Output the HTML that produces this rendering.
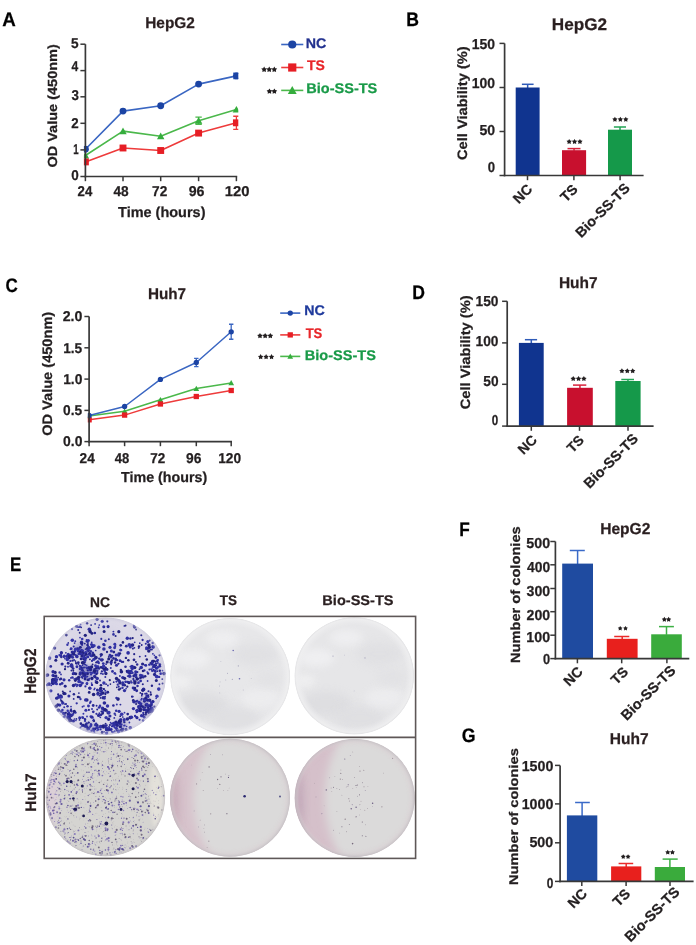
<!DOCTYPE html>
<html><head><meta charset="utf-8"><title>Figure</title>
<style>
html,body{margin:0;padding:0;background:#fff;}
svg{display:block;filter:blur(0.3px);}
text{font-family:"Liberation Sans", sans-serif;font-weight:bold;text-rendering:geometricPrecision;}
</style></head>
<body>
<svg width="696" height="945" viewBox="0 0 696 945">
<rect width="696" height="945" fill="#fff"/>
<clipPath id="ca"><rect x="83.9" y="0" width="154.4" height="945"/></clipPath>
<g clip-path="url(#ca)">
<polyline points="85.40,155.50 123.00,131.10 160.70,136.20 198.60,120.70 236.40,109.50" fill="none" stroke="#4bb84b" stroke-width="1.6" stroke-linejoin="round"/>
<line x1="198.60" y1="117.10" x2="198.60" y2="124.30" stroke="#4bb84b" stroke-width="1.3" />
<line x1="195.40" y1="117.10" x2="201.80" y2="117.10" stroke="#4bb84b" stroke-width="1.4" />
<line x1="195.40" y1="124.30" x2="201.80" y2="124.30" stroke="#4bb84b" stroke-width="1.4" />
<polygon points="85.40,151.88 89.13,158.60 81.67,158.60" fill="#35ad3d"/>
<polygon points="123.00,127.48 126.73,134.20 119.27,134.20" fill="#35ad3d"/>
<polygon points="160.70,132.58 164.43,139.30 156.97,139.30" fill="#35ad3d"/>
<polygon points="198.60,117.08 202.33,123.81 194.87,123.81" fill="#35ad3d"/>
<polygon points="236.40,105.88 240.13,112.61 232.67,112.61" fill="#35ad3d"/>
<polyline points="85.40,161.90 123.00,148.00 160.70,150.50 198.60,133.10 236.40,122.80" fill="none" stroke="#ee3b3b" stroke-width="1.6" stroke-linejoin="round"/>
<line x1="236.40" y1="116.20" x2="236.40" y2="129.40" stroke="#ee3b3b" stroke-width="1.3" />
<line x1="233.20" y1="116.20" x2="239.60" y2="116.20" stroke="#ee3b3b" stroke-width="1.4" />
<line x1="233.20" y1="129.40" x2="239.60" y2="129.40" stroke="#ee3b3b" stroke-width="1.4" />
<rect x="81.95" y="158.45" width="6.90" height="6.90" fill="#e61e25" />
<rect x="119.55" y="144.55" width="6.90" height="6.90" fill="#e61e25" />
<rect x="157.25" y="147.05" width="6.90" height="6.90" fill="#e61e25" />
<rect x="195.15" y="129.65" width="6.90" height="6.90" fill="#e61e25" />
<rect x="232.95" y="119.35" width="6.90" height="6.90" fill="#e61e25" />
<polyline points="85.40,149.30 123.00,111.10 160.70,105.70 198.60,84.10 236.40,75.90" fill="none" stroke="#3a66c2" stroke-width="1.6" stroke-linejoin="round"/>
<line x1="236.40" y1="73.30" x2="236.40" y2="78.50" stroke="#3a66c2" stroke-width="1.3" />
<line x1="233.20" y1="73.30" x2="239.60" y2="73.30" stroke="#3a66c2" stroke-width="1.4" />
<line x1="233.20" y1="78.50" x2="239.60" y2="78.50" stroke="#3a66c2" stroke-width="1.4" />
<circle cx="85.40" cy="149.30" r="3.45" fill="#1c44a4"/>
<circle cx="123.00" cy="111.10" r="3.45" fill="#1c44a4"/>
<circle cx="160.70" cy="105.70" r="3.45" fill="#1c44a4"/>
<circle cx="198.60" cy="84.10" r="3.45" fill="#1c44a4"/>
<circle cx="236.40" cy="75.90" r="3.45" fill="#1c44a4"/>
</g>
<line x1="85.40" y1="44.20" x2="85.40" y2="177.30" stroke="#383838" stroke-width="1.7" />
<line x1="84.55" y1="176.50" x2="237.20" y2="176.50" stroke="#383838" stroke-width="1.7" />
<line x1="80.40" y1="176.50" x2="85.40" y2="176.50" stroke="#383838" stroke-width="1.5" />
<line x1="80.40" y1="149.90" x2="85.40" y2="149.90" stroke="#383838" stroke-width="1.5" />
<line x1="80.40" y1="123.30" x2="85.40" y2="123.30" stroke="#383838" stroke-width="1.5" />
<line x1="80.40" y1="96.80" x2="85.40" y2="96.80" stroke="#383838" stroke-width="1.5" />
<line x1="80.40" y1="70.60" x2="85.40" y2="70.60" stroke="#383838" stroke-width="1.5" />
<line x1="80.40" y1="44.20" x2="85.40" y2="44.20" stroke="#383838" stroke-width="1.5" />
<line x1="85.40" y1="176.50" x2="85.40" y2="181.20" stroke="#383838" stroke-width="1.5" />
<line x1="123.00" y1="176.50" x2="123.00" y2="181.20" stroke="#383838" stroke-width="1.5" />
<line x1="160.70" y1="176.50" x2="160.70" y2="181.20" stroke="#383838" stroke-width="1.5" />
<line x1="198.60" y1="176.50" x2="198.60" y2="181.20" stroke="#383838" stroke-width="1.5" />
<line x1="236.40" y1="176.50" x2="236.40" y2="181.20" stroke="#383838" stroke-width="1.5" />
<clipPath id="cc"><rect x="87.8" y="0" width="152.2" height="945"/></clipPath>
<g clip-path="url(#cc)">
<polyline points="89.10,416.00 124.60,411.20 160.40,399.70 196.30,388.50 231.20,382.90" fill="none" stroke="#4bb84b" stroke-width="1.5" stroke-linejoin="round"/>
<polygon points="89.10,413.22 91.96,418.38 86.24,418.38" fill="#35ad3d"/>
<polygon points="124.60,408.42 127.46,413.58 121.74,413.58" fill="#35ad3d"/>
<polygon points="160.40,396.92 163.26,402.08 157.54,402.08" fill="#35ad3d"/>
<polygon points="196.30,385.72 199.16,390.88 193.44,390.88" fill="#35ad3d"/>
<polygon points="231.20,380.12 234.06,385.28 228.34,385.28" fill="#35ad3d"/>
<polyline points="89.10,419.80 124.60,415.10 160.40,404.00 196.30,396.50 231.20,390.50" fill="none" stroke="#ee3b3b" stroke-width="1.5" stroke-linejoin="round"/>
<line x1="231.20" y1="388.90" x2="231.20" y2="392.10" stroke="#ee3b3b" stroke-width="1.3" />
<line x1="229.00" y1="388.90" x2="233.40" y2="388.90" stroke="#ee3b3b" stroke-width="1.4" />
<line x1="229.00" y1="392.10" x2="233.40" y2="392.10" stroke="#ee3b3b" stroke-width="1.4" />
<rect x="86.45" y="417.15" width="5.30" height="5.30" fill="#e61e25" />
<rect x="121.95" y="412.45" width="5.30" height="5.30" fill="#e61e25" />
<rect x="157.75" y="401.35" width="5.30" height="5.30" fill="#e61e25" />
<rect x="193.65" y="393.85" width="5.30" height="5.30" fill="#e61e25" />
<rect x="228.55" y="387.85" width="5.30" height="5.30" fill="#e61e25" />
<polyline points="89.10,415.50 124.60,406.50 160.40,379.40 196.30,362.50 231.20,331.80" fill="none" stroke="#3a66c2" stroke-width="1.5" stroke-linejoin="round"/>
<line x1="196.30" y1="358.40" x2="196.30" y2="366.60" stroke="#3a66c2" stroke-width="1.3" />
<line x1="194.10" y1="358.40" x2="198.50" y2="358.40" stroke="#3a66c2" stroke-width="1.4" />
<line x1="194.10" y1="366.60" x2="198.50" y2="366.60" stroke="#3a66c2" stroke-width="1.4" />
<line x1="231.20" y1="324.30" x2="231.20" y2="339.30" stroke="#3a66c2" stroke-width="1.3" />
<line x1="229.00" y1="324.30" x2="233.40" y2="324.30" stroke="#3a66c2" stroke-width="1.4" />
<line x1="229.00" y1="339.30" x2="233.40" y2="339.30" stroke="#3a66c2" stroke-width="1.4" />
<circle cx="89.10" cy="415.50" r="2.65" fill="#1c44a4"/>
<circle cx="124.60" cy="406.50" r="2.65" fill="#1c44a4"/>
<circle cx="160.40" cy="379.40" r="2.65" fill="#1c44a4"/>
<circle cx="196.30" cy="362.50" r="2.65" fill="#1c44a4"/>
<circle cx="231.20" cy="331.80" r="2.65" fill="#1c44a4"/>
</g>
<line x1="89.10" y1="316.50" x2="89.10" y2="442.40" stroke="#383838" stroke-width="1.7" />
<line x1="88.25" y1="441.60" x2="232.00" y2="441.60" stroke="#383838" stroke-width="1.7" />
<line x1="84.40" y1="441.60" x2="89.10" y2="441.60" stroke="#383838" stroke-width="1.5" />
<line x1="84.40" y1="410.40" x2="89.10" y2="410.40" stroke="#383838" stroke-width="1.5" />
<line x1="84.40" y1="379.10" x2="89.10" y2="379.10" stroke="#383838" stroke-width="1.5" />
<line x1="84.40" y1="347.80" x2="89.10" y2="347.80" stroke="#383838" stroke-width="1.5" />
<line x1="84.40" y1="316.50" x2="89.10" y2="316.50" stroke="#383838" stroke-width="1.5" />
<line x1="89.10" y1="441.60" x2="89.10" y2="446.20" stroke="#383838" stroke-width="1.5" />
<line x1="124.60" y1="441.60" x2="124.60" y2="446.20" stroke="#383838" stroke-width="1.5" />
<line x1="160.40" y1="441.60" x2="160.40" y2="446.20" stroke="#383838" stroke-width="1.5" />
<line x1="196.30" y1="441.60" x2="196.30" y2="446.20" stroke="#383838" stroke-width="1.5" />
<line x1="231.20" y1="441.60" x2="231.20" y2="446.20" stroke="#383838" stroke-width="1.5" />
<line x1="281.20" y1="44.50" x2="303.30" y2="44.50" stroke="#3a66c2" stroke-width="1.6" />
<circle cx="292.25" cy="44.50" r="4.10" fill="#1c44a4"/>
<line x1="281.20" y1="67.50" x2="303.30" y2="67.50" stroke="#ee3b3b" stroke-width="1.6" />
<rect x="288.15" y="63.40" width="8.20" height="8.20" fill="#e61e25" />
<line x1="281.20" y1="90.40" x2="303.30" y2="90.40" stroke="#4bb84b" stroke-width="1.6" />
<polygon points="292.25,86.09 296.68,94.09 287.82,94.09" fill="#35ad3d"/>
<line x1="280.20" y1="313.10" x2="300.30" y2="313.10" stroke="#3a66c2" stroke-width="1.6" />
<circle cx="290.25" cy="313.10" r="2.65" fill="#1c44a4"/>
<line x1="280.20" y1="334.90" x2="300.30" y2="334.90" stroke="#ee3b3b" stroke-width="1.6" />
<rect x="287.60" y="332.25" width="5.30" height="5.30" fill="#e61e25" />
<line x1="280.20" y1="356.40" x2="300.30" y2="356.40" stroke="#4bb84b" stroke-width="1.6" />
<polygon points="290.25,353.62 293.11,358.78 287.39,358.78" fill="#35ad3d"/>
<polygon points="264.15,66.50 265.13,68.19 267.04,68.60 265.74,70.06 265.94,72.01 264.15,71.22 262.36,72.01 262.55,70.06 261.25,68.60 263.16,68.19" fill="#231f20"/>
<polygon points="269.23,66.50 270.21,68.19 272.12,68.60 270.82,70.06 271.01,72.01 269.23,71.22 267.44,72.01 267.63,70.06 266.33,68.60 268.24,68.19" fill="#231f20"/>
<polygon points="274.30,66.50 275.29,68.19 277.20,68.60 275.90,70.06 276.09,72.01 274.30,71.22 272.51,72.01 272.71,70.06 271.41,68.60 273.32,68.19" fill="#231f20"/>
<polygon points="269.44,88.40 270.40,90.06 272.28,90.46 271.00,91.89 271.19,93.80 269.44,93.03 267.68,93.80 267.88,91.89 266.60,90.46 268.47,90.06" fill="#231f20"/>
<polygon points="274.36,88.40 275.33,90.06 277.20,90.46 275.92,91.89 276.12,93.80 274.36,93.03 272.61,93.80 272.80,91.89 271.52,90.46 273.40,90.06" fill="#231f20"/>
<polygon points="259.98,333.00 260.93,334.62 262.76,335.02 261.51,336.42 261.70,338.29 259.98,337.53 258.26,338.29 258.45,336.42 257.20,335.02 259.04,334.62" fill="#231f20"/>
<polygon points="265.15,333.00 266.10,334.62 267.93,335.02 266.68,336.42 266.87,338.29 265.15,337.53 263.43,338.29 263.62,336.42 262.37,335.02 264.20,334.62" fill="#231f20"/>
<polygon points="270.32,333.00 271.26,334.62 273.10,335.02 271.85,336.42 272.04,338.29 270.32,337.53 268.60,338.29 268.79,336.42 267.54,335.02 269.37,334.62" fill="#231f20"/>
<polygon points="260.67,354.10 261.58,355.66 263.34,356.04 262.14,357.38 262.32,359.18 260.67,358.45 259.02,359.18 259.20,357.38 258.00,356.04 259.76,355.66" fill="#231f20"/>
<polygon points="266.10,354.10 267.01,355.66 268.77,356.04 267.57,357.38 267.75,359.18 266.10,358.45 264.45,359.18 264.63,357.38 263.43,356.04 265.19,355.66" fill="#231f20"/>
<polygon points="271.53,354.10 272.44,355.66 274.20,356.04 273.00,357.38 273.18,359.18 271.53,358.45 269.88,359.18 270.06,357.38 268.86,356.04 270.62,355.66" fill="#231f20"/>
<line x1="527.65" y1="84.30" x2="527.65" y2="88.00" stroke="#2f5bb8" stroke-width="1.5" />
<line x1="521.90" y1="84.30" x2="533.60" y2="84.30" stroke="#2f5bb8" stroke-width="1.5" />
<rect x="515.70" y="87.50" width="23.90" height="88.00" fill="#10348f" />
<line x1="574.05" y1="148.60" x2="574.05" y2="150.70" stroke="#d8203a" stroke-width="1.5" />
<line x1="567.50" y1="148.60" x2="580.50" y2="148.60" stroke="#d8203a" stroke-width="1.5" />
<rect x="562.00" y="150.20" width="24.10" height="25.30" fill="#c8102e" />
<line x1="620.00" y1="127.00" x2="620.00" y2="130.20" stroke="#22a555" stroke-width="1.5" />
<line x1="613.90" y1="127.00" x2="626.00" y2="127.00" stroke="#22a555" stroke-width="1.5" />
<rect x="608.00" y="129.70" width="24.00" height="45.80" fill="#15994a" />
<line x1="504.60" y1="43.40" x2="504.60" y2="176.30" stroke="#383838" stroke-width="1.7" />
<line x1="503.75" y1="175.50" x2="643.60" y2="175.50" stroke="#383838" stroke-width="1.7" />
<line x1="499.50" y1="175.50" x2="504.60" y2="175.50" stroke="#383838" stroke-width="1.5" />
<line x1="499.50" y1="131.50" x2="504.60" y2="131.50" stroke="#383838" stroke-width="1.5" />
<line x1="499.50" y1="87.50" x2="504.60" y2="87.50" stroke="#383838" stroke-width="1.5" />
<line x1="499.50" y1="43.40" x2="504.60" y2="43.40" stroke="#383838" stroke-width="1.5" />
<line x1="527.50" y1="175.50" x2="527.50" y2="180.20" stroke="#383838" stroke-width="1.5" />
<line x1="573.90" y1="175.50" x2="573.90" y2="180.20" stroke="#383838" stroke-width="1.5" />
<line x1="620.10" y1="175.50" x2="620.10" y2="180.20" stroke="#383838" stroke-width="1.5" />
<polygon points="569.17,138.90 570.08,140.46 571.84,140.84 570.64,142.18 570.82,143.98 569.17,143.25 567.52,143.98 567.70,142.18 566.50,140.84 568.26,140.46" fill="#231f20"/>
<polygon points="574.55,138.90 575.46,140.46 577.22,140.84 576.02,142.18 576.20,143.98 574.55,143.25 572.90,143.98 573.08,142.18 571.88,140.84 573.64,140.46" fill="#231f20"/>
<polygon points="579.93,138.90 580.84,140.46 582.60,140.84 581.40,142.18 581.58,143.98 579.93,143.25 578.28,143.98 578.46,142.18 577.26,140.84 579.02,140.46" fill="#231f20"/>
<polygon points="614.91,116.70 615.80,118.22 617.52,118.60 616.35,119.91 616.53,121.67 614.91,120.96 613.30,121.67 613.48,119.91 612.30,118.60 614.02,118.22" fill="#231f20"/>
<polygon points="620.35,116.70 621.24,118.22 622.96,118.60 621.79,119.91 621.96,121.67 620.35,120.96 618.74,121.67 618.91,119.91 617.74,118.60 619.46,118.22" fill="#231f20"/>
<polygon points="625.79,116.70 626.68,118.22 628.40,118.60 627.22,119.91 627.40,121.67 625.79,120.96 624.17,121.67 624.35,119.91 623.18,118.60 624.90,118.22" fill="#231f20"/>
<line x1="531.30" y1="339.70" x2="531.30" y2="343.40" stroke="#2f5bb8" stroke-width="1.5" />
<line x1="524.90" y1="339.70" x2="537.10" y2="339.70" stroke="#2f5bb8" stroke-width="1.5" />
<rect x="518.90" y="342.90" width="24.80" height="83.20" fill="#10348f" />
<line x1="579.95" y1="385.10" x2="579.95" y2="388.30" stroke="#d8203a" stroke-width="1.5" />
<line x1="573.00" y1="385.10" x2="586.30" y2="385.10" stroke="#d8203a" stroke-width="1.5" />
<rect x="567.10" y="387.80" width="25.70" height="38.30" fill="#c8102e" />
<line x1="627.95" y1="379.50" x2="627.95" y2="381.50" stroke="#22a555" stroke-width="1.5" />
<line x1="621.30" y1="379.50" x2="634.00" y2="379.50" stroke="#22a555" stroke-width="1.5" />
<rect x="615.30" y="381.00" width="25.30" height="45.10" fill="#15994a" />
<line x1="507.20" y1="301.30" x2="507.20" y2="426.90" stroke="#383838" stroke-width="1.7" />
<line x1="506.35" y1="426.10" x2="653.60" y2="426.10" stroke="#383838" stroke-width="1.7" />
<line x1="502.10" y1="426.10" x2="507.20" y2="426.10" stroke="#383838" stroke-width="1.5" />
<line x1="502.10" y1="384.30" x2="507.20" y2="384.30" stroke="#383838" stroke-width="1.5" />
<line x1="502.10" y1="342.90" x2="507.20" y2="342.90" stroke="#383838" stroke-width="1.5" />
<line x1="502.10" y1="301.30" x2="507.20" y2="301.30" stroke="#383838" stroke-width="1.5" />
<line x1="531.30" y1="426.10" x2="531.30" y2="430.80" stroke="#383838" stroke-width="1.5" />
<line x1="579.50" y1="426.10" x2="579.50" y2="430.80" stroke="#383838" stroke-width="1.5" />
<line x1="628.00" y1="426.10" x2="628.00" y2="430.80" stroke="#383838" stroke-width="1.5" />
<polygon points="573.23,375.90 574.15,377.49 575.95,377.88 574.72,379.25 574.91,381.08 573.23,380.34 571.54,381.08 571.73,379.25 570.50,377.88 572.30,377.49" fill="#231f20"/>
<polygon points="578.55,375.90 579.48,377.49 581.28,377.88 580.05,379.25 580.23,381.08 578.55,380.34 576.87,381.08 577.05,379.25 575.82,377.88 577.62,377.49" fill="#231f20"/>
<polygon points="583.87,375.90 584.80,377.49 586.60,377.88 585.37,379.25 585.56,381.08 583.87,380.34 582.19,381.08 582.38,379.25 581.15,377.88 582.95,377.49" fill="#231f20"/>
<polygon points="621.91,368.30 622.80,369.82 624.52,370.20 623.35,371.51 623.53,373.27 621.91,372.56 620.30,373.27 620.48,371.51 619.30,370.20 621.02,369.82" fill="#231f20"/>
<polygon points="627.30,368.30 628.19,369.82 629.91,370.20 628.74,371.51 628.91,373.27 627.30,372.56 625.69,373.27 625.86,371.51 624.69,370.20 626.41,369.82" fill="#231f20"/>
<polygon points="632.69,368.30 633.58,369.82 635.30,370.20 634.12,371.51 634.30,373.27 632.69,372.56 631.07,373.27 631.25,371.51 630.08,370.20 631.80,369.82" fill="#231f20"/>
<line x1="577.60" y1="550.50" x2="577.60" y2="564.10" stroke="#3a6ac8" stroke-width="1.5" />
<line x1="569.80" y1="550.50" x2="584.80" y2="550.50" stroke="#3a6ac8" stroke-width="1.5" />
<rect x="562.20" y="563.60" width="30.80" height="95.00" fill="#1f4ba0" />
<line x1="622.20" y1="636.50" x2="622.20" y2="639.30" stroke="#ea2b2b" stroke-width="1.5" />
<line x1="614.20" y1="636.50" x2="629.30" y2="636.50" stroke="#ea2b2b" stroke-width="1.5" />
<rect x="606.80" y="638.80" width="30.80" height="19.80" fill="#e8201d" />
<line x1="666.50" y1="626.60" x2="666.50" y2="634.80" stroke="#3db044" stroke-width="1.5" />
<line x1="659.00" y1="626.60" x2="673.90" y2="626.60" stroke="#3db044" stroke-width="1.5" />
<rect x="651.20" y="634.30" width="30.60" height="24.30" fill="#3aab3c" />
<line x1="555.40" y1="541.50" x2="555.40" y2="659.40" stroke="#383838" stroke-width="1.7" />
<line x1="554.55" y1="658.60" x2="689.30" y2="658.60" stroke="#383838" stroke-width="1.7" />
<line x1="550.30" y1="658.60" x2="555.40" y2="658.60" stroke="#383838" stroke-width="1.5" />
<line x1="550.30" y1="635.20" x2="555.40" y2="635.20" stroke="#383838" stroke-width="1.5" />
<line x1="550.30" y1="611.70" x2="555.40" y2="611.70" stroke="#383838" stroke-width="1.5" />
<line x1="550.30" y1="588.50" x2="555.40" y2="588.50" stroke="#383838" stroke-width="1.5" />
<line x1="550.30" y1="564.80" x2="555.40" y2="564.80" stroke="#383838" stroke-width="1.5" />
<line x1="550.30" y1="541.50" x2="555.40" y2="541.50" stroke="#383838" stroke-width="1.5" />
<line x1="577.40" y1="658.60" x2="577.40" y2="663.30" stroke="#383838" stroke-width="1.5" />
<line x1="621.70" y1="658.60" x2="621.70" y2="663.30" stroke="#383838" stroke-width="1.5" />
<line x1="666.90" y1="658.60" x2="666.90" y2="663.30" stroke="#383838" stroke-width="1.5" />
<polygon points="620.18,625.90 621.00,627.29 622.57,627.63 621.50,628.83 621.66,630.44 620.18,629.79 618.71,630.44 618.87,628.83 617.80,627.63 619.37,627.29" fill="#231f20"/>
<polygon points="625.52,625.90 626.33,627.29 627.90,627.63 626.83,628.83 626.99,630.44 625.52,629.79 624.04,630.44 624.20,628.83 623.13,627.63 624.70,627.29" fill="#231f20"/>
<polygon points="664.35,616.80 665.22,618.29 666.91,618.66 665.76,619.94 665.93,621.66 664.35,620.96 662.78,621.66 662.95,619.94 661.80,618.66 663.49,618.29" fill="#231f20"/>
<polygon points="668.65,616.80 669.51,618.29 671.20,618.66 670.05,619.94 670.22,621.66 668.65,620.96 667.07,621.66 667.24,619.94 666.09,618.66 667.78,618.29" fill="#231f20"/>
<line x1="582.10" y1="802.50" x2="582.10" y2="815.90" stroke="#3a6ac8" stroke-width="1.5" />
<line x1="575.10" y1="802.50" x2="589.80" y2="802.50" stroke="#3a6ac8" stroke-width="1.5" />
<rect x="566.90" y="815.40" width="30.40" height="66.00" fill="#1f4ba0" />
<line x1="626.20" y1="863.50" x2="626.20" y2="866.90" stroke="#ea2b2b" stroke-width="1.5" />
<line x1="618.60" y1="863.50" x2="633.20" y2="863.50" stroke="#ea2b2b" stroke-width="1.5" />
<rect x="611.10" y="866.40" width="30.20" height="15.00" fill="#e8201d" />
<line x1="669.90" y1="859.10" x2="669.90" y2="867.50" stroke="#3db044" stroke-width="1.5" />
<line x1="662.60" y1="859.10" x2="677.70" y2="859.10" stroke="#3db044" stroke-width="1.5" />
<rect x="654.80" y="867.00" width="30.20" height="14.40" fill="#3aab3c" />
<line x1="560.10" y1="765.40" x2="560.10" y2="882.20" stroke="#383838" stroke-width="1.7" />
<line x1="559.25" y1="881.40" x2="693.60" y2="881.40" stroke="#383838" stroke-width="1.7" />
<line x1="555.00" y1="881.40" x2="560.10" y2="881.40" stroke="#383838" stroke-width="1.5" />
<line x1="555.00" y1="842.80" x2="560.10" y2="842.80" stroke="#383838" stroke-width="1.5" />
<line x1="555.00" y1="803.90" x2="560.10" y2="803.90" stroke="#383838" stroke-width="1.5" />
<line x1="555.00" y1="765.40" x2="560.10" y2="765.40" stroke="#383838" stroke-width="1.5" />
<line x1="581.80" y1="881.40" x2="581.80" y2="886.10" stroke="#383838" stroke-width="1.5" />
<line x1="626.10" y1="881.40" x2="626.10" y2="886.10" stroke="#383838" stroke-width="1.5" />
<line x1="670.00" y1="881.40" x2="670.00" y2="886.10" stroke="#383838" stroke-width="1.5" />
<polygon points="623.24,854.20 624.07,855.62 625.68,855.97 624.58,857.20 624.75,858.84 623.24,858.18 621.73,858.84 621.90,857.20 620.80,855.97 622.41,855.62" fill="#231f20"/>
<polygon points="628.06,854.20 628.89,855.62 630.50,855.97 629.40,857.20 629.57,858.84 628.06,858.18 626.55,858.84 626.72,857.20 625.62,855.97 627.23,855.62" fill="#231f20"/>
<polygon points="667.75,849.70 668.62,851.19 670.31,851.56 669.16,852.84 669.33,854.56 667.75,853.86 666.18,854.56 666.35,852.84 665.20,851.56 666.89,851.19" fill="#231f20"/>
<polygon points="672.45,849.70 673.31,851.19 675.00,851.56 673.85,852.84 674.02,854.56 672.45,853.86 670.87,854.56 671.04,852.84 669.89,851.56 671.58,851.19" fill="#231f20"/>
<defs>
<filter id="blur2" x="-30%" y="-30%" width="160%" height="160%"><feGaussianBlur stdDeviation="2.2"/></filter>
<filter id="blur4" x="-40%" y="-40%" width="180%" height="180%"><feGaussianBlur stdDeviation="4"/></filter>
<filter id="blur7" x="-40%" y="-40%" width="180%" height="180%"><feGaussianBlur stdDeviation="7"/></filter>
<filter id="soft"><feGaussianBlur stdDeviation="0.35"/></filter>
<radialGradient id="rimA" cx="50%" cy="50%" r="50%"><stop offset="0.92" stop-color="#dcdae8" stop-opacity="0"/><stop offset="1" stop-color="#c4c2d6" stop-opacity="0.6"/></radialGradient>
<radialGradient id="rimL" cx="50%" cy="50%" r="50%"><stop offset="0.86" stop-color="#eeeef0" stop-opacity="0"/><stop offset="0.97" stop-color="#f0f0f1" stop-opacity="0.8"/><stop offset="1" stop-color="#e2e2e4" stop-opacity="0.7"/></radialGradient>
<radialGradient id="rimG" cx="50%" cy="50%" r="50%"><stop offset="0.93" stop-color="#d8d8d8" stop-opacity="0"/><stop offset="1" stop-color="#bdb8bd" stop-opacity="0.7"/></radialGradient>
<clipPath id="d1"><ellipse cx="105.5" cy="676.2" rx="60.4" ry="58.7"/></clipPath>
<clipPath id="d2"><ellipse cx="230.2" cy="676.6" rx="60.0" ry="58.6"/></clipPath>
<clipPath id="d3"><ellipse cx="354.3" cy="675.8" rx="59.8" ry="58.6"/></clipPath>
<clipPath id="d4"><ellipse cx="105.4" cy="797.6" rx="59.8" ry="58.8"/></clipPath>
<clipPath id="d5"><ellipse cx="230.0" cy="797.8" rx="60.0" ry="59.0"/></clipPath>
<clipPath id="d6"><ellipse cx="354.7" cy="797.9" rx="60.0" ry="59.0"/></clipPath>
</defs>
<g clip-path="url(#d1)">
<ellipse cx="105.5" cy="676.2" rx="60.4" ry="58.7" fill="#dcd9e7"/>
<ellipse cx="100" cy="645" rx="22" ry="14" fill="#cfcbe0" opacity="0.8" filter="url(#blur4)"/>
<circle cx="80.8" cy="649.3" r="7.0" fill="#4a47a0" opacity="0.28" filter="url(#blur2)"/>
<circle cx="86.1" cy="672.1" r="7.7" fill="#4a47a0" opacity="0.44" filter="url(#blur2)"/>
<circle cx="135.1" cy="677.3" r="5.6" fill="#4a47a0" opacity="0.18" filter="url(#blur2)"/>
<circle cx="156.2" cy="666.8" r="4.9" fill="#4a47a0" opacity="0.20" filter="url(#blur2)"/>
<circle cx="143.9" cy="703.6" r="6.3" fill="#4a47a0" opacity="0.32" filter="url(#blur2)"/>
<circle cx="149.2" cy="714.2" r="4.9" fill="#4a47a0" opacity="0.22" filter="url(#blur2)"/>
<circle cx="89.6" cy="728.2" r="6.3" fill="#4a47a0" opacity="0.30" filter="url(#blur2)"/>
<circle cx="121.1" cy="724.7" r="6.3" fill="#4a47a0" opacity="0.30" filter="url(#blur2)"/>
<circle cx="66.8" cy="714.2" r="4.9" fill="#4a47a0" opacity="0.18" filter="url(#blur2)"/>
<circle cx="72.2" cy="652.0" r="1.59" fill="#2a2a96"/>
<circle cx="87.8" cy="645.7" r="0.96" fill="#3030a0"/>
<circle cx="71.5" cy="648.8" r="1.18" fill="#3535a8"/>
<circle cx="84.2" cy="657.0" r="1.04" fill="#2a2a96"/>
<circle cx="72.3" cy="640.2" r="1.76" fill="#3535a8"/>
<circle cx="85.8" cy="652.6" r="1.63" fill="#2f2fa0"/>
<circle cx="91.6" cy="656.2" r="0.99" fill="#3030a0"/>
<circle cx="80.1" cy="647.4" r="1.18" fill="#25258a"/>
<circle cx="98.8" cy="647.3" r="1.73" fill="#3030a0"/>
<circle cx="75.3" cy="641.3" r="0.94" fill="#3535a8"/>
<circle cx="81.5" cy="650.3" r="1.55" fill="#3030a0"/>
<circle cx="78.4" cy="648.9" r="1.72" fill="#3030a0"/>
<circle cx="82.7" cy="654.2" r="0.96" fill="#3030a0"/>
<circle cx="88.5" cy="650.8" r="1.43" fill="#25258a"/>
<circle cx="68.3" cy="654.2" r="1.55" fill="#2f2fa0"/>
<circle cx="70.9" cy="648.1" r="0.88" fill="#3535a8"/>
<circle cx="70.5" cy="649.3" r="1.00" fill="#2f2fa0"/>
<circle cx="75.4" cy="650.8" r="0.86" fill="#2a2a96"/>
<circle cx="103.9" cy="649.0" r="1.78" fill="#3030a0"/>
<circle cx="86.7" cy="640.0" r="1.03" fill="#3030a0"/>
<circle cx="78.8" cy="653.9" r="1.30" fill="#3535a8"/>
<circle cx="80.2" cy="651.9" r="1.74" fill="#3030a0"/>
<circle cx="81.5" cy="642.2" r="1.64" fill="#3030a0"/>
<circle cx="84.8" cy="643.6" r="0.90" fill="#25258a"/>
<circle cx="93.9" cy="645.8" r="1.82" fill="#3535a8"/>
<circle cx="85.6" cy="649.3" r="1.00" fill="#2f2fa0"/>
<circle cx="87.5" cy="645.1" r="1.30" fill="#25258a"/>
<circle cx="87.8" cy="648.4" r="1.83" fill="#22227e"/>
<circle cx="89.7" cy="653.7" r="1.35" fill="#3030a0"/>
<circle cx="81.8" cy="643.8" r="1.45" fill="#2a2a96"/>
<circle cx="86.2" cy="652.6" r="1.12" fill="#3535a8"/>
<circle cx="92.3" cy="646.7" r="1.51" fill="#2a2a96"/>
<circle cx="84.7" cy="652.9" r="1.26" fill="#3535a8"/>
<circle cx="82.8" cy="650.8" r="1.34" fill="#3535a8"/>
<circle cx="82.1" cy="645.1" r="0.94" fill="#3030a0"/>
<circle cx="73.7" cy="646.5" r="1.04" fill="#2a2a96"/>
<circle cx="85.0" cy="659.9" r="1.67" fill="#3535a8"/>
<circle cx="87.7" cy="656.7" r="1.54" fill="#2f2fa0"/>
<circle cx="86.3" cy="654.2" r="0.95" fill="#22227e"/>
<circle cx="82.1" cy="654.7" r="1.52" fill="#3030a0"/>
<circle cx="93.2" cy="647.0" r="0.90" fill="#3535a8"/>
<circle cx="75.9" cy="663.0" r="1.01" fill="#25258a"/>
<circle cx="82.5" cy="656.1" r="1.40" fill="#2a2a96"/>
<circle cx="86.9" cy="641.3" r="1.35" fill="#3030a0"/>
<circle cx="97.9" cy="661.8" r="1.51" fill="#2a2a96"/>
<circle cx="82.1" cy="654.6" r="1.02" fill="#2a2a96"/>
<circle cx="81.7" cy="643.1" r="1.71" fill="#25258a"/>
<circle cx="80.0" cy="651.9" r="1.22" fill="#22227e"/>
<circle cx="88.6" cy="654.3" r="1.31" fill="#3535a8"/>
<circle cx="81.2" cy="658.8" r="1.51" fill="#25258a"/>
<circle cx="75.5" cy="654.9" r="0.88" fill="#2f2fa0"/>
<circle cx="88.6" cy="647.3" r="1.20" fill="#3535a8"/>
<circle cx="68.3" cy="642.9" r="0.86" fill="#2a2a96"/>
<circle cx="82.5" cy="653.0" r="1.64" fill="#22227e"/>
<circle cx="91.7" cy="642.3" r="0.86" fill="#3030a0"/>
<circle cx="80.8" cy="653.9" r="1.21" fill="#25258a"/>
<circle cx="79.7" cy="632.7" r="0.93" fill="#22227e"/>
<circle cx="86.5" cy="665.5" r="1.05" fill="#3535a8"/>
<circle cx="87.9" cy="642.9" r="1.02" fill="#2a2a96"/>
<circle cx="82.9" cy="673.8" r="1.03" fill="#25258a"/>
<circle cx="105.3" cy="676.9" r="0.99" fill="#3030a0"/>
<circle cx="86.9" cy="684.1" r="1.21" fill="#2f2fa0"/>
<circle cx="85.4" cy="686.4" r="1.09" fill="#2f2fa0"/>
<circle cx="80.8" cy="668.4" r="1.54" fill="#2a2a96"/>
<circle cx="91.6" cy="683.1" r="0.88" fill="#3535a8"/>
<circle cx="91.1" cy="674.4" r="1.15" fill="#3535a8"/>
<circle cx="72.0" cy="666.6" r="1.50" fill="#22227e"/>
<circle cx="81.4" cy="668.0" r="1.56" fill="#22227e"/>
<circle cx="90.6" cy="669.5" r="1.70" fill="#25258a"/>
<circle cx="92.1" cy="672.7" r="1.28" fill="#3535a8"/>
<circle cx="83.5" cy="673.0" r="1.85" fill="#22227e"/>
<circle cx="89.4" cy="678.7" r="0.87" fill="#2f2fa0"/>
<circle cx="82.4" cy="670.3" r="1.50" fill="#2a2a96"/>
<circle cx="75.6" cy="684.5" r="1.31" fill="#2f2fa0"/>
<circle cx="97.3" cy="670.7" r="1.24" fill="#25258a"/>
<circle cx="82.4" cy="662.6" r="1.53" fill="#22227e"/>
<circle cx="87.4" cy="673.7" r="1.45" fill="#25258a"/>
<circle cx="102.9" cy="674.0" r="0.97" fill="#3030a0"/>
<circle cx="80.1" cy="653.2" r="0.86" fill="#2a2a96"/>
<circle cx="96.9" cy="673.6" r="1.14" fill="#3535a8"/>
<circle cx="73.7" cy="673.5" r="1.81" fill="#3535a8"/>
<circle cx="73.7" cy="698.9" r="0.92" fill="#25258a"/>
<circle cx="94.7" cy="676.5" r="1.68" fill="#2a2a96"/>
<circle cx="84.7" cy="655.6" r="1.23" fill="#2a2a96"/>
<circle cx="85.1" cy="660.1" r="0.97" fill="#3030a0"/>
<circle cx="90.7" cy="655.6" r="1.31" fill="#2f2fa0"/>
<circle cx="79.1" cy="681.5" r="1.84" fill="#3535a8"/>
<circle cx="98.7" cy="663.0" r="1.26" fill="#3030a0"/>
<circle cx="74.2" cy="678.9" r="0.96" fill="#3030a0"/>
<circle cx="92.6" cy="664.5" r="0.95" fill="#22227e"/>
<circle cx="80.7" cy="666.7" r="1.09" fill="#2a2a96"/>
<circle cx="76.9" cy="666.8" r="1.43" fill="#2f2fa0"/>
<circle cx="95.7" cy="677.4" r="0.96" fill="#22227e"/>
<circle cx="101.9" cy="671.4" r="1.15" fill="#2a2a96"/>
<circle cx="85.0" cy="664.5" r="1.07" fill="#3030a0"/>
<circle cx="85.1" cy="662.0" r="1.07" fill="#3535a8"/>
<circle cx="72.4" cy="677.5" r="1.31" fill="#2f2fa0"/>
<circle cx="97.2" cy="678.5" r="1.78" fill="#3030a0"/>
<circle cx="96.3" cy="674.0" r="1.17" fill="#22227e"/>
<circle cx="80.5" cy="672.8" r="1.66" fill="#3030a0"/>
<circle cx="83.2" cy="663.5" r="0.88" fill="#25258a"/>
<circle cx="73.0" cy="660.7" r="0.85" fill="#3030a0"/>
<circle cx="86.0" cy="673.3" r="1.19" fill="#3535a8"/>
<circle cx="82.4" cy="683.1" r="1.47" fill="#2f2fa0"/>
<circle cx="87.4" cy="676.6" r="0.96" fill="#2a2a96"/>
<circle cx="95.5" cy="665.8" r="1.43" fill="#3535a8"/>
<circle cx="70.9" cy="677.9" r="0.93" fill="#3030a0"/>
<circle cx="80.8" cy="682.2" r="1.12" fill="#3535a8"/>
<circle cx="88.7" cy="679.9" r="1.11" fill="#2f2fa0"/>
<circle cx="92.0" cy="656.0" r="1.32" fill="#3535a8"/>
<circle cx="91.6" cy="666.9" r="1.65" fill="#22227e"/>
<circle cx="80.2" cy="668.7" r="1.51" fill="#3535a8"/>
<circle cx="92.0" cy="678.9" r="1.46" fill="#3030a0"/>
<circle cx="93.9" cy="659.3" r="1.66" fill="#3535a8"/>
<circle cx="81.5" cy="653.8" r="1.36" fill="#3030a0"/>
<circle cx="85.3" cy="676.7" r="1.69" fill="#3535a8"/>
<circle cx="80.2" cy="674.0" r="1.67" fill="#2a2a96"/>
<circle cx="87.9" cy="679.9" r="1.47" fill="#25258a"/>
<circle cx="79.7" cy="665.7" r="0.94" fill="#22227e"/>
<circle cx="80.2" cy="685.6" r="1.77" fill="#3030a0"/>
<circle cx="94.5" cy="671.1" r="1.84" fill="#3535a8"/>
<circle cx="87.8" cy="673.0" r="1.11" fill="#3030a0"/>
<circle cx="87.6" cy="670.5" r="0.99" fill="#22227e"/>
<circle cx="83.5" cy="662.4" r="1.51" fill="#22227e"/>
<circle cx="81.1" cy="684.8" r="1.28" fill="#3030a0"/>
<circle cx="90.2" cy="672.6" r="1.03" fill="#3030a0"/>
<circle cx="84.4" cy="672.6" r="1.07" fill="#3535a8"/>
<circle cx="88.8" cy="667.1" r="1.03" fill="#3535a8"/>
<circle cx="87.6" cy="673.9" r="0.97" fill="#22227e"/>
<circle cx="80.3" cy="666.0" r="1.06" fill="#3535a8"/>
<circle cx="78.4" cy="663.9" r="1.00" fill="#2f2fa0"/>
<circle cx="92.9" cy="653.9" r="1.48" fill="#3535a8"/>
<circle cx="84.0" cy="667.4" r="0.86" fill="#22227e"/>
<circle cx="81.3" cy="672.8" r="0.86" fill="#2f2fa0"/>
<circle cx="94.8" cy="672.7" r="1.60" fill="#3535a8"/>
<circle cx="85.0" cy="667.4" r="0.86" fill="#3030a0"/>
<circle cx="85.1" cy="679.1" r="1.43" fill="#25258a"/>
<circle cx="83.0" cy="663.2" r="1.48" fill="#22227e"/>
<circle cx="76.3" cy="663.6" r="1.16" fill="#25258a"/>
<circle cx="75.3" cy="680.6" r="1.42" fill="#22227e"/>
<circle cx="88.8" cy="670.3" r="1.09" fill="#2f2fa0"/>
<circle cx="97.3" cy="667.0" r="1.83" fill="#2f2fa0"/>
<circle cx="91.9" cy="678.3" r="1.48" fill="#22227e"/>
<circle cx="74.1" cy="660.1" r="1.02" fill="#3030a0"/>
<circle cx="78.9" cy="679.1" r="1.19" fill="#2a2a96"/>
<circle cx="96.1" cy="662.6" r="0.98" fill="#22227e"/>
<circle cx="94.2" cy="669.1" r="1.03" fill="#3535a8"/>
<circle cx="83.0" cy="667.8" r="1.02" fill="#3030a0"/>
<circle cx="83.6" cy="658.1" r="1.54" fill="#3535a8"/>
<circle cx="78.3" cy="662.6" r="1.37" fill="#25258a"/>
<circle cx="89.9" cy="688.2" r="1.70" fill="#3535a8"/>
<circle cx="107.1" cy="669.5" r="1.38" fill="#2a2a96"/>
<circle cx="60.6" cy="655.8" r="1.30" fill="#3535a8"/>
<circle cx="65.0" cy="669.2" r="1.14" fill="#22227e"/>
<circle cx="73.5" cy="654.0" r="1.84" fill="#22227e"/>
<circle cx="75.5" cy="661.1" r="0.85" fill="#25258a"/>
<circle cx="61.2" cy="655.1" r="1.04" fill="#2a2a96"/>
<circle cx="69.0" cy="658.2" r="0.87" fill="#25258a"/>
<circle cx="71.0" cy="656.2" r="1.23" fill="#2f2fa0"/>
<circle cx="71.4" cy="654.8" r="1.40" fill="#2f2fa0"/>
<circle cx="65.3" cy="666.6" r="1.06" fill="#25258a"/>
<circle cx="72.3" cy="660.5" r="0.90" fill="#22227e"/>
<circle cx="61.3" cy="657.1" r="1.22" fill="#2a2a96"/>
<circle cx="74.9" cy="650.8" r="1.22" fill="#3535a8"/>
<circle cx="76.5" cy="655.9" r="1.36" fill="#2f2fa0"/>
<circle cx="72.6" cy="657.3" r="1.53" fill="#3030a0"/>
<circle cx="71.5" cy="664.8" r="1.65" fill="#22227e"/>
<circle cx="68.0" cy="666.8" r="0.96" fill="#2f2fa0"/>
<circle cx="65.9" cy="652.8" r="0.85" fill="#2a2a96"/>
<circle cx="74.3" cy="652.1" r="1.34" fill="#2a2a96"/>
<circle cx="68.2" cy="663.2" r="1.47" fill="#25258a"/>
<circle cx="77.1" cy="648.1" r="0.85" fill="#2a2a96"/>
<circle cx="73.1" cy="668.6" r="1.41" fill="#2a2a96"/>
<circle cx="77.0" cy="656.7" r="1.37" fill="#25258a"/>
<circle cx="66.9" cy="656.4" r="1.63" fill="#2f2fa0"/>
<circle cx="63.8" cy="656.6" r="1.32" fill="#25258a"/>
<circle cx="69.2" cy="657.3" r="1.41" fill="#25258a"/>
<circle cx="76.9" cy="656.8" r="1.57" fill="#2f2fa0"/>
<circle cx="62.1" cy="664.0" r="1.61" fill="#3030a0"/>
<circle cx="64.3" cy="655.6" r="1.01" fill="#3535a8"/>
<circle cx="69.5" cy="656.1" r="1.72" fill="#22227e"/>
<circle cx="110.2" cy="654.9" r="0.98" fill="#22227e"/>
<circle cx="128.1" cy="652.9" r="1.83" fill="#2f2fa0"/>
<circle cx="115.1" cy="662.6" r="1.23" fill="#22227e"/>
<circle cx="120.0" cy="660.6" r="1.32" fill="#2f2fa0"/>
<circle cx="120.7" cy="645.3" r="1.35" fill="#25258a"/>
<circle cx="111.0" cy="657.0" r="1.53" fill="#3535a8"/>
<circle cx="118.7" cy="663.6" r="0.91" fill="#2f2fa0"/>
<circle cx="118.5" cy="655.0" r="1.72" fill="#3030a0"/>
<circle cx="116.1" cy="655.1" r="1.50" fill="#3535a8"/>
<circle cx="117.3" cy="660.1" r="1.04" fill="#3030a0"/>
<circle cx="114.0" cy="651.8" r="1.03" fill="#25258a"/>
<circle cx="111.1" cy="662.5" r="1.65" fill="#2f2fa0"/>
<circle cx="123.1" cy="661.9" r="1.16" fill="#2a2a96"/>
<circle cx="120.7" cy="661.0" r="0.94" fill="#3030a0"/>
<circle cx="115.9" cy="660.0" r="1.38" fill="#3030a0"/>
<circle cx="110.0" cy="655.2" r="1.48" fill="#3030a0"/>
<circle cx="111.8" cy="660.4" r="1.23" fill="#22227e"/>
<circle cx="112.6" cy="655.7" r="0.85" fill="#25258a"/>
<circle cx="118.1" cy="663.9" r="0.86" fill="#25258a"/>
<circle cx="111.4" cy="651.0" r="1.50" fill="#3535a8"/>
<circle cx="120.5" cy="650.1" r="1.29" fill="#3535a8"/>
<circle cx="118.4" cy="653.1" r="0.86" fill="#2a2a96"/>
<circle cx="115.3" cy="646.1" r="1.10" fill="#3030a0"/>
<circle cx="119.9" cy="653.5" r="1.31" fill="#22227e"/>
<circle cx="110.8" cy="668.0" r="0.98" fill="#3030a0"/>
<circle cx="119.9" cy="676.0" r="0.90" fill="#3030a0"/>
<circle cx="118.2" cy="654.4" r="1.01" fill="#3535a8"/>
<circle cx="116.5" cy="665.3" r="1.52" fill="#2f2fa0"/>
<circle cx="115.7" cy="658.8" r="1.25" fill="#25258a"/>
<circle cx="106.1" cy="664.1" r="0.96" fill="#2a2a96"/>
<circle cx="104.2" cy="666.1" r="0.96" fill="#25258a"/>
<circle cx="97.5" cy="672.9" r="1.00" fill="#2a2a96"/>
<circle cx="106.9" cy="669.0" r="0.85" fill="#25258a"/>
<circle cx="99.1" cy="658.7" r="1.10" fill="#2f2fa0"/>
<circle cx="106.0" cy="668.1" r="0.97" fill="#2a2a96"/>
<circle cx="95.3" cy="668.3" r="0.90" fill="#2a2a96"/>
<circle cx="96.1" cy="668.5" r="1.15" fill="#22227e"/>
<circle cx="104.3" cy="670.3" r="0.92" fill="#22227e"/>
<circle cx="104.7" cy="669.4" r="1.68" fill="#22227e"/>
<circle cx="98.0" cy="666.7" r="1.55" fill="#3535a8"/>
<circle cx="101.1" cy="667.4" r="1.41" fill="#22227e"/>
<circle cx="104.9" cy="671.6" r="0.95" fill="#3535a8"/>
<circle cx="111.6" cy="656.0" r="1.05" fill="#25258a"/>
<circle cx="105.6" cy="667.6" r="1.15" fill="#22227e"/>
<circle cx="114.8" cy="673.2" r="1.26" fill="#2f2fa0"/>
<circle cx="95.5" cy="670.6" r="0.98" fill="#25258a"/>
<circle cx="101.0" cy="673.5" r="1.00" fill="#2a2a96"/>
<circle cx="98.4" cy="668.1" r="1.35" fill="#2a2a96"/>
<circle cx="103.0" cy="668.1" r="1.32" fill="#25258a"/>
<circle cx="100.7" cy="659.6" r="1.20" fill="#25258a"/>
<circle cx="105.9" cy="673.5" r="1.65" fill="#22227e"/>
<circle cx="103.3" cy="663.6" r="1.39" fill="#3030a0"/>
<circle cx="104.6" cy="671.4" r="1.05" fill="#3535a8"/>
<circle cx="102.7" cy="668.5" r="0.87" fill="#22227e"/>
<circle cx="143.0" cy="671.1" r="1.24" fill="#22227e"/>
<circle cx="132.0" cy="666.7" r="1.84" fill="#2f2fa0"/>
<circle cx="131.2" cy="673.2" r="0.87" fill="#2f2fa0"/>
<circle cx="129.8" cy="673.5" r="1.22" fill="#25258a"/>
<circle cx="145.2" cy="676.2" r="1.23" fill="#22227e"/>
<circle cx="134.5" cy="689.7" r="1.24" fill="#2a2a96"/>
<circle cx="134.8" cy="667.6" r="1.64" fill="#22227e"/>
<circle cx="137.4" cy="672.1" r="1.04" fill="#2a2a96"/>
<circle cx="144.3" cy="670.4" r="1.21" fill="#2a2a96"/>
<circle cx="131.9" cy="668.3" r="0.85" fill="#2f2fa0"/>
<circle cx="135.7" cy="671.7" r="1.55" fill="#3030a0"/>
<circle cx="134.8" cy="675.2" r="1.34" fill="#2a2a96"/>
<circle cx="131.7" cy="682.6" r="1.13" fill="#3535a8"/>
<circle cx="140.4" cy="677.7" r="1.28" fill="#22227e"/>
<circle cx="130.1" cy="671.3" r="1.28" fill="#22227e"/>
<circle cx="136.7" cy="690.8" r="1.43" fill="#2a2a96"/>
<circle cx="132.6" cy="672.9" r="1.14" fill="#2f2fa0"/>
<circle cx="131.2" cy="671.2" r="1.38" fill="#2f2fa0"/>
<circle cx="129.7" cy="676.2" r="1.75" fill="#3030a0"/>
<circle cx="143.2" cy="677.3" r="1.23" fill="#25258a"/>
<circle cx="132.3" cy="668.3" r="1.83" fill="#3030a0"/>
<circle cx="136.3" cy="677.2" r="1.31" fill="#2a2a96"/>
<circle cx="128.3" cy="671.3" r="0.94" fill="#3030a0"/>
<circle cx="134.9" cy="683.0" r="1.73" fill="#22227e"/>
<circle cx="138.7" cy="678.5" r="0.87" fill="#25258a"/>
<circle cx="133.3" cy="679.1" r="1.02" fill="#22227e"/>
<circle cx="135.1" cy="689.5" r="1.20" fill="#3030a0"/>
<circle cx="128.8" cy="675.3" r="0.92" fill="#2f2fa0"/>
<circle cx="142.3" cy="675.9" r="1.57" fill="#3030a0"/>
<circle cx="143.1" cy="677.1" r="0.94" fill="#2f2fa0"/>
<circle cx="136.0" cy="675.3" r="0.86" fill="#2a2a96"/>
<circle cx="127.4" cy="671.9" r="1.45" fill="#3030a0"/>
<circle cx="147.6" cy="681.0" r="0.89" fill="#2f2fa0"/>
<circle cx="138.5" cy="682.7" r="1.33" fill="#3030a0"/>
<circle cx="138.3" cy="683.1" r="0.91" fill="#3535a8"/>
<circle cx="133.7" cy="676.1" r="1.35" fill="#25258a"/>
<circle cx="140.7" cy="675.4" r="1.56" fill="#3030a0"/>
<circle cx="127.7" cy="676.1" r="0.92" fill="#3030a0"/>
<circle cx="153.5" cy="669.8" r="0.88" fill="#2a2a96"/>
<circle cx="152.6" cy="661.6" r="1.75" fill="#2a2a96"/>
<circle cx="154.6" cy="674.5" r="1.64" fill="#25258a"/>
<circle cx="155.9" cy="667.6" r="1.07" fill="#3030a0"/>
<circle cx="156.2" cy="668.3" r="0.96" fill="#3030a0"/>
<circle cx="160.7" cy="673.7" r="1.35" fill="#3535a8"/>
<circle cx="148.1" cy="673.5" r="1.17" fill="#2a2a96"/>
<circle cx="156.2" cy="665.3" r="0.95" fill="#25258a"/>
<circle cx="151.1" cy="669.2" r="0.97" fill="#2f2fa0"/>
<circle cx="159.8" cy="666.2" r="1.38" fill="#2a2a96"/>
<circle cx="144.8" cy="665.1" r="0.96" fill="#3030a0"/>
<circle cx="155.2" cy="661.4" r="0.95" fill="#25258a"/>
<circle cx="154.3" cy="665.4" r="1.75" fill="#3030a0"/>
<circle cx="152.3" cy="663.0" r="1.42" fill="#3030a0"/>
<circle cx="156.6" cy="668.4" r="1.38" fill="#3030a0"/>
<circle cx="153.7" cy="666.4" r="1.40" fill="#3030a0"/>
<circle cx="149.4" cy="669.4" r="1.01" fill="#2a2a96"/>
<circle cx="152.5" cy="667.9" r="0.86" fill="#3535a8"/>
<circle cx="151.7" cy="664.3" r="1.28" fill="#2a2a96"/>
<circle cx="157.2" cy="660.9" r="1.21" fill="#2a2a96"/>
<circle cx="155.8" cy="663.2" r="0.88" fill="#25258a"/>
<circle cx="164.0" cy="673.6" r="1.82" fill="#25258a"/>
<circle cx="157.7" cy="660.1" r="1.24" fill="#3535a8"/>
<circle cx="153.7" cy="669.9" r="0.90" fill="#22227e"/>
<circle cx="153.7" cy="661.0" r="1.34" fill="#22227e"/>
<circle cx="150.4" cy="663.0" r="0.91" fill="#22227e"/>
<circle cx="156.2" cy="663.6" r="0.85" fill="#3030a0"/>
<circle cx="156.3" cy="680.5" r="1.50" fill="#22227e"/>
<circle cx="157.9" cy="667.3" r="1.32" fill="#3535a8"/>
<circle cx="155.5" cy="672.0" r="0.92" fill="#3030a0"/>
<circle cx="154.6" cy="665.2" r="0.86" fill="#22227e"/>
<circle cx="154.3" cy="666.3" r="1.64" fill="#2a2a96"/>
<circle cx="162.5" cy="670.6" r="0.89" fill="#3535a8"/>
<circle cx="149.6" cy="664.7" r="1.15" fill="#3535a8"/>
<circle cx="152.3" cy="670.8" r="1.31" fill="#3030a0"/>
<circle cx="157.3" cy="671.2" r="0.91" fill="#25258a"/>
<circle cx="155.9" cy="657.5" r="1.44" fill="#2a2a96"/>
<circle cx="146.8" cy="705.1" r="1.04" fill="#2a2a96"/>
<circle cx="147.1" cy="695.4" r="0.90" fill="#2f2fa0"/>
<circle cx="144.4" cy="699.3" r="1.31" fill="#2a2a96"/>
<circle cx="139.6" cy="705.9" r="0.95" fill="#3030a0"/>
<circle cx="146.1" cy="698.0" r="1.06" fill="#2a2a96"/>
<circle cx="133.1" cy="688.0" r="1.43" fill="#2f2fa0"/>
<circle cx="140.3" cy="710.7" r="1.62" fill="#22227e"/>
<circle cx="143.6" cy="689.4" r="1.83" fill="#2a2a96"/>
<circle cx="138.5" cy="706.3" r="1.28" fill="#2f2fa0"/>
<circle cx="146.2" cy="704.9" r="0.99" fill="#2f2fa0"/>
<circle cx="137.2" cy="700.8" r="1.13" fill="#3535a8"/>
<circle cx="141.8" cy="698.8" r="0.93" fill="#3030a0"/>
<circle cx="144.3" cy="701.2" r="1.20" fill="#2a2a96"/>
<circle cx="146.0" cy="712.7" r="0.91" fill="#22227e"/>
<circle cx="148.6" cy="706.3" r="1.54" fill="#3535a8"/>
<circle cx="142.4" cy="694.1" r="0.90" fill="#22227e"/>
<circle cx="143.2" cy="707.1" r="1.48" fill="#2a2a96"/>
<circle cx="137.5" cy="711.6" r="1.07" fill="#3535a8"/>
<circle cx="141.8" cy="706.0" r="1.00" fill="#22227e"/>
<circle cx="141.8" cy="695.7" r="0.85" fill="#25258a"/>
<circle cx="157.0" cy="696.3" r="1.75" fill="#3535a8"/>
<circle cx="149.7" cy="700.1" r="1.68" fill="#22227e"/>
<circle cx="145.7" cy="698.6" r="1.62" fill="#25258a"/>
<circle cx="141.3" cy="709.4" r="1.23" fill="#3030a0"/>
<circle cx="156.2" cy="698.3" r="0.89" fill="#3535a8"/>
<circle cx="144.0" cy="709.6" r="1.55" fill="#25258a"/>
<circle cx="139.9" cy="708.1" r="1.73" fill="#2a2a96"/>
<circle cx="139.0" cy="707.5" r="1.71" fill="#2a2a96"/>
<circle cx="146.7" cy="711.3" r="0.97" fill="#25258a"/>
<circle cx="146.2" cy="696.1" r="0.99" fill="#2a2a96"/>
<circle cx="148.1" cy="696.7" r="1.41" fill="#3030a0"/>
<circle cx="148.6" cy="713.2" r="0.92" fill="#3535a8"/>
<circle cx="147.7" cy="700.2" r="1.64" fill="#25258a"/>
<circle cx="151.4" cy="704.7" r="1.50" fill="#2a2a96"/>
<circle cx="136.1" cy="701.4" r="1.24" fill="#2a2a96"/>
<circle cx="152.9" cy="701.7" r="1.47" fill="#3030a0"/>
<circle cx="144.7" cy="701.5" r="1.05" fill="#22227e"/>
<circle cx="133.3" cy="700.4" r="1.39" fill="#22227e"/>
<circle cx="146.2" cy="705.0" r="1.69" fill="#22227e"/>
<circle cx="142.8" cy="690.2" r="1.68" fill="#25258a"/>
<circle cx="151.6" cy="708.2" r="1.85" fill="#3535a8"/>
<circle cx="150.4" cy="711.8" r="1.36" fill="#22227e"/>
<circle cx="141.1" cy="699.8" r="0.89" fill="#3535a8"/>
<circle cx="145.9" cy="714.2" r="1.18" fill="#2a2a96"/>
<circle cx="133.3" cy="702.2" r="0.89" fill="#3030a0"/>
<circle cx="139.4" cy="707.2" r="0.86" fill="#3030a0"/>
<circle cx="153.2" cy="701.8" r="1.27" fill="#2f2fa0"/>
<circle cx="136.1" cy="704.0" r="1.01" fill="#22227e"/>
<circle cx="142.1" cy="693.9" r="1.07" fill="#25258a"/>
<circle cx="149.5" cy="700.3" r="1.13" fill="#2a2a96"/>
<circle cx="148.2" cy="695.3" r="0.97" fill="#25258a"/>
<circle cx="150.8" cy="694.5" r="1.19" fill="#22227e"/>
<circle cx="150.6" cy="692.2" r="0.92" fill="#25258a"/>
<circle cx="152.6" cy="701.3" r="0.93" fill="#22227e"/>
<circle cx="134.1" cy="702.2" r="1.30" fill="#3030a0"/>
<circle cx="146.0" cy="697.4" r="0.85" fill="#2a2a96"/>
<circle cx="140.8" cy="705.3" r="1.40" fill="#3030a0"/>
<circle cx="142.8" cy="684.3" r="1.02" fill="#25258a"/>
<circle cx="141.2" cy="706.3" r="1.15" fill="#22227e"/>
<circle cx="145.8" cy="710.0" r="1.34" fill="#2a2a96"/>
<circle cx="139.6" cy="719.8" r="1.11" fill="#2f2fa0"/>
<circle cx="149.0" cy="705.6" r="1.55" fill="#2f2fa0"/>
<circle cx="150.8" cy="709.7" r="1.44" fill="#3535a8"/>
<circle cx="144.6" cy="699.7" r="1.75" fill="#3535a8"/>
<circle cx="150.4" cy="706.3" r="0.97" fill="#22227e"/>
<circle cx="132.0" cy="696.7" r="1.08" fill="#25258a"/>
<circle cx="146.9" cy="704.3" r="1.45" fill="#3535a8"/>
<circle cx="146.3" cy="712.2" r="1.22" fill="#22227e"/>
<circle cx="151.5" cy="709.0" r="0.90" fill="#3030a0"/>
<circle cx="137.4" cy="710.6" r="1.80" fill="#2f2fa0"/>
<circle cx="145.7" cy="714.5" r="0.89" fill="#22227e"/>
<circle cx="150.7" cy="709.6" r="0.90" fill="#2a2a96"/>
<circle cx="143.3" cy="713.1" r="1.10" fill="#2f2fa0"/>
<circle cx="147.2" cy="711.1" r="1.23" fill="#2f2fa0"/>
<circle cx="143.1" cy="720.5" r="1.26" fill="#3030a0"/>
<circle cx="147.6" cy="707.6" r="1.04" fill="#3030a0"/>
<circle cx="153.2" cy="709.8" r="0.86" fill="#2a2a96"/>
<circle cx="139.1" cy="702.4" r="1.75" fill="#2f2fa0"/>
<circle cx="154.4" cy="706.7" r="1.14" fill="#25258a"/>
<circle cx="148.7" cy="712.0" r="1.39" fill="#22227e"/>
<circle cx="143.7" cy="714.8" r="1.13" fill="#25258a"/>
<circle cx="151.8" cy="710.9" r="1.76" fill="#2a2a96"/>
<circle cx="150.4" cy="709.2" r="1.34" fill="#2a2a96"/>
<circle cx="150.7" cy="711.2" r="1.15" fill="#2a2a96"/>
<circle cx="143.4" cy="712.5" r="0.85" fill="#2f2fa0"/>
<circle cx="141.6" cy="715.7" r="1.63" fill="#2f2fa0"/>
<circle cx="136.7" cy="717.2" r="1.21" fill="#2f2fa0"/>
<circle cx="152.6" cy="707.9" r="0.87" fill="#3030a0"/>
<circle cx="148.3" cy="710.7" r="1.58" fill="#25258a"/>
<circle cx="83.1" cy="725.4" r="1.72" fill="#25258a"/>
<circle cx="109.0" cy="729.5" r="1.38" fill="#3030a0"/>
<circle cx="90.9" cy="724.1" r="1.05" fill="#3535a8"/>
<circle cx="85.7" cy="724.7" r="1.24" fill="#22227e"/>
<circle cx="88.9" cy="722.6" r="0.95" fill="#2a2a96"/>
<circle cx="97.2" cy="725.4" r="1.39" fill="#25258a"/>
<circle cx="88.6" cy="722.6" r="0.99" fill="#25258a"/>
<circle cx="90.9" cy="725.7" r="1.33" fill="#3535a8"/>
<circle cx="91.4" cy="730.4" r="0.93" fill="#3535a8"/>
<circle cx="85.2" cy="719.3" r="1.16" fill="#25258a"/>
<circle cx="94.0" cy="721.0" r="1.16" fill="#22227e"/>
<circle cx="93.4" cy="730.6" r="0.90" fill="#25258a"/>
<circle cx="91.4" cy="730.9" r="0.86" fill="#2f2fa0"/>
<circle cx="87.5" cy="729.5" r="1.04" fill="#25258a"/>
<circle cx="95.4" cy="725.0" r="1.39" fill="#3030a0"/>
<circle cx="80.5" cy="727.5" r="0.99" fill="#3535a8"/>
<circle cx="90.8" cy="716.5" r="1.30" fill="#3535a8"/>
<circle cx="88.6" cy="728.8" r="1.56" fill="#3535a8"/>
<circle cx="100.6" cy="726.9" r="1.79" fill="#3030a0"/>
<circle cx="85.0" cy="720.9" r="1.16" fill="#3535a8"/>
<circle cx="95.2" cy="728.8" r="1.39" fill="#25258a"/>
<circle cx="94.4" cy="732.0" r="0.87" fill="#2a2a96"/>
<circle cx="93.5" cy="720.5" r="0.86" fill="#3535a8"/>
<circle cx="96.1" cy="723.6" r="1.22" fill="#3030a0"/>
<circle cx="97.2" cy="727.6" r="1.78" fill="#3535a8"/>
<circle cx="87.0" cy="716.5" r="0.90" fill="#3535a8"/>
<circle cx="86.7" cy="725.2" r="0.87" fill="#2f2fa0"/>
<circle cx="93.7" cy="730.5" r="1.50" fill="#3535a8"/>
<circle cx="80.9" cy="723.7" r="1.35" fill="#25258a"/>
<circle cx="81.8" cy="726.0" r="1.05" fill="#2f2fa0"/>
<circle cx="85.0" cy="726.4" r="1.45" fill="#2a2a96"/>
<circle cx="106.1" cy="717.6" r="1.67" fill="#3535a8"/>
<circle cx="93.1" cy="720.4" r="0.89" fill="#2f2fa0"/>
<circle cx="91.5" cy="724.6" r="0.89" fill="#3030a0"/>
<circle cx="87.2" cy="727.4" r="1.46" fill="#22227e"/>
<circle cx="93.5" cy="729.0" r="1.38" fill="#2f2fa0"/>
<circle cx="104.5" cy="727.0" r="1.02" fill="#2f2fa0"/>
<circle cx="86.6" cy="723.6" r="1.30" fill="#2a2a96"/>
<circle cx="84.7" cy="719.1" r="0.98" fill="#2a2a96"/>
<circle cx="90.0" cy="727.1" r="1.02" fill="#2f2fa0"/>
<circle cx="117.6" cy="723.0" r="1.10" fill="#2a2a96"/>
<circle cx="116.2" cy="724.1" r="0.88" fill="#2a2a96"/>
<circle cx="116.0" cy="722.3" r="1.81" fill="#25258a"/>
<circle cx="120.0" cy="723.3" r="1.15" fill="#2f2fa0"/>
<circle cx="119.4" cy="721.6" r="1.59" fill="#22227e"/>
<circle cx="129.4" cy="722.5" r="0.91" fill="#3535a8"/>
<circle cx="114.7" cy="725.9" r="1.00" fill="#3535a8"/>
<circle cx="114.3" cy="717.9" r="0.93" fill="#3030a0"/>
<circle cx="121.7" cy="714.2" r="1.78" fill="#3535a8"/>
<circle cx="100.8" cy="726.5" r="1.73" fill="#3535a8"/>
<circle cx="127.7" cy="714.1" r="1.31" fill="#25258a"/>
<circle cx="115.5" cy="728.3" r="0.86" fill="#3535a8"/>
<circle cx="108.6" cy="719.2" r="1.70" fill="#2a2a96"/>
<circle cx="113.5" cy="723.4" r="1.57" fill="#2f2fa0"/>
<circle cx="108.7" cy="730.3" r="0.89" fill="#22227e"/>
<circle cx="120.2" cy="726.6" r="1.20" fill="#22227e"/>
<circle cx="119.1" cy="711.3" r="1.64" fill="#2f2fa0"/>
<circle cx="120.2" cy="716.2" r="0.91" fill="#22227e"/>
<circle cx="121.2" cy="719.3" r="1.01" fill="#2f2fa0"/>
<circle cx="119.1" cy="723.3" r="1.29" fill="#25258a"/>
<circle cx="126.0" cy="729.5" r="1.49" fill="#25258a"/>
<circle cx="114.8" cy="724.6" r="1.38" fill="#3030a0"/>
<circle cx="130.3" cy="727.8" r="1.75" fill="#2f2fa0"/>
<circle cx="116.5" cy="723.9" r="1.14" fill="#2a2a96"/>
<circle cx="118.9" cy="730.6" r="1.19" fill="#2f2fa0"/>
<circle cx="121.3" cy="727.0" r="0.91" fill="#3535a8"/>
<circle cx="135.1" cy="716.0" r="1.18" fill="#3030a0"/>
<circle cx="114.7" cy="713.7" r="1.17" fill="#2f2fa0"/>
<circle cx="111.1" cy="730.1" r="1.05" fill="#2f2fa0"/>
<circle cx="108.7" cy="719.1" r="0.94" fill="#22227e"/>
<circle cx="121.3" cy="724.6" r="1.30" fill="#2f2fa0"/>
<circle cx="121.3" cy="730.0" r="0.87" fill="#22227e"/>
<circle cx="120.1" cy="726.7" r="1.29" fill="#22227e"/>
<circle cx="130.3" cy="717.6" r="1.82" fill="#22227e"/>
<circle cx="116.4" cy="728.2" r="1.54" fill="#3535a8"/>
<circle cx="119.5" cy="723.7" r="1.09" fill="#3030a0"/>
<circle cx="118.5" cy="731.6" r="1.82" fill="#3535a8"/>
<circle cx="137.0" cy="717.7" r="1.52" fill="#2a2a96"/>
<circle cx="116.9" cy="725.4" r="1.35" fill="#25258a"/>
<circle cx="124.4" cy="722.2" r="1.14" fill="#22227e"/>
<circle cx="124.2" cy="719.7" r="1.62" fill="#3030a0"/>
<circle cx="117.3" cy="725.3" r="1.38" fill="#25258a"/>
<circle cx="136.2" cy="710.5" r="1.07" fill="#3030a0"/>
<circle cx="124.0" cy="725.6" r="0.86" fill="#3535a8"/>
<circle cx="120.3" cy="719.3" r="1.01" fill="#2a2a96"/>
<circle cx="131.4" cy="717.2" r="1.80" fill="#2f2fa0"/>
<circle cx="120.3" cy="721.4" r="1.73" fill="#25258a"/>
<circle cx="116.2" cy="710.7" r="1.28" fill="#3030a0"/>
<circle cx="118.7" cy="725.5" r="0.88" fill="#2f2fa0"/>
<circle cx="122.0" cy="730.0" r="1.82" fill="#22227e"/>
<circle cx="120.1" cy="720.6" r="1.68" fill="#2a2a96"/>
<circle cx="123.1" cy="728.9" r="1.22" fill="#3535a8"/>
<circle cx="115.4" cy="715.1" r="0.94" fill="#2a2a96"/>
<circle cx="114.7" cy="731.4" r="1.04" fill="#3535a8"/>
<circle cx="127.4" cy="719.1" r="1.76" fill="#25258a"/>
<circle cx="121.8" cy="730.0" r="1.74" fill="#25258a"/>
<circle cx="114.4" cy="727.2" r="1.00" fill="#3535a8"/>
<circle cx="104.1" cy="731.8" r="0.85" fill="#3030a0"/>
<circle cx="107.6" cy="729.7" r="1.26" fill="#25258a"/>
<circle cx="106.1" cy="727.9" r="1.18" fill="#2a2a96"/>
<circle cx="111.8" cy="731.7" r="0.88" fill="#2a2a96"/>
<circle cx="109.0" cy="726.8" r="0.87" fill="#3030a0"/>
<circle cx="110.0" cy="729.9" r="1.30" fill="#2a2a96"/>
<circle cx="102.0" cy="731.6" r="0.95" fill="#3535a8"/>
<circle cx="106.2" cy="729.9" r="1.29" fill="#25258a"/>
<circle cx="103.2" cy="727.8" r="1.01" fill="#22227e"/>
<circle cx="109.9" cy="725.0" r="1.10" fill="#25258a"/>
<circle cx="100.7" cy="729.6" r="0.96" fill="#2f2fa0"/>
<circle cx="106.8" cy="725.3" r="1.04" fill="#3030a0"/>
<circle cx="111.3" cy="729.2" r="1.26" fill="#2f2fa0"/>
<circle cx="109.3" cy="727.5" r="1.03" fill="#3030a0"/>
<circle cx="106.5" cy="728.0" r="0.87" fill="#22227e"/>
<circle cx="102.1" cy="732.6" r="1.36" fill="#22227e"/>
<circle cx="110.6" cy="722.7" r="0.87" fill="#3535a8"/>
<circle cx="107.7" cy="729.9" r="1.31" fill="#25258a"/>
<circle cx="103.4" cy="726.1" r="1.84" fill="#22227e"/>
<circle cx="57.8" cy="709.8" r="0.99" fill="#25258a"/>
<circle cx="68.0" cy="716.7" r="1.78" fill="#3535a8"/>
<circle cx="72.5" cy="714.8" r="1.35" fill="#3535a8"/>
<circle cx="76.4" cy="718.9" r="0.89" fill="#25258a"/>
<circle cx="61.2" cy="711.6" r="1.38" fill="#2f2fa0"/>
<circle cx="67.7" cy="710.7" r="1.20" fill="#3535a8"/>
<circle cx="69.4" cy="717.5" r="1.56" fill="#3030a0"/>
<circle cx="70.9" cy="715.3" r="1.43" fill="#3030a0"/>
<circle cx="62.4" cy="710.0" r="1.30" fill="#3535a8"/>
<circle cx="74.5" cy="719.0" r="0.87" fill="#2f2fa0"/>
<circle cx="68.6" cy="717.5" r="1.48" fill="#2f2fa0"/>
<circle cx="70.8" cy="720.5" r="1.79" fill="#25258a"/>
<circle cx="71.0" cy="706.6" r="0.88" fill="#2f2fa0"/>
<circle cx="71.5" cy="716.1" r="1.14" fill="#22227e"/>
<circle cx="64.5" cy="716.7" r="1.26" fill="#3030a0"/>
<circle cx="68.2" cy="713.9" r="1.52" fill="#25258a"/>
<circle cx="69.5" cy="713.9" r="0.88" fill="#25258a"/>
<circle cx="70.3" cy="715.0" r="1.55" fill="#2a2a96"/>
<circle cx="68.9" cy="712.4" r="1.17" fill="#3535a8"/>
<circle cx="63.6" cy="716.7" r="0.87" fill="#2f2fa0"/>
<circle cx="65.0" cy="715.1" r="0.86" fill="#25258a"/>
<circle cx="82.8" cy="717.7" r="1.35" fill="#3030a0"/>
<circle cx="67.5" cy="706.2" r="1.28" fill="#3030a0"/>
<circle cx="67.3" cy="717.9" r="0.92" fill="#25258a"/>
<circle cx="63.3" cy="713.0" r="1.20" fill="#2f2fa0"/>
<circle cx="73.5" cy="713.4" r="1.11" fill="#2a2a96"/>
<circle cx="71.6" cy="715.4" r="0.96" fill="#3030a0"/>
<circle cx="65.8" cy="712.8" r="1.14" fill="#22227e"/>
<circle cx="71.1" cy="709.2" r="0.89" fill="#2f2fa0"/>
<circle cx="70.9" cy="710.6" r="1.25" fill="#22227e"/>
<circle cx="48.2" cy="684.1" r="1.27" fill="#2a2a96"/>
<circle cx="49.1" cy="684.1" r="1.79" fill="#2f2fa0"/>
<circle cx="55.4" cy="682.9" r="1.60" fill="#3535a8"/>
<circle cx="56.7" cy="684.0" r="1.32" fill="#3535a8"/>
<circle cx="56.0" cy="681.5" r="1.59" fill="#3535a8"/>
<circle cx="55.6" cy="683.7" r="0.91" fill="#3535a8"/>
<circle cx="52.9" cy="683.4" r="1.75" fill="#2f2fa0"/>
<circle cx="60.9" cy="678.8" r="1.35" fill="#25258a"/>
<circle cx="56.4" cy="676.9" r="0.91" fill="#2f2fa0"/>
<circle cx="53.3" cy="680.2" r="1.71" fill="#2a2a96"/>
<circle cx="53.1" cy="675.4" r="1.71" fill="#3535a8"/>
<circle cx="54.4" cy="679.9" r="1.61" fill="#25258a"/>
<circle cx="55.9" cy="682.1" r="0.87" fill="#25258a"/>
<circle cx="47.1" cy="685.0" r="1.35" fill="#3030a0"/>
<circle cx="53.8" cy="675.9" r="1.22" fill="#25258a"/>
<circle cx="53.0" cy="681.0" r="1.12" fill="#3535a8"/>
<circle cx="58.2" cy="677.6" r="0.85" fill="#25258a"/>
<circle cx="55.2" cy="672.4" r="1.54" fill="#22227e"/>
<circle cx="55.2" cy="678.6" r="1.40" fill="#3030a0"/>
<circle cx="52.7" cy="682.8" r="1.66" fill="#22227e"/>
<circle cx="62.1" cy="683.4" r="1.41" fill="#2f2fa0"/>
<circle cx="51.2" cy="685.5" r="0.86" fill="#3535a8"/>
<circle cx="53.1" cy="678.9" r="1.25" fill="#2a2a96"/>
<circle cx="52.1" cy="681.0" r="1.23" fill="#3535a8"/>
<circle cx="56.8" cy="679.7" r="1.38" fill="#2f2fa0"/>
<circle cx="101.0" cy="690.8" r="1.60" fill="#2a2a96"/>
<circle cx="100.2" cy="695.5" r="0.87" fill="#2f2fa0"/>
<circle cx="99.7" cy="690.8" r="1.05" fill="#25258a"/>
<circle cx="101.0" cy="688.2" r="1.53" fill="#2a2a96"/>
<circle cx="100.9" cy="685.2" r="1.28" fill="#22227e"/>
<circle cx="103.6" cy="693.6" r="1.06" fill="#2f2fa0"/>
<circle cx="100.6" cy="697.9" r="0.92" fill="#25258a"/>
<circle cx="98.4" cy="693.7" r="0.85" fill="#2f2fa0"/>
<circle cx="103.8" cy="689.1" r="0.92" fill="#2a2a96"/>
<circle cx="100.8" cy="695.1" r="0.93" fill="#3535a8"/>
<circle cx="102.1" cy="692.6" r="1.01" fill="#2a2a96"/>
<circle cx="107.7" cy="692.3" r="1.46" fill="#25258a"/>
<circle cx="94.8" cy="688.3" r="0.86" fill="#3535a8"/>
<circle cx="105.3" cy="690.8" r="1.04" fill="#3535a8"/>
<circle cx="97.3" cy="683.1" r="0.88" fill="#25258a"/>
<circle cx="103.2" cy="697.7" r="1.75" fill="#2a2a96"/>
<circle cx="96.6" cy="682.3" r="1.73" fill="#22227e"/>
<circle cx="103.9" cy="689.1" r="1.03" fill="#22227e"/>
<circle cx="100.6" cy="690.0" r="1.75" fill="#2f2fa0"/>
<circle cx="98.1" cy="693.2" r="1.62" fill="#25258a"/>
<circle cx="105.7" cy="692.9" r="0.93" fill="#2f2fa0"/>
<circle cx="99.5" cy="695.7" r="0.88" fill="#25258a"/>
<circle cx="101.4" cy="693.8" r="1.70" fill="#2a2a96"/>
<circle cx="97.9" cy="694.1" r="1.61" fill="#3030a0"/>
<circle cx="105.0" cy="696.8" r="1.01" fill="#2a2a96"/>
<circle cx="149.3" cy="647.3" r="1.69" fill="#22227e"/>
<circle cx="147.2" cy="648.9" r="0.85" fill="#25258a"/>
<circle cx="151.9" cy="649.6" r="0.98" fill="#25258a"/>
<circle cx="147.8" cy="641.6" r="1.56" fill="#3535a8"/>
<circle cx="148.9" cy="645.1" r="1.76" fill="#22227e"/>
<circle cx="146.6" cy="647.9" r="1.63" fill="#3535a8"/>
<circle cx="152.5" cy="647.2" r="0.86" fill="#2f2fa0"/>
<circle cx="153.0" cy="647.2" r="1.08" fill="#22227e"/>
<circle cx="145.8" cy="643.8" r="1.03" fill="#2f2fa0"/>
<circle cx="147.9" cy="648.2" r="1.18" fill="#2a2a96"/>
<circle cx="152.4" cy="646.3" r="1.00" fill="#25258a"/>
<circle cx="152.7" cy="643.0" r="1.23" fill="#3535a8"/>
<circle cx="148.8" cy="651.0" r="1.73" fill="#22227e"/>
<circle cx="150.7" cy="649.4" r="0.99" fill="#2a2a96"/>
<circle cx="142.6" cy="640.0" r="1.13" fill="#2a2a96"/>
<circle cx="146.2" cy="649.3" r="1.02" fill="#3535a8"/>
<circle cx="76.6" cy="626.3" r="1.54" fill="#2a2a96"/>
<circle cx="78.2" cy="630.0" r="0.97" fill="#2a2a96"/>
<circle cx="81.2" cy="627.3" r="0.85" fill="#25258a"/>
<circle cx="78.1" cy="627.2" r="0.90" fill="#2f2fa0"/>
<circle cx="80.6" cy="624.5" r="0.85" fill="#3535a8"/>
<circle cx="79.8" cy="626.7" r="1.29" fill="#3030a0"/>
<circle cx="129.0" cy="682.6" r="1.66" fill="#25258a"/>
<circle cx="122.6" cy="684.2" r="0.85" fill="#22227e"/>
<circle cx="119.6" cy="682.8" r="1.21" fill="#2a2a96"/>
<circle cx="119.9" cy="681.1" r="1.10" fill="#3535a8"/>
<circle cx="118.5" cy="680.1" r="1.53" fill="#22227e"/>
<circle cx="127.7" cy="682.0" r="1.36" fill="#2a2a96"/>
<circle cx="120.5" cy="688.6" r="1.03" fill="#25258a"/>
<circle cx="122.5" cy="687.7" r="1.18" fill="#3030a0"/>
<circle cx="122.8" cy="677.6" r="1.69" fill="#3030a0"/>
<circle cx="131.0" cy="681.1" r="0.89" fill="#25258a"/>
<circle cx="127.3" cy="686.7" r="1.14" fill="#22227e"/>
<circle cx="120.1" cy="682.9" r="1.69" fill="#22227e"/>
<circle cx="122.7" cy="684.7" r="1.20" fill="#2a2a96"/>
<circle cx="124.6" cy="678.3" r="1.60" fill="#22227e"/>
<circle cx="124.8" cy="685.3" r="1.22" fill="#22227e"/>
<circle cx="123.6" cy="684.6" r="1.71" fill="#2a2a96"/>
<circle cx="122.8" cy="682.5" r="1.29" fill="#2f2fa0"/>
<circle cx="61.2" cy="700.8" r="1.06" fill="#22227e"/>
<circle cx="65.0" cy="704.1" r="0.91" fill="#22227e"/>
<circle cx="63.3" cy="703.1" r="0.97" fill="#3535a8"/>
<circle cx="60.4" cy="695.4" r="0.88" fill="#3030a0"/>
<circle cx="64.2" cy="707.3" r="1.00" fill="#3535a8"/>
<circle cx="60.7" cy="699.1" r="0.85" fill="#2f2fa0"/>
<circle cx="59.7" cy="705.1" r="1.69" fill="#3535a8"/>
<circle cx="61.0" cy="696.1" r="1.66" fill="#25258a"/>
<circle cx="59.1" cy="697.0" r="1.79" fill="#3535a8"/>
<circle cx="59.0" cy="696.5" r="1.43" fill="#3030a0"/>
<circle cx="56.2" cy="706.3" r="1.74" fill="#22227e"/>
<circle cx="64.1" cy="693.5" r="1.75" fill="#22227e"/>
<circle cx="55.8" cy="698.3" r="0.87" fill="#3535a8"/>
<circle cx="58.2" cy="694.5" r="1.16" fill="#25258a"/>
<circle cx="63.5" cy="693.5" r="0.91" fill="#22227e"/>
<circle cx="62.7" cy="703.0" r="1.67" fill="#3535a8"/>
<circle cx="58.3" cy="697.5" r="0.89" fill="#3535a8"/>
<circle cx="102.1" cy="711.3" r="0.89" fill="#22227e"/>
<circle cx="93.2" cy="705.5" r="1.38" fill="#2a2a96"/>
<circle cx="104.1" cy="710.2" r="0.92" fill="#3535a8"/>
<circle cx="100.2" cy="706.6" r="1.09" fill="#3535a8"/>
<circle cx="99.0" cy="707.5" r="1.21" fill="#2f2fa0"/>
<circle cx="113.4" cy="705.5" r="1.29" fill="#2a2a96"/>
<circle cx="108.2" cy="712.7" r="1.74" fill="#22227e"/>
<circle cx="102.8" cy="711.5" r="0.94" fill="#2f2fa0"/>
<circle cx="100.3" cy="717.3" r="0.92" fill="#3030a0"/>
<circle cx="104.0" cy="710.6" r="1.16" fill="#3030a0"/>
<circle cx="101.4" cy="711.5" r="1.04" fill="#25258a"/>
<circle cx="97.2" cy="709.4" r="1.01" fill="#2a2a96"/>
<circle cx="99.3" cy="713.2" r="0.89" fill="#2f2fa0"/>
<circle cx="104.4" cy="703.0" r="1.83" fill="#2a2a96"/>
<circle cx="101.0" cy="714.8" r="1.36" fill="#2a2a96"/>
<circle cx="96.6" cy="705.8" r="0.95" fill="#2a2a96"/>
<circle cx="106.0" cy="710.2" r="1.69" fill="#25258a"/>
<circle cx="100.0" cy="705.7" r="1.23" fill="#3535a8"/>
<circle cx="102.6" cy="708.4" r="1.80" fill="#3030a0"/>
<circle cx="102.8" cy="712.4" r="1.27" fill="#2f2fa0"/>
<circle cx="104.8" cy="709.4" r="1.48" fill="#22227e"/>
<circle cx="104.1" cy="631.6" r="1.50" fill="#22227e"/>
<circle cx="113.5" cy="634.4" r="1.29" fill="#3030a0"/>
<circle cx="120.6" cy="649.7" r="1.02" fill="#3030a0"/>
<circle cx="72.6" cy="674.1" r="0.89" fill="#25258a"/>
<circle cx="89.3" cy="648.0" r="1.80" fill="#2f2fa0"/>
<circle cx="152.9" cy="653.8" r="0.91" fill="#3030a0"/>
<circle cx="69.5" cy="719.3" r="1.79" fill="#2a2a96"/>
<circle cx="103.6" cy="666.2" r="1.73" fill="#3535a8"/>
<circle cx="142.6" cy="664.0" r="1.62" fill="#25258a"/>
<circle cx="52.1" cy="682.1" r="1.25" fill="#2a2a96"/>
<circle cx="124.5" cy="690.6" r="1.67" fill="#3030a0"/>
<circle cx="98.6" cy="715.4" r="1.60" fill="#2a2a96"/>
<circle cx="132.7" cy="638.1" r="1.07" fill="#22227e"/>
<circle cx="88.5" cy="706.0" r="1.46" fill="#3535a8"/>
<circle cx="82.5" cy="677.9" r="0.86" fill="#22227e"/>
<circle cx="108.8" cy="712.6" r="1.84" fill="#3535a8"/>
<circle cx="140.8" cy="703.8" r="1.63" fill="#2f2fa0"/>
<circle cx="93.3" cy="711.8" r="1.37" fill="#3030a0"/>
<circle cx="145.1" cy="707.6" r="1.11" fill="#2a2a96"/>
<circle cx="159.9" cy="664.7" r="1.34" fill="#2a2a96"/>
<circle cx="130.3" cy="646.9" r="1.50" fill="#3535a8"/>
<circle cx="114.8" cy="644.2" r="1.45" fill="#3535a8"/>
<circle cx="92.0" cy="660.9" r="1.14" fill="#2f2fa0"/>
<circle cx="124.5" cy="712.7" r="0.90" fill="#3535a8"/>
<circle cx="89.2" cy="692.4" r="1.39" fill="#22227e"/>
<circle cx="87.9" cy="650.3" r="1.44" fill="#2f2fa0"/>
<circle cx="154.4" cy="655.3" r="0.85" fill="#3535a8"/>
<circle cx="56.5" cy="656.8" r="1.72" fill="#2f2fa0"/>
<circle cx="134.7" cy="642.3" r="0.89" fill="#3535a8"/>
<circle cx="134.9" cy="681.6" r="1.58" fill="#22227e"/>
<circle cx="127.3" cy="638.3" r="1.71" fill="#3030a0"/>
<circle cx="87.4" cy="668.1" r="1.56" fill="#3030a0"/>
<circle cx="93.8" cy="655.2" r="1.65" fill="#22227e"/>
<circle cx="110.0" cy="729.3" r="0.91" fill="#25258a"/>
<circle cx="69.8" cy="720.9" r="1.31" fill="#25258a"/>
<circle cx="83.9" cy="706.0" r="0.87" fill="#3030a0"/>
<circle cx="97.1" cy="730.5" r="0.86" fill="#3030a0"/>
<circle cx="71.6" cy="665.4" r="1.83" fill="#3030a0"/>
<circle cx="130.4" cy="638.4" r="1.23" fill="#2a2a96"/>
<circle cx="78.1" cy="697.0" r="1.37" fill="#22227e"/>
<circle cx="159.6" cy="655.3" r="1.16" fill="#2a2a96"/>
<circle cx="67.3" cy="659.4" r="1.79" fill="#3535a8"/>
<circle cx="121.8" cy="661.9" r="1.14" fill="#2a2a96"/>
<circle cx="122.9" cy="642.4" r="1.29" fill="#22227e"/>
<circle cx="119.5" cy="721.7" r="1.34" fill="#22227e"/>
<circle cx="148.5" cy="691.3" r="1.05" fill="#2a2a96"/>
<circle cx="106.1" cy="684.2" r="0.85" fill="#25258a"/>
<circle cx="128.4" cy="670.7" r="1.32" fill="#3535a8"/>
<circle cx="125.5" cy="666.7" r="1.28" fill="#2a2a96"/>
<circle cx="91.6" cy="644.5" r="1.51" fill="#2f2fa0"/>
<circle cx="117.7" cy="684.7" r="1.14" fill="#3030a0"/>
<circle cx="107.3" cy="621.3" r="1.08" fill="#2a2a96"/>
<circle cx="120.9" cy="670.0" r="1.24" fill="#25258a"/>
<circle cx="116.8" cy="687.3" r="0.86" fill="#22227e"/>
<circle cx="134.2" cy="654.2" r="1.08" fill="#25258a"/>
<circle cx="93.7" cy="719.3" r="0.86" fill="#2a2a96"/>
<circle cx="104.4" cy="645.0" r="1.26" fill="#3030a0"/>
<circle cx="146.6" cy="693.7" r="1.08" fill="#2a2a96"/>
<circle cx="141.5" cy="677.6" r="0.87" fill="#22227e"/>
<circle cx="150.2" cy="701.0" r="1.10" fill="#2a2a96"/>
<circle cx="75.4" cy="712.3" r="1.03" fill="#3030a0"/>
<circle cx="100.0" cy="680.5" r="0.92" fill="#22227e"/>
<circle cx="149.7" cy="640.5" r="1.00" fill="#25258a"/>
<circle cx="78.9" cy="693.1" r="0.85" fill="#25258a"/>
<circle cx="54.0" cy="682.7" r="1.10" fill="#3030a0"/>
<circle cx="140.2" cy="675.1" r="0.99" fill="#3535a8"/>
<circle cx="74.3" cy="711.4" r="1.63" fill="#22227e"/>
<circle cx="148.4" cy="708.0" r="0.97" fill="#22227e"/>
<circle cx="111.5" cy="723.8" r="1.04" fill="#3535a8"/>
<circle cx="141.3" cy="635.3" r="1.04" fill="#25258a"/>
<circle cx="89.3" cy="629.3" r="1.77" fill="#3030a0"/>
<circle cx="49.5" cy="658.1" r="1.84" fill="#2f2fa0"/>
<circle cx="92.0" cy="717.2" r="1.65" fill="#3030a0"/>
<circle cx="119.6" cy="723.4" r="1.06" fill="#25258a"/>
<circle cx="70.1" cy="691.4" r="0.89" fill="#3030a0"/>
<circle cx="151.0" cy="702.9" r="0.87" fill="#22227e"/>
<circle cx="68.9" cy="696.0" r="1.52" fill="#2f2fa0"/>
<circle cx="97.1" cy="619.3" r="1.59" fill="#2a2a96"/>
<circle cx="86.1" cy="654.5" r="1.32" fill="#22227e"/>
<circle cx="121.2" cy="650.2" r="1.14" fill="#3535a8"/>
<circle cx="118.0" cy="699.1" r="1.80" fill="#22227e"/>
<circle cx="128.9" cy="672.3" r="1.79" fill="#2a2a96"/>
<circle cx="158.8" cy="689.1" r="1.82" fill="#3535a8"/>
<circle cx="88.3" cy="640.5" r="1.58" fill="#3030a0"/>
<circle cx="134.0" cy="659.8" r="1.38" fill="#25258a"/>
<circle cx="82.6" cy="665.4" r="0.87" fill="#2f2fa0"/>
<circle cx="62.8" cy="691.6" r="1.00" fill="#22227e"/>
<circle cx="96.4" cy="713.8" r="1.11" fill="#3030a0"/>
<circle cx="94.5" cy="671.1" r="1.81" fill="#22227e"/>
<circle cx="106.3" cy="728.1" r="1.84" fill="#3030a0"/>
<circle cx="86.9" cy="700.1" r="1.73" fill="#25258a"/>
<circle cx="73.5" cy="685.5" r="1.70" fill="#25258a"/>
<circle cx="79.5" cy="719.9" r="0.87" fill="#22227e"/>
<circle cx="79.7" cy="717.8" r="1.56" fill="#3535a8"/>
<circle cx="126.8" cy="670.9" r="0.87" fill="#3030a0"/>
<circle cx="157.9" cy="663.0" r="0.89" fill="#3030a0"/>
<circle cx="134.9" cy="688.1" r="1.44" fill="#22227e"/>
<circle cx="99.3" cy="625.0" r="0.85" fill="#2f2fa0"/>
<circle cx="95.7" cy="650.5" r="0.86" fill="#3030a0"/>
<circle cx="98.4" cy="729.6" r="1.18" fill="#3535a8"/>
<circle cx="80.5" cy="699.1" r="1.17" fill="#3535a8"/>
<circle cx="126.3" cy="646.2" r="1.42" fill="#2a2a96"/>
<circle cx="94.8" cy="633.0" r="1.35" fill="#2a2a96"/>
<circle cx="153.3" cy="647.0" r="1.73" fill="#3030a0"/>
<circle cx="95.9" cy="657.6" r="1.85" fill="#25258a"/>
<circle cx="144.2" cy="717.3" r="1.44" fill="#3030a0"/>
<circle cx="116.5" cy="681.6" r="1.09" fill="#3030a0"/>
<circle cx="55.8" cy="660.2" r="1.51" fill="#22227e"/>
<circle cx="90.3" cy="702.4" r="0.89" fill="#22227e"/>
<circle cx="125.9" cy="657.9" r="1.21" fill="#25258a"/>
<circle cx="101.8" cy="660.0" r="1.64" fill="#3030a0"/>
<circle cx="101.3" cy="654.6" r="1.68" fill="#25258a"/>
<circle cx="126.1" cy="688.6" r="0.87" fill="#3535a8"/>
<circle cx="145.2" cy="693.8" r="1.05" fill="#2f2fa0"/>
<circle cx="53.1" cy="671.8" r="1.72" fill="#2a2a96"/>
<circle cx="93.6" cy="694.5" r="1.79" fill="#22227e"/>
<circle cx="70.4" cy="660.9" r="1.17" fill="#3535a8"/>
<circle cx="62.4" cy="663.8" r="0.91" fill="#2a2a96"/>
<circle cx="134.7" cy="627.3" r="1.42" fill="#25258a"/>
<circle cx="65.3" cy="693.7" r="1.32" fill="#25258a"/>
<circle cx="120.4" cy="704.6" r="0.97" fill="#2a2a96"/>
<circle cx="75.7" cy="712.7" r="0.94" fill="#2f2fa0"/>
<circle cx="133.4" cy="708.6" r="1.62" fill="#2f2fa0"/>
<circle cx="59.6" cy="672.5" r="1.17" fill="#3535a8"/>
<circle cx="109.8" cy="680.2" r="1.09" fill="#22227e"/>
<circle cx="58.5" cy="710.2" r="1.77" fill="#25258a"/>
<circle cx="81.5" cy="677.1" r="1.00" fill="#2f2fa0"/>
<circle cx="60.2" cy="684.2" r="1.21" fill="#2a2a96"/>
<circle cx="107.0" cy="652.0" r="1.14" fill="#25258a"/>
<circle cx="139.0" cy="646.5" r="1.30" fill="#22227e"/>
<circle cx="95.1" cy="623.9" r="0.86" fill="#3030a0"/>
<circle cx="71.4" cy="670.5" r="0.89" fill="#25258a"/>
<circle cx="112.5" cy="671.4" r="1.40" fill="#3030a0"/>
<circle cx="162.3" cy="679.1" r="0.93" fill="#25258a"/>
<circle cx="94.2" cy="689.4" r="0.90" fill="#3535a8"/>
<circle cx="63.7" cy="713.6" r="1.72" fill="#2f2fa0"/>
<circle cx="133.8" cy="701.2" r="1.22" fill="#2a2a96"/>
<circle cx="64.0" cy="679.8" r="1.58" fill="#2f2fa0"/>
<circle cx="122.8" cy="717.0" r="0.86" fill="#25258a"/>
<circle cx="50.7" cy="666.4" r="1.39" fill="#2a2a96"/>
<circle cx="54.6" cy="648.1" r="1.67" fill="#25258a"/>
<circle cx="84.8" cy="674.9" r="1.65" fill="#25258a"/>
<circle cx="124.1" cy="721.6" r="0.86" fill="#3535a8"/>
<circle cx="159.4" cy="684.2" r="0.95" fill="#3030a0"/>
<circle cx="105.6" cy="723.6" r="0.94" fill="#25258a"/>
<circle cx="92.7" cy="652.6" r="1.22" fill="#2a2a96"/>
<circle cx="134.4" cy="647.8" r="0.89" fill="#2a2a96"/>
<circle cx="89.5" cy="667.9" r="1.56" fill="#25258a"/>
<circle cx="102.7" cy="659.6" r="1.12" fill="#2a2a96"/>
<circle cx="97.1" cy="670.4" r="0.95" fill="#3535a8"/>
<circle cx="52.6" cy="679.5" r="1.58" fill="#25258a"/>
<circle cx="111.2" cy="664.4" r="0.85" fill="#22227e"/>
<circle cx="72.0" cy="629.1" r="1.06" fill="#2f2fa0"/>
<circle cx="90.0" cy="654.4" r="1.43" fill="#2f2fa0"/>
<circle cx="103.6" cy="644.5" r="1.41" fill="#2f2fa0"/>
<circle cx="135.6" cy="674.7" r="1.82" fill="#2a2a96"/>
<circle cx="116.8" cy="730.3" r="1.16" fill="#25258a"/>
<circle cx="89.3" cy="687.7" r="0.94" fill="#2a2a96"/>
<circle cx="89.7" cy="652.9" r="1.19" fill="#25258a"/>
<circle cx="118.7" cy="686.7" r="1.10" fill="#2a2a96"/>
<circle cx="83.2" cy="675.9" r="1.21" fill="#2a2a96"/>
<circle cx="107.5" cy="706.0" r="1.75" fill="#3535a8"/>
<circle cx="75.5" cy="649.2" r="1.67" fill="#3535a8"/>
<circle cx="141.2" cy="667.5" r="1.82" fill="#2f2fa0"/>
<circle cx="149.0" cy="664.7" r="0.91" fill="#3030a0"/>
<circle cx="79.6" cy="697.3" r="1.13" fill="#22227e"/>
<circle cx="145.5" cy="656.0" r="0.93" fill="#2a2a96"/>
<circle cx="83.4" cy="713.7" r="0.95" fill="#3535a8"/>
<circle cx="140.3" cy="692.9" r="0.87" fill="#22227e"/>
<circle cx="50.9" cy="690.8" r="1.59" fill="#3535a8"/>
<circle cx="111.8" cy="726.4" r="0.88" fill="#3030a0"/>
<circle cx="134.1" cy="666.6" r="0.85" fill="#25258a"/>
<circle cx="139.5" cy="669.2" r="0.89" fill="#22227e"/>
<circle cx="135.9" cy="661.9" r="0.96" fill="#22227e"/>
<circle cx="99.2" cy="668.8" r="0.89" fill="#25258a"/>
<circle cx="59.4" cy="655.1" r="1.13" fill="#3535a8"/>
<circle cx="133.9" cy="625.9" r="1.17" fill="#2a2a96"/>
<circle cx="125.6" cy="681.8" r="1.33" fill="#2f2fa0"/>
<circle cx="112.8" cy="725.8" r="1.39" fill="#3030a0"/>
<circle cx="70.6" cy="666.2" r="1.17" fill="#2f2fa0"/>
<circle cx="109.9" cy="716.0" r="1.60" fill="#3030a0"/>
<circle cx="102.2" cy="621.2" r="1.56" fill="#2f2fa0"/>
<circle cx="97.3" cy="661.8" r="1.01" fill="#2f2fa0"/>
<circle cx="126.6" cy="726.5" r="0.86" fill="#3535a8"/>
<circle cx="104.7" cy="698.5" r="1.15" fill="#2f2fa0"/>
<circle cx="92.0" cy="708.9" r="0.99" fill="#3535a8"/>
<circle cx="57.8" cy="704.7" r="1.51" fill="#25258a"/>
<circle cx="65.2" cy="686.3" r="1.49" fill="#25258a"/>
<circle cx="69.5" cy="658.2" r="1.00" fill="#22227e"/>
<circle cx="64.9" cy="658.6" r="0.86" fill="#3030a0"/>
<circle cx="116.5" cy="678.5" r="1.68" fill="#22227e"/>
<circle cx="92.0" cy="684.9" r="1.19" fill="#2f2fa0"/>
<circle cx="146.8" cy="659.6" r="1.24" fill="#22227e"/>
<circle cx="115.6" cy="673.9" r="0.86" fill="#3535a8"/>
<circle cx="129.3" cy="644.9" r="1.84" fill="#3535a8"/>
<circle cx="76.7" cy="703.3" r="1.16" fill="#2f2fa0"/>
<circle cx="114.6" cy="647.7" r="1.47" fill="#3535a8"/>
<circle cx="90.7" cy="701.6" r="1.14" fill="#3535a8"/>
<circle cx="97.4" cy="690.0" r="1.54" fill="#2a2a96"/>
<circle cx="112.7" cy="732.1" r="1.26" fill="#3535a8"/>
<circle cx="155.0" cy="671.0" r="1.58" fill="#3030a0"/>
<circle cx="103.9" cy="644.7" r="1.14" fill="#2a2a96"/>
<circle cx="136.1" cy="629.5" r="0.89" fill="#22227e"/>
<circle cx="82.1" cy="717.0" r="0.87" fill="#3535a8"/>
<circle cx="113.7" cy="682.2" r="0.88" fill="#2a2a96"/>
<circle cx="85.3" cy="635.3" r="1.59" fill="#22227e"/>
<circle cx="139.8" cy="643.2" r="0.87" fill="#3535a8"/>
<circle cx="69.2" cy="680.3" r="1.24" fill="#2f2fa0"/>
<circle cx="118.8" cy="631.7" r="1.58" fill="#22227e"/>
<circle cx="137.5" cy="685.9" r="1.27" fill="#3030a0"/>
<circle cx="128.4" cy="660.2" r="1.26" fill="#22227e"/>
<circle cx="80.2" cy="718.2" r="0.86" fill="#2f2fa0"/>
<circle cx="132.9" cy="648.6" r="1.03" fill="#2a2a96"/>
<circle cx="110.0" cy="647.3" r="1.61" fill="#2f2fa0"/>
<circle cx="80.5" cy="647.2" r="1.28" fill="#25258a"/>
<circle cx="61.0" cy="674.4" r="0.90" fill="#2f2fa0"/>
<circle cx="78.0" cy="651.0" r="1.24" fill="#3535a8"/>
<circle cx="78.6" cy="677.3" r="1.61" fill="#22227e"/>
<circle cx="118.7" cy="681.3" r="0.93" fill="#2f2fa0"/>
<circle cx="133.8" cy="680.3" r="0.93" fill="#3535a8"/>
<circle cx="124.8" cy="725.4" r="0.85" fill="#3535a8"/>
<circle cx="138.7" cy="648.0" r="0.90" fill="#2a2a96"/>
<circle cx="88.9" cy="709.9" r="1.04" fill="#25258a"/>
<circle cx="73.3" cy="670.7" r="0.96" fill="#22227e"/>
<circle cx="89.9" cy="703.1" r="0.93" fill="#3030a0"/>
<circle cx="159.1" cy="676.9" r="1.21" fill="#3030a0"/>
<circle cx="113.5" cy="658.4" r="1.30" fill="#25258a"/>
<circle cx="124.5" cy="625.9" r="0.97" fill="#2f2fa0"/>
<circle cx="113.4" cy="631.6" r="0.96" fill="#3030a0"/>
<circle cx="125.6" cy="625.5" r="0.93" fill="#22227e"/>
<circle cx="48.7" cy="684.5" r="1.03" fill="#22227e"/>
<circle cx="148.4" cy="709.6" r="1.27" fill="#25258a"/>
<circle cx="108.1" cy="626.6" r="1.55" fill="#2a2a96"/>
<circle cx="108.8" cy="639.2" r="1.00" fill="#2a2a96"/>
<circle cx="108.7" cy="659.1" r="1.51" fill="#22227e"/>
<circle cx="105.4" cy="640.7" r="1.30" fill="#2f2fa0"/>
<circle cx="130.3" cy="666.5" r="0.86" fill="#2f2fa0"/>
<circle cx="103.8" cy="626.7" r="1.52" fill="#2f2fa0"/>
<circle cx="103.9" cy="683.0" r="1.69" fill="#3535a8"/>
<circle cx="162.6" cy="683.4" r="0.98" fill="#25258a"/>
<circle cx="61.4" cy="652.7" r="1.67" fill="#2a2a96"/>
<circle cx="85.6" cy="699.9" r="1.59" fill="#3030a0"/>
<circle cx="47.5" cy="675.0" r="1.82" fill="#22227e"/>
<circle cx="116.5" cy="698.0" r="1.27" fill="#2f2fa0"/>
<circle cx="119.1" cy="689.5" r="1.32" fill="#22227e"/>
<circle cx="107.8" cy="730.1" r="1.31" fill="#2a2a96"/>
<circle cx="145.3" cy="698.3" r="1.06" fill="#22227e"/>
<circle cx="107.9" cy="685.6" r="0.98" fill="#3030a0"/>
<circle cx="136.6" cy="712.3" r="1.07" fill="#2f2fa0"/>
<circle cx="145.8" cy="665.4" r="1.44" fill="#2f2fa0"/>
<circle cx="85.6" cy="658.2" r="1.37" fill="#2f2fa0"/>
<circle cx="76.8" cy="686.3" r="1.05" fill="#3535a8"/>
<circle cx="108.7" cy="656.9" r="0.89" fill="#22227e"/>
<circle cx="126.6" cy="670.9" r="0.99" fill="#22227e"/>
<circle cx="73.4" cy="721.0" r="1.58" fill="#2a2a96"/>
<circle cx="66.3" cy="635.1" r="1.39" fill="#22227e"/>
<circle cx="75.7" cy="673.7" r="1.53" fill="#22227e"/>
<circle cx="139.8" cy="656.6" r="0.95" fill="#2a2a96"/>
<circle cx="73.9" cy="694.3" r="1.26" fill="#25258a"/>
<circle cx="76.5" cy="678.9" r="1.67" fill="#25258a"/>
<circle cx="75.9" cy="720.5" r="0.85" fill="#3535a8"/>
<circle cx="67.4" cy="644.8" r="1.20" fill="#3535a8"/>
<circle cx="81.5" cy="656.2" r="1.15" fill="#22227e"/>
<circle cx="132.9" cy="696.6" r="0.87" fill="#2f2fa0"/>
<circle cx="140.6" cy="680.9" r="1.39" fill="#2f2fa0"/>
<circle cx="74.6" cy="643.1" r="0.85" fill="#3030a0"/>
<circle cx="89.9" cy="659.3" r="0.87" fill="#22227e"/>
<circle cx="91.9" cy="633.4" r="1.44" fill="#22227e"/>
<circle cx="140.5" cy="709.3" r="1.34" fill="#22227e"/>
<circle cx="85.9" cy="710.3" r="1.54" fill="#3535a8"/>
<circle cx="90.9" cy="651.2" r="1.15" fill="#2f2fa0"/>
<circle cx="116.8" cy="704.6" r="0.99" fill="#3535a8"/>
<circle cx="102.6" cy="713.6" r="1.21" fill="#22227e"/>
<circle cx="46.8" cy="676.1" r="0.94" fill="#3030a0"/>
<circle cx="91.1" cy="625.1" r="0.88" fill="#25258a"/>
<circle cx="69.9" cy="720.6" r="1.31" fill="#22227e"/>
<circle cx="86.4" cy="726.8" r="1.49" fill="#2f2fa0"/>
<circle cx="62.2" cy="701.4" r="0.99" fill="#25258a"/>
<circle cx="61.5" cy="697.1" r="1.50" fill="#3535a8"/>
<circle cx="151.7" cy="702.8" r="1.46" fill="#3030a0"/>
<circle cx="159.8" cy="670.8" r="1.23" fill="#25258a"/>
<circle cx="90.1" cy="631.6" r="1.78" fill="#22227e"/>
<circle cx="87.1" cy="623.3" r="1.18" fill="#25258a"/>
<circle cx="82.2" cy="639.0" r="1.32" fill="#3535a8"/>
<circle cx="59.9" cy="679.4" r="1.12" fill="#2a2a96"/>
<circle cx="110.4" cy="684.1" r="0.85" fill="#22227e"/>
<circle cx="137.2" cy="679.3" r="1.48" fill="#22227e"/>
<circle cx="82.5" cy="706.8" r="0.95" fill="#3535a8"/>
<circle cx="156.7" cy="676.6" r="1.84" fill="#3535a8"/>
<circle cx="64.5" cy="656.3" r="1.30" fill="#3030a0"/>
<circle cx="113.8" cy="652.1" r="1.38" fill="#25258a"/>
<circle cx="100.6" cy="688.3" r="1.37" fill="#22227e"/>
<circle cx="147.3" cy="672.1" r="0.97" fill="#3030a0"/>
<circle cx="137.2" cy="664.5" r="1.23" fill="#2a2a96"/>
<circle cx="66.0" cy="704.0" r="1.11" fill="#3030a0"/>
<circle cx="71.6" cy="711.3" r="1.16" fill="#2f2fa0"/>
<circle cx="105.4" cy="694.1" r="1.07" fill="#22227e"/>
<circle cx="101.3" cy="638.9" r="1.04" fill="#2f2fa0"/>
<circle cx="119.8" cy="660.9" r="0.85" fill="#2f2fa0"/>
<circle cx="102.2" cy="690.7" r="0.91" fill="#3030a0"/>
<circle cx="83.4" cy="659.4" r="0.92" fill="#22227e"/>
<circle cx="151.9" cy="685.7" r="1.20" fill="#25258a"/>
<circle cx="95.5" cy="680.9" r="0.87" fill="#3535a8"/>
<circle cx="100.7" cy="656.5" r="0.85" fill="#2f2fa0"/>
<circle cx="106.6" cy="733.1" r="1.71" fill="#3535a8"/>
<circle cx="80.0" cy="637.6" r="0.87" fill="#3535a8"/>
<circle cx="132.5" cy="645.1" r="1.81" fill="#25258a"/>
<circle cx="115.6" cy="636.0" r="1.05" fill="#25258a"/>
<circle cx="56.8" cy="698.2" r="1.65" fill="#2a2a96"/>
<circle cx="87.0" cy="683.2" r="1.31" fill="#3535a8"/>
<circle cx="105.2" cy="725.8" r="1.57" fill="#2a2a96"/>
<circle cx="107.2" cy="662.0" r="1.54" fill="#22227e"/>
<circle cx="77.6" cy="684.9" r="1.10" fill="#2f2fa0"/>
<circle cx="121.4" cy="671.8" r="1.78" fill="#22227e"/>
<circle cx="56.0" cy="675.9" r="1.39" fill="#25258a"/>
<circle cx="103.3" cy="692.8" r="1.23" fill="#22227e"/>
<circle cx="98.6" cy="627.4" r="0.86" fill="#3030a0"/>
<circle cx="141.7" cy="645.0" r="0.95" fill="#25258a"/>
<ellipse cx="105.5" cy="676.2" rx="60.4" ry="58.7" fill="url(#rimA)"/>
</g>
<g clip-path="url(#d2)">
<ellipse cx="230.2" cy="676.6" rx="60.0" ry="58.6" fill="#e7e7e9"/>
<ellipse cx="202.2" cy="704.6" rx="25.2" ry="12.6" fill="#dcdcdf" opacity="0.8" filter="url(#blur4)"/>
<ellipse cx="255.2" cy="654.6" rx="22.4" ry="11.2" fill="#dedee1" opacity="0.7" filter="url(#blur4)"/>
<ellipse cx="235.2" cy="718.6" rx="25.2" ry="12.6" fill="#dddde0" opacity="0.7" filter="url(#blur4)"/>
<ellipse cx="192.2" cy="658.6" rx="18.2" ry="9.1" fill="#f0f0f2" opacity="0.9" filter="url(#blur4)"/>
<ellipse cx="260.2" cy="698.6" rx="19.599999999999998" ry="9.799999999999999" fill="#eeeef0" opacity="0.8" filter="url(#blur4)"/>
<ellipse cx="222.2" cy="638.6" rx="16.799999999999997" ry="8.399999999999999" fill="#efeff1" opacity="0.9" filter="url(#blur4)"/>
<ellipse cx="268.2" cy="678.6" rx="14.0" ry="7.0" fill="#dfdfe2" opacity="0.6" filter="url(#blur4)"/>
<ellipse cx="180.2" cy="681.6" rx="11.2" ry="5.6" fill="#f2f2f3" opacity="0.9" filter="url(#blur4)"/>
<circle cx="220.9" cy="661.6" r="0.41" fill="#a09eb8"/>
<circle cx="227.5" cy="673.2" r="0.50" fill="#a09eb8"/>
<circle cx="220.1" cy="681.9" r="0.47" fill="#a09eb8"/>
<circle cx="243.2" cy="690.0" r="0.41" fill="#a09eb8"/>
<circle cx="251.2" cy="678.6" r="0.43" fill="#a09eb8"/>
<circle cx="219.4" cy="686.0" r="0.46" fill="#a09eb8"/>
<circle cx="238.3" cy="665.9" r="0.57" fill="#a09eb8"/>
<circle cx="219.8" cy="692.9" r="0.46" fill="#a09eb8"/>
<circle cx="225.8" cy="680.0" r="0.48" fill="#a09eb8"/>
<circle cx="232.3" cy="679.3" r="0.59" fill="#a09eb8"/>
<ellipse cx="230.2" cy="676.6" rx="60.0" ry="58.6" fill="url(#rimL)"/>
</g>
<g clip-path="url(#d3)">
<ellipse cx="354.3" cy="675.8" rx="59.8" ry="58.6" fill="#e6e6e8"/>
<ellipse cx="326.3" cy="703.8" rx="25.2" ry="12.6" fill="#dcdcdf" opacity="0.8" filter="url(#blur4)"/>
<ellipse cx="379.3" cy="653.8" rx="22.4" ry="11.2" fill="#dedee1" opacity="0.7" filter="url(#blur4)"/>
<ellipse cx="359.3" cy="717.8" rx="25.2" ry="12.6" fill="#dddde0" opacity="0.7" filter="url(#blur4)"/>
<ellipse cx="316.3" cy="657.8" rx="18.2" ry="9.1" fill="#f0f0f2" opacity="0.9" filter="url(#blur4)"/>
<ellipse cx="384.3" cy="697.8" rx="19.599999999999998" ry="9.799999999999999" fill="#eeeef0" opacity="0.8" filter="url(#blur4)"/>
<ellipse cx="346.3" cy="637.8" rx="16.799999999999997" ry="8.399999999999999" fill="#efeff1" opacity="0.9" filter="url(#blur4)"/>
<ellipse cx="392.3" cy="677.8" rx="14.0" ry="7.0" fill="#dfdfe2" opacity="0.6" filter="url(#blur4)"/>
<ellipse cx="304.3" cy="680.8" rx="11.2" ry="5.6" fill="#f2f2f3" opacity="0.9" filter="url(#blur4)"/>
<circle cx="365.0" cy="657.9" r="0.60" fill="#a09eb8"/>
<circle cx="333.0" cy="656.1" r="0.55" fill="#a09eb8"/>
<circle cx="344.4" cy="655.1" r="0.39" fill="#a09eb8"/>
<circle cx="354.1" cy="690.9" r="0.35" fill="#a09eb8"/>
<ellipse cx="354.3" cy="675.8" rx="59.8" ry="58.6" fill="url(#rimL)"/>
</g>
<circle cx="233.2" cy="650.5" r="0.8" fill="#6a68b0"/><circle cx="239.5" cy="678.8" r="0.8" fill="#6a68b0"/>
<g clip-path="url(#d4)">
<ellipse cx="105.4" cy="797.6" rx="59.8" ry="58.8" fill="#d5d4d1"/>
<ellipse cx="157.4" cy="793.6" rx="8" ry="36" fill="#e6e3dc" opacity="0.85" filter="url(#blur2)"/>
<ellipse cx="51.400000000000006" cy="793.6" rx="7" ry="36" fill="#dccfd8" opacity="0.9" filter="url(#blur2)"/>
<circle cx="52.0" cy="775.9" r="0.45" fill="#c0bcc2" opacity="0.7"/>
<circle cx="143.8" cy="811.4" r="0.45" fill="#a8a4ac" opacity="0.7"/>
<circle cx="147.8" cy="808.3" r="0.45" fill="#b4b0b6" opacity="0.7"/>
<circle cx="126.1" cy="767.0" r="0.45" fill="#c0bcc2" opacity="0.7"/>
<circle cx="88.8" cy="823.6" r="0.45" fill="#c0bcc2" opacity="0.7"/>
<circle cx="156.1" cy="795.6" r="0.45" fill="#b4b0b6" opacity="0.7"/>
<circle cx="64.5" cy="827.3" r="0.45" fill="#c0bcc2" opacity="0.7"/>
<circle cx="78.3" cy="807.9" r="0.45" fill="#b4b0b6" opacity="0.7"/>
<circle cx="119.0" cy="745.3" r="0.45" fill="#c0bcc2" opacity="0.7"/>
<circle cx="106.1" cy="819.7" r="0.45" fill="#b4b0b6" opacity="0.7"/>
<circle cx="77.1" cy="842.4" r="0.45" fill="#b4b0b6" opacity="0.7"/>
<circle cx="100.0" cy="798.7" r="0.45" fill="#b4b0b6" opacity="0.7"/>
<circle cx="75.6" cy="826.2" r="0.45" fill="#b4b0b6" opacity="0.7"/>
<circle cx="152.4" cy="832.3" r="0.45" fill="#a8a4ac" opacity="0.7"/>
<circle cx="99.0" cy="756.1" r="0.45" fill="#a8a4ac" opacity="0.7"/>
<circle cx="148.8" cy="804.0" r="0.45" fill="#b4b0b6" opacity="0.7"/>
<circle cx="98.8" cy="802.1" r="0.45" fill="#a8a4ac" opacity="0.7"/>
<circle cx="135.3" cy="789.4" r="0.45" fill="#a8a4ac" opacity="0.7"/>
<circle cx="75.3" cy="830.5" r="0.45" fill="#b4b0b6" opacity="0.7"/>
<circle cx="72.3" cy="812.2" r="0.45" fill="#c0bcc2" opacity="0.7"/>
<circle cx="97.4" cy="834.7" r="0.45" fill="#a8a4ac" opacity="0.7"/>
<circle cx="99.7" cy="829.2" r="0.45" fill="#c0bcc2" opacity="0.7"/>
<circle cx="94.1" cy="829.6" r="0.45" fill="#c0bcc2" opacity="0.7"/>
<circle cx="127.9" cy="776.1" r="0.45" fill="#a8a4ac" opacity="0.7"/>
<circle cx="145.7" cy="838.2" r="0.45" fill="#b4b0b6" opacity="0.7"/>
<circle cx="103.2" cy="799.0" r="0.45" fill="#b4b0b6" opacity="0.7"/>
<circle cx="100.4" cy="807.4" r="0.45" fill="#c0bcc2" opacity="0.7"/>
<circle cx="107.9" cy="822.8" r="0.45" fill="#a8a4ac" opacity="0.7"/>
<circle cx="96.4" cy="831.0" r="0.45" fill="#a8a4ac" opacity="0.7"/>
<circle cx="131.0" cy="796.7" r="0.45" fill="#a8a4ac" opacity="0.7"/>
<circle cx="75.9" cy="773.8" r="0.45" fill="#a8a4ac" opacity="0.7"/>
<circle cx="103.0" cy="825.7" r="0.45" fill="#b4b0b6" opacity="0.7"/>
<circle cx="114.2" cy="845.1" r="0.45" fill="#c0bcc2" opacity="0.7"/>
<circle cx="72.1" cy="753.8" r="0.45" fill="#b4b0b6" opacity="0.7"/>
<circle cx="61.9" cy="804.3" r="0.45" fill="#c0bcc2" opacity="0.7"/>
<circle cx="133.4" cy="816.7" r="0.45" fill="#b4b0b6" opacity="0.7"/>
<circle cx="111.2" cy="793.9" r="0.45" fill="#c0bcc2" opacity="0.7"/>
<circle cx="73.5" cy="830.4" r="0.45" fill="#b4b0b6" opacity="0.7"/>
<circle cx="101.4" cy="740.9" r="0.45" fill="#a8a4ac" opacity="0.7"/>
<circle cx="117.8" cy="800.6" r="0.45" fill="#b4b0b6" opacity="0.7"/>
<circle cx="72.3" cy="829.3" r="0.45" fill="#c0bcc2" opacity="0.7"/>
<circle cx="108.3" cy="808.9" r="0.45" fill="#c0bcc2" opacity="0.7"/>
<circle cx="95.5" cy="813.6" r="0.45" fill="#a8a4ac" opacity="0.7"/>
<circle cx="122.8" cy="787.1" r="0.45" fill="#a8a4ac" opacity="0.7"/>
<circle cx="89.4" cy="762.3" r="0.45" fill="#b4b0b6" opacity="0.7"/>
<circle cx="144.6" cy="829.6" r="0.45" fill="#a8a4ac" opacity="0.7"/>
<circle cx="153.9" cy="800.9" r="0.45" fill="#a8a4ac" opacity="0.7"/>
<circle cx="57.8" cy="816.5" r="0.45" fill="#b4b0b6" opacity="0.7"/>
<circle cx="121.7" cy="756.5" r="0.45" fill="#c0bcc2" opacity="0.7"/>
<circle cx="118.2" cy="789.3" r="0.45" fill="#b4b0b6" opacity="0.7"/>
<circle cx="101.5" cy="798.3" r="0.45" fill="#b4b0b6" opacity="0.7"/>
<circle cx="96.9" cy="813.2" r="0.45" fill="#b4b0b6" opacity="0.7"/>
<circle cx="137.4" cy="833.9" r="0.45" fill="#a8a4ac" opacity="0.7"/>
<circle cx="115.5" cy="786.7" r="0.45" fill="#a8a4ac" opacity="0.7"/>
<circle cx="99.0" cy="815.4" r="0.45" fill="#c0bcc2" opacity="0.7"/>
<circle cx="70.5" cy="770.4" r="0.45" fill="#b4b0b6" opacity="0.7"/>
<circle cx="112.2" cy="799.9" r="0.45" fill="#c0bcc2" opacity="0.7"/>
<circle cx="79.2" cy="834.0" r="0.45" fill="#a8a4ac" opacity="0.7"/>
<circle cx="102.6" cy="850.7" r="0.45" fill="#b4b0b6" opacity="0.7"/>
<circle cx="54.8" cy="818.9" r="0.45" fill="#b4b0b6" opacity="0.7"/>
<circle cx="123.9" cy="757.0" r="0.45" fill="#c0bcc2" opacity="0.7"/>
<circle cx="87.1" cy="814.3" r="0.45" fill="#a8a4ac" opacity="0.7"/>
<circle cx="144.1" cy="836.8" r="0.45" fill="#b4b0b6" opacity="0.7"/>
<circle cx="136.0" cy="765.3" r="0.45" fill="#c0bcc2" opacity="0.7"/>
<circle cx="143.3" cy="772.8" r="0.45" fill="#a8a4ac" opacity="0.7"/>
<circle cx="156.9" cy="792.0" r="0.45" fill="#b4b0b6" opacity="0.7"/>
<circle cx="124.2" cy="808.0" r="0.45" fill="#c0bcc2" opacity="0.7"/>
<circle cx="157.6" cy="823.8" r="0.45" fill="#a8a4ac" opacity="0.7"/>
<circle cx="113.8" cy="849.6" r="0.45" fill="#a8a4ac" opacity="0.7"/>
<circle cx="80.5" cy="803.7" r="0.45" fill="#a8a4ac" opacity="0.7"/>
<circle cx="149.4" cy="782.1" r="0.45" fill="#c0bcc2" opacity="0.7"/>
<circle cx="101.5" cy="763.0" r="0.45" fill="#a8a4ac" opacity="0.7"/>
<circle cx="120.7" cy="839.3" r="0.45" fill="#a8a4ac" opacity="0.7"/>
<circle cx="77.6" cy="807.2" r="0.45" fill="#b4b0b6" opacity="0.7"/>
<circle cx="101.4" cy="780.2" r="0.45" fill="#a8a4ac" opacity="0.7"/>
<circle cx="95.7" cy="826.8" r="0.45" fill="#b4b0b6" opacity="0.7"/>
<circle cx="108.4" cy="825.5" r="0.45" fill="#c0bcc2" opacity="0.7"/>
<circle cx="143.8" cy="755.3" r="0.45" fill="#c0bcc2" opacity="0.7"/>
<circle cx="124.3" cy="772.5" r="0.45" fill="#c0bcc2" opacity="0.7"/>
<circle cx="134.6" cy="822.2" r="0.45" fill="#b4b0b6" opacity="0.7"/>
<circle cx="159.5" cy="819.1" r="0.45" fill="#b4b0b6" opacity="0.7"/>
<circle cx="81.6" cy="782.1" r="0.45" fill="#b4b0b6" opacity="0.7"/>
<circle cx="85.6" cy="781.4" r="0.45" fill="#b4b0b6" opacity="0.7"/>
<circle cx="64.5" cy="816.5" r="0.45" fill="#c0bcc2" opacity="0.7"/>
<circle cx="140.8" cy="780.4" r="0.45" fill="#a8a4ac" opacity="0.7"/>
<circle cx="104.9" cy="770.5" r="0.45" fill="#c0bcc2" opacity="0.7"/>
<circle cx="156.9" cy="787.4" r="0.45" fill="#a8a4ac" opacity="0.7"/>
<circle cx="100.5" cy="742.1" r="0.45" fill="#a8a4ac" opacity="0.7"/>
<circle cx="84.8" cy="812.0" r="0.45" fill="#b4b0b6" opacity="0.7"/>
<circle cx="161.5" cy="796.2" r="0.45" fill="#c0bcc2" opacity="0.7"/>
<circle cx="157.4" cy="776.4" r="0.45" fill="#a8a4ac" opacity="0.7"/>
<circle cx="119.4" cy="787.4" r="0.45" fill="#a8a4ac" opacity="0.7"/>
<circle cx="99.3" cy="770.8" r="0.45" fill="#c0bcc2" opacity="0.7"/>
<circle cx="147.6" cy="777.9" r="0.45" fill="#c0bcc2" opacity="0.7"/>
<circle cx="74.6" cy="801.7" r="0.45" fill="#a8a4ac" opacity="0.7"/>
<circle cx="124.2" cy="845.9" r="0.45" fill="#c0bcc2" opacity="0.7"/>
<circle cx="121.3" cy="830.5" r="0.45" fill="#a8a4ac" opacity="0.7"/>
<circle cx="130.9" cy="838.2" r="0.45" fill="#a8a4ac" opacity="0.7"/>
<circle cx="82.0" cy="760.2" r="0.45" fill="#c0bcc2" opacity="0.7"/>
<circle cx="128.8" cy="782.6" r="0.45" fill="#a8a4ac" opacity="0.7"/>
<circle cx="108.3" cy="827.9" r="0.45" fill="#b4b0b6" opacity="0.7"/>
<circle cx="126.1" cy="847.2" r="0.45" fill="#c0bcc2" opacity="0.7"/>
<circle cx="104.3" cy="773.7" r="0.45" fill="#a8a4ac" opacity="0.7"/>
<circle cx="106.1" cy="800.3" r="0.45" fill="#c0bcc2" opacity="0.7"/>
<circle cx="79.3" cy="819.8" r="0.45" fill="#b4b0b6" opacity="0.7"/>
<circle cx="92.2" cy="836.1" r="0.45" fill="#b4b0b6" opacity="0.7"/>
<circle cx="123.9" cy="800.9" r="0.45" fill="#b4b0b6" opacity="0.7"/>
<circle cx="130.7" cy="792.4" r="0.45" fill="#c0bcc2" opacity="0.7"/>
<circle cx="133.2" cy="809.5" r="0.45" fill="#c0bcc2" opacity="0.7"/>
<circle cx="113.8" cy="832.4" r="0.45" fill="#c0bcc2" opacity="0.7"/>
<circle cx="102.9" cy="772.5" r="0.45" fill="#c0bcc2" opacity="0.7"/>
<circle cx="107.9" cy="773.0" r="0.45" fill="#c0bcc2" opacity="0.7"/>
<circle cx="101.5" cy="781.8" r="0.45" fill="#a8a4ac" opacity="0.7"/>
<circle cx="150.7" cy="802.8" r="0.45" fill="#b4b0b6" opacity="0.7"/>
<circle cx="110.1" cy="819.0" r="0.45" fill="#b4b0b6" opacity="0.7"/>
<circle cx="114.7" cy="832.4" r="0.45" fill="#a8a4ac" opacity="0.7"/>
<circle cx="94.5" cy="815.6" r="0.45" fill="#c0bcc2" opacity="0.7"/>
<circle cx="99.3" cy="818.2" r="0.45" fill="#c0bcc2" opacity="0.7"/>
<circle cx="104.1" cy="766.2" r="0.45" fill="#b4b0b6" opacity="0.7"/>
<circle cx="129.8" cy="826.0" r="0.45" fill="#a8a4ac" opacity="0.7"/>
<circle cx="65.5" cy="794.8" r="0.45" fill="#a8a4ac" opacity="0.7"/>
<circle cx="85.2" cy="799.2" r="0.45" fill="#a8a4ac" opacity="0.7"/>
<circle cx="161.4" cy="784.4" r="0.45" fill="#c0bcc2" opacity="0.7"/>
<circle cx="135.9" cy="791.7" r="0.45" fill="#a8a4ac" opacity="0.7"/>
<circle cx="101.7" cy="770.7" r="0.45" fill="#a8a4ac" opacity="0.7"/>
<circle cx="129.4" cy="756.4" r="0.45" fill="#b4b0b6" opacity="0.7"/>
<circle cx="106.2" cy="820.1" r="0.45" fill="#b4b0b6" opacity="0.7"/>
<circle cx="142.4" cy="831.1" r="0.45" fill="#c0bcc2" opacity="0.7"/>
<circle cx="106.7" cy="787.2" r="0.45" fill="#b4b0b6" opacity="0.7"/>
<circle cx="83.4" cy="846.1" r="0.45" fill="#c0bcc2" opacity="0.7"/>
<circle cx="107.3" cy="743.3" r="0.45" fill="#a8a4ac" opacity="0.7"/>
<circle cx="130.5" cy="784.7" r="0.45" fill="#b4b0b6" opacity="0.7"/>
<circle cx="102.2" cy="751.6" r="0.45" fill="#a8a4ac" opacity="0.7"/>
<circle cx="66.2" cy="763.6" r="0.45" fill="#c0bcc2" opacity="0.7"/>
<circle cx="77.5" cy="760.7" r="0.45" fill="#b4b0b6" opacity="0.7"/>
<circle cx="83.5" cy="845.1" r="0.45" fill="#b4b0b6" opacity="0.7"/>
<circle cx="125.3" cy="768.4" r="0.45" fill="#a8a4ac" opacity="0.7"/>
<circle cx="96.2" cy="792.5" r="0.45" fill="#b4b0b6" opacity="0.7"/>
<circle cx="123.2" cy="793.6" r="0.45" fill="#a8a4ac" opacity="0.7"/>
<circle cx="129.2" cy="833.7" r="0.45" fill="#b4b0b6" opacity="0.7"/>
<circle cx="79.5" cy="748.9" r="0.45" fill="#a8a4ac" opacity="0.7"/>
<circle cx="117.4" cy="752.6" r="0.45" fill="#a8a4ac" opacity="0.7"/>
<circle cx="127.3" cy="760.0" r="0.45" fill="#b4b0b6" opacity="0.7"/>
<circle cx="113.1" cy="812.8" r="0.45" fill="#c0bcc2" opacity="0.7"/>
<circle cx="95.0" cy="839.1" r="0.45" fill="#a8a4ac" opacity="0.7"/>
<circle cx="129.3" cy="769.1" r="0.45" fill="#c0bcc2" opacity="0.7"/>
<circle cx="129.5" cy="763.1" r="0.45" fill="#c0bcc2" opacity="0.7"/>
<circle cx="83.9" cy="851.3" r="0.45" fill="#b4b0b6" opacity="0.7"/>
<circle cx="134.0" cy="782.9" r="0.45" fill="#b4b0b6" opacity="0.7"/>
<circle cx="136.8" cy="770.3" r="0.45" fill="#b4b0b6" opacity="0.7"/>
<circle cx="100.3" cy="748.1" r="0.45" fill="#c0bcc2" opacity="0.7"/>
<circle cx="154.3" cy="805.4" r="0.45" fill="#b4b0b6" opacity="0.7"/>
<circle cx="114.4" cy="827.0" r="0.45" fill="#a8a4ac" opacity="0.7"/>
<circle cx="145.0" cy="828.1" r="0.45" fill="#a8a4ac" opacity="0.7"/>
<circle cx="94.9" cy="759.9" r="0.45" fill="#c0bcc2" opacity="0.7"/>
<circle cx="115.9" cy="849.5" r="0.45" fill="#c0bcc2" opacity="0.7"/>
<circle cx="98.1" cy="797.0" r="0.45" fill="#c0bcc2" opacity="0.7"/>
<circle cx="137.9" cy="773.8" r="0.45" fill="#c0bcc2" opacity="0.7"/>
<circle cx="119.7" cy="851.7" r="0.45" fill="#a8a4ac" opacity="0.7"/>
<circle cx="158.4" cy="800.7" r="0.45" fill="#b4b0b6" opacity="0.7"/>
<circle cx="65.8" cy="817.2" r="0.45" fill="#c0bcc2" opacity="0.7"/>
<circle cx="80.2" cy="748.5" r="0.45" fill="#b4b0b6" opacity="0.7"/>
<circle cx="156.4" cy="817.3" r="0.45" fill="#b4b0b6" opacity="0.7"/>
<circle cx="79.2" cy="793.2" r="0.45" fill="#c0bcc2" opacity="0.7"/>
<circle cx="102.7" cy="840.0" r="0.45" fill="#a8a4ac" opacity="0.7"/>
<circle cx="47.3" cy="791.9" r="0.45" fill="#b4b0b6" opacity="0.7"/>
<circle cx="71.2" cy="814.9" r="0.45" fill="#a8a4ac" opacity="0.7"/>
<circle cx="117.9" cy="802.6" r="0.45" fill="#b4b0b6" opacity="0.7"/>
<circle cx="104.2" cy="790.4" r="0.45" fill="#b4b0b6" opacity="0.7"/>
<circle cx="82.0" cy="765.0" r="0.45" fill="#b4b0b6" opacity="0.7"/>
<circle cx="113.8" cy="769.7" r="0.45" fill="#c0bcc2" opacity="0.7"/>
<circle cx="115.6" cy="818.1" r="0.45" fill="#c0bcc2" opacity="0.7"/>
<circle cx="68.6" cy="789.9" r="0.45" fill="#c0bcc2" opacity="0.7"/>
<circle cx="134.8" cy="762.8" r="0.45" fill="#a8a4ac" opacity="0.7"/>
<circle cx="106.1" cy="783.1" r="0.45" fill="#a8a4ac" opacity="0.7"/>
<circle cx="109.1" cy="846.1" r="0.45" fill="#c0bcc2" opacity="0.7"/>
<circle cx="140.4" cy="781.0" r="0.45" fill="#c0bcc2" opacity="0.7"/>
<circle cx="87.7" cy="755.0" r="0.45" fill="#b4b0b6" opacity="0.7"/>
<circle cx="155.5" cy="818.0" r="0.45" fill="#c0bcc2" opacity="0.7"/>
<circle cx="136.6" cy="801.2" r="0.45" fill="#a8a4ac" opacity="0.7"/>
<circle cx="104.5" cy="782.8" r="0.45" fill="#b4b0b6" opacity="0.7"/>
<circle cx="74.6" cy="783.6" r="0.45" fill="#c0bcc2" opacity="0.7"/>
<circle cx="138.3" cy="792.1" r="0.45" fill="#b4b0b6" opacity="0.7"/>
<circle cx="81.3" cy="745.5" r="0.45" fill="#c0bcc2" opacity="0.7"/>
<circle cx="86.1" cy="818.5" r="0.45" fill="#b4b0b6" opacity="0.7"/>
<circle cx="120.8" cy="825.3" r="0.45" fill="#c0bcc2" opacity="0.7"/>
<circle cx="155.2" cy="801.2" r="0.45" fill="#b4b0b6" opacity="0.7"/>
<circle cx="80.5" cy="753.2" r="0.45" fill="#b4b0b6" opacity="0.7"/>
<circle cx="139.2" cy="813.4" r="0.45" fill="#a8a4ac" opacity="0.7"/>
<circle cx="149.2" cy="809.0" r="0.45" fill="#a8a4ac" opacity="0.7"/>
<circle cx="55.4" cy="789.6" r="0.45" fill="#c0bcc2" opacity="0.7"/>
<circle cx="131.8" cy="811.2" r="0.45" fill="#c0bcc2" opacity="0.7"/>
<circle cx="136.4" cy="752.9" r="0.45" fill="#b4b0b6" opacity="0.7"/>
<circle cx="102.3" cy="788.3" r="0.45" fill="#b4b0b6" opacity="0.7"/>
<circle cx="116.8" cy="807.6" r="0.45" fill="#c0bcc2" opacity="0.7"/>
<circle cx="63.3" cy="831.4" r="0.45" fill="#a8a4ac" opacity="0.7"/>
<circle cx="128.8" cy="782.5" r="0.45" fill="#a8a4ac" opacity="0.7"/>
<circle cx="102.9" cy="826.3" r="0.45" fill="#b4b0b6" opacity="0.7"/>
<circle cx="96.2" cy="780.3" r="0.45" fill="#a8a4ac" opacity="0.7"/>
<circle cx="119.9" cy="762.0" r="0.45" fill="#c0bcc2" opacity="0.7"/>
<circle cx="62.9" cy="825.1" r="0.45" fill="#c0bcc2" opacity="0.7"/>
<circle cx="106.4" cy="802.1" r="0.45" fill="#b4b0b6" opacity="0.7"/>
<circle cx="104.7" cy="830.1" r="0.45" fill="#c0bcc2" opacity="0.7"/>
<circle cx="129.6" cy="745.0" r="0.45" fill="#a8a4ac" opacity="0.7"/>
<circle cx="99.3" cy="759.1" r="0.45" fill="#c0bcc2" opacity="0.7"/>
<circle cx="122.6" cy="789.5" r="0.45" fill="#a8a4ac" opacity="0.7"/>
<circle cx="94.7" cy="747.3" r="0.45" fill="#c0bcc2" opacity="0.7"/>
<circle cx="67.3" cy="810.7" r="0.45" fill="#c0bcc2" opacity="0.7"/>
<circle cx="66.9" cy="803.1" r="0.45" fill="#a8a4ac" opacity="0.7"/>
<circle cx="120.9" cy="806.3" r="0.45" fill="#b4b0b6" opacity="0.7"/>
<circle cx="117.9" cy="767.0" r="0.45" fill="#b4b0b6" opacity="0.7"/>
<circle cx="110.5" cy="754.4" r="0.45" fill="#c0bcc2" opacity="0.7"/>
<circle cx="142.0" cy="839.4" r="0.45" fill="#b4b0b6" opacity="0.7"/>
<circle cx="140.1" cy="818.9" r="0.45" fill="#a8a4ac" opacity="0.7"/>
<circle cx="119.3" cy="812.4" r="0.45" fill="#a8a4ac" opacity="0.7"/>
<circle cx="158.4" cy="785.8" r="0.45" fill="#c0bcc2" opacity="0.7"/>
<circle cx="115.1" cy="749.0" r="0.45" fill="#b4b0b6" opacity="0.7"/>
<circle cx="161.1" cy="812.2" r="0.45" fill="#b4b0b6" opacity="0.7"/>
<circle cx="96.2" cy="789.0" r="0.45" fill="#b4b0b6" opacity="0.7"/>
<circle cx="82.6" cy="746.7" r="0.45" fill="#b4b0b6" opacity="0.7"/>
<circle cx="118.5" cy="776.3" r="0.45" fill="#a8a4ac" opacity="0.7"/>
<circle cx="105.3" cy="833.1" r="0.45" fill="#c0bcc2" opacity="0.7"/>
<circle cx="155.0" cy="778.8" r="0.45" fill="#b4b0b6" opacity="0.7"/>
<circle cx="87.7" cy="825.9" r="0.45" fill="#c0bcc2" opacity="0.7"/>
<circle cx="142.1" cy="834.5" r="0.45" fill="#c0bcc2" opacity="0.7"/>
<circle cx="59.2" cy="823.2" r="0.45" fill="#c0bcc2" opacity="0.7"/>
<circle cx="102.7" cy="832.5" r="0.45" fill="#b4b0b6" opacity="0.7"/>
<circle cx="117.2" cy="845.7" r="0.45" fill="#a8a4ac" opacity="0.7"/>
<circle cx="90.1" cy="794.2" r="0.45" fill="#b4b0b6" opacity="0.7"/>
<circle cx="128.2" cy="846.8" r="0.45" fill="#a8a4ac" opacity="0.7"/>
<circle cx="100.2" cy="781.9" r="0.45" fill="#a8a4ac" opacity="0.7"/>
<circle cx="81.5" cy="761.2" r="0.45" fill="#a8a4ac" opacity="0.7"/>
<circle cx="114.6" cy="764.8" r="0.45" fill="#c0bcc2" opacity="0.7"/>
<circle cx="70.6" cy="811.6" r="0.45" fill="#c0bcc2" opacity="0.7"/>
<circle cx="105.2" cy="823.6" r="0.45" fill="#c0bcc2" opacity="0.7"/>
<circle cx="58.9" cy="819.9" r="0.45" fill="#c0bcc2" opacity="0.7"/>
<circle cx="56.6" cy="811.3" r="0.45" fill="#a8a4ac" opacity="0.7"/>
<circle cx="144.6" cy="757.8" r="0.45" fill="#a8a4ac" opacity="0.7"/>
<circle cx="106.2" cy="855.1" r="0.45" fill="#c0bcc2" opacity="0.7"/>
<circle cx="76.7" cy="838.9" r="0.45" fill="#c0bcc2" opacity="0.7"/>
<circle cx="73.4" cy="835.1" r="0.45" fill="#b4b0b6" opacity="0.7"/>
<circle cx="116.7" cy="844.4" r="0.45" fill="#b4b0b6" opacity="0.7"/>
<circle cx="132.0" cy="807.8" r="0.45" fill="#a8a4ac" opacity="0.7"/>
<circle cx="119.1" cy="827.4" r="0.45" fill="#c0bcc2" opacity="0.7"/>
<circle cx="105.8" cy="774.7" r="0.45" fill="#b4b0b6" opacity="0.7"/>
<circle cx="56.8" cy="812.5" r="0.45" fill="#a8a4ac" opacity="0.7"/>
<circle cx="78.5" cy="799.7" r="0.45" fill="#c0bcc2" opacity="0.7"/>
<circle cx="79.8" cy="818.7" r="0.45" fill="#a8a4ac" opacity="0.7"/>
<circle cx="84.2" cy="756.3" r="0.45" fill="#b4b0b6" opacity="0.7"/>
<circle cx="91.8" cy="793.0" r="0.45" fill="#b4b0b6" opacity="0.7"/>
<circle cx="60.4" cy="799.2" r="0.45" fill="#c0bcc2" opacity="0.7"/>
<circle cx="88.8" cy="801.7" r="0.45" fill="#b4b0b6" opacity="0.7"/>
<circle cx="138.2" cy="825.4" r="0.45" fill="#c0bcc2" opacity="0.7"/>
<circle cx="106.3" cy="798.5" r="0.45" fill="#a8a4ac" opacity="0.7"/>
<circle cx="80.9" cy="802.0" r="0.45" fill="#a8a4ac" opacity="0.7"/>
<circle cx="69.4" cy="807.7" r="0.45" fill="#a8a4ac" opacity="0.7"/>
<circle cx="127.8" cy="842.0" r="0.45" fill="#b4b0b6" opacity="0.7"/>
<circle cx="83.2" cy="787.5" r="0.45" fill="#c0bcc2" opacity="0.7"/>
<circle cx="114.3" cy="807.6" r="0.45" fill="#b4b0b6" opacity="0.7"/>
<circle cx="122.8" cy="850.9" r="0.45" fill="#a8a4ac" opacity="0.7"/>
<circle cx="107.1" cy="821.0" r="0.45" fill="#b4b0b6" opacity="0.7"/>
<circle cx="146.9" cy="809.2" r="0.45" fill="#a8a4ac" opacity="0.7"/>
<circle cx="146.4" cy="757.1" r="0.45" fill="#a8a4ac" opacity="0.7"/>
<circle cx="62.0" cy="790.3" r="0.45" fill="#b4b0b6" opacity="0.7"/>
<circle cx="122.9" cy="788.1" r="0.45" fill="#a8a4ac" opacity="0.7"/>
<circle cx="60.7" cy="770.4" r="0.45" fill="#a8a4ac" opacity="0.7"/>
<circle cx="102.2" cy="751.7" r="0.45" fill="#a8a4ac" opacity="0.7"/>
<circle cx="131.3" cy="752.6" r="0.45" fill="#a8a4ac" opacity="0.7"/>
<circle cx="93.9" cy="747.8" r="0.45" fill="#a8a4ac" opacity="0.7"/>
<circle cx="56.8" cy="771.9" r="0.45" fill="#c0bcc2" opacity="0.7"/>
<circle cx="108.4" cy="791.4" r="0.45" fill="#c0bcc2" opacity="0.7"/>
<circle cx="85.7" cy="780.0" r="0.45" fill="#b4b0b6" opacity="0.7"/>
<circle cx="74.3" cy="831.4" r="0.45" fill="#b4b0b6" opacity="0.7"/>
<circle cx="70.9" cy="761.4" r="0.45" fill="#c0bcc2" opacity="0.7"/>
<circle cx="103.3" cy="814.2" r="0.45" fill="#a8a4ac" opacity="0.7"/>
<circle cx="142.9" cy="794.2" r="0.45" fill="#a8a4ac" opacity="0.7"/>
<circle cx="148.4" cy="836.4" r="0.45" fill="#c0bcc2" opacity="0.7"/>
<circle cx="132.2" cy="748.7" r="0.45" fill="#c0bcc2" opacity="0.7"/>
<circle cx="70.8" cy="751.5" r="0.45" fill="#b4b0b6" opacity="0.7"/>
<circle cx="86.0" cy="762.1" r="0.45" fill="#a8a4ac" opacity="0.7"/>
<circle cx="91.4" cy="764.4" r="0.45" fill="#c0bcc2" opacity="0.7"/>
<circle cx="126.9" cy="828.1" r="0.45" fill="#b4b0b6" opacity="0.7"/>
<circle cx="127.7" cy="843.2" r="0.45" fill="#b4b0b6" opacity="0.7"/>
<circle cx="113.4" cy="783.5" r="0.45" fill="#b4b0b6" opacity="0.7"/>
<circle cx="145.4" cy="839.9" r="0.45" fill="#b4b0b6" opacity="0.7"/>
<circle cx="67.5" cy="777.2" r="0.45" fill="#c0bcc2" opacity="0.7"/>
<circle cx="87.5" cy="753.8" r="0.45" fill="#a8a4ac" opacity="0.7"/>
<circle cx="70.8" cy="776.3" r="0.45" fill="#b4b0b6" opacity="0.7"/>
<circle cx="118.3" cy="778.3" r="0.45" fill="#c0bcc2" opacity="0.7"/>
<circle cx="98.2" cy="764.7" r="0.45" fill="#b4b0b6" opacity="0.7"/>
<circle cx="83.6" cy="829.2" r="0.45" fill="#b4b0b6" opacity="0.7"/>
<circle cx="121.6" cy="765.5" r="0.45" fill="#b4b0b6" opacity="0.7"/>
<circle cx="93.9" cy="751.7" r="0.45" fill="#c0bcc2" opacity="0.7"/>
<circle cx="143.3" cy="767.3" r="0.45" fill="#b4b0b6" opacity="0.7"/>
<circle cx="118.9" cy="743.3" r="0.45" fill="#b4b0b6" opacity="0.7"/>
<circle cx="127.5" cy="774.0" r="0.45" fill="#a8a4ac" opacity="0.7"/>
<circle cx="81.2" cy="829.5" r="0.45" fill="#a8a4ac" opacity="0.7"/>
<circle cx="105.2" cy="749.2" r="0.45" fill="#a8a4ac" opacity="0.7"/>
<circle cx="145.5" cy="785.2" r="0.45" fill="#b4b0b6" opacity="0.7"/>
<circle cx="66.5" cy="779.9" r="0.45" fill="#c0bcc2" opacity="0.7"/>
<circle cx="133.1" cy="831.3" r="0.45" fill="#a8a4ac" opacity="0.7"/>
<circle cx="143.4" cy="795.2" r="0.45" fill="#b4b0b6" opacity="0.7"/>
<circle cx="94.2" cy="851.8" r="0.45" fill="#a8a4ac" opacity="0.7"/>
<circle cx="60.7" cy="783.1" r="0.45" fill="#a8a4ac" opacity="0.7"/>
<circle cx="86.0" cy="832.8" r="0.45" fill="#c0bcc2" opacity="0.7"/>
<circle cx="135.3" cy="748.1" r="0.45" fill="#c0bcc2" opacity="0.7"/>
<circle cx="110.8" cy="759.2" r="0.45" fill="#a8a4ac" opacity="0.7"/>
<circle cx="88.1" cy="831.8" r="0.45" fill="#a8a4ac" opacity="0.7"/>
<circle cx="157.4" cy="806.8" r="0.45" fill="#a8a4ac" opacity="0.7"/>
<circle cx="83.0" cy="834.8" r="0.45" fill="#b4b0b6" opacity="0.7"/>
<circle cx="113.8" cy="821.8" r="0.45" fill="#b4b0b6" opacity="0.7"/>
<circle cx="81.2" cy="769.8" r="0.45" fill="#c0bcc2" opacity="0.7"/>
<circle cx="114.1" cy="851.3" r="0.45" fill="#b4b0b6" opacity="0.7"/>
<circle cx="60.0" cy="790.1" r="0.45" fill="#c0bcc2" opacity="0.7"/>
<circle cx="101.0" cy="850.9" r="0.45" fill="#a8a4ac" opacity="0.7"/>
<circle cx="56.6" cy="797.3" r="0.45" fill="#b4b0b6" opacity="0.7"/>
<circle cx="94.4" cy="773.2" r="0.45" fill="#c0bcc2" opacity="0.7"/>
<circle cx="129.2" cy="807.5" r="0.45" fill="#a8a4ac" opacity="0.7"/>
<circle cx="133.8" cy="749.5" r="0.45" fill="#c0bcc2" opacity="0.7"/>
<circle cx="88.2" cy="747.8" r="0.45" fill="#b4b0b6" opacity="0.7"/>
<circle cx="97.0" cy="757.3" r="0.45" fill="#b4b0b6" opacity="0.7"/>
<circle cx="55.1" cy="778.3" r="0.45" fill="#c0bcc2" opacity="0.7"/>
<circle cx="67.0" cy="767.9" r="0.45" fill="#c0bcc2" opacity="0.7"/>
<circle cx="73.3" cy="832.2" r="0.45" fill="#c0bcc2" opacity="0.7"/>
<circle cx="130.8" cy="798.3" r="0.45" fill="#b4b0b6" opacity="0.7"/>
<circle cx="154.7" cy="818.3" r="0.45" fill="#b4b0b6" opacity="0.7"/>
<circle cx="88.1" cy="812.0" r="0.45" fill="#b4b0b6" opacity="0.7"/>
<circle cx="73.2" cy="758.3" r="0.45" fill="#c0bcc2" opacity="0.7"/>
<circle cx="118.7" cy="793.3" r="0.45" fill="#b4b0b6" opacity="0.7"/>
<circle cx="111.7" cy="854.7" r="0.45" fill="#b4b0b6" opacity="0.7"/>
<circle cx="128.2" cy="793.8" r="0.45" fill="#c0bcc2" opacity="0.7"/>
<circle cx="116.1" cy="841.7" r="0.45" fill="#a8a4ac" opacity="0.7"/>
<circle cx="77.7" cy="783.6" r="0.45" fill="#c0bcc2" opacity="0.7"/>
<circle cx="158.3" cy="814.2" r="0.45" fill="#a8a4ac" opacity="0.7"/>
<circle cx="117.3" cy="849.3" r="0.45" fill="#c0bcc2" opacity="0.7"/>
<circle cx="120.9" cy="845.9" r="0.45" fill="#b4b0b6" opacity="0.7"/>
<circle cx="55.0" cy="800.9" r="0.45" fill="#b4b0b6" opacity="0.7"/>
<circle cx="89.8" cy="846.3" r="0.45" fill="#c0bcc2" opacity="0.7"/>
<circle cx="123.4" cy="819.2" r="0.45" fill="#c0bcc2" opacity="0.7"/>
<circle cx="74.0" cy="781.8" r="0.45" fill="#a8a4ac" opacity="0.7"/>
<circle cx="49.6" cy="800.1" r="0.45" fill="#c0bcc2" opacity="0.7"/>
<circle cx="112.3" cy="822.8" r="0.45" fill="#a8a4ac" opacity="0.7"/>
<circle cx="60.5" cy="802.0" r="0.45" fill="#c0bcc2" opacity="0.7"/>
<circle cx="92.2" cy="771.1" r="0.45" fill="#c0bcc2" opacity="0.7"/>
<circle cx="84.9" cy="796.7" r="0.45" fill="#a8a4ac" opacity="0.7"/>
<circle cx="105.1" cy="854.8" r="0.45" fill="#a8a4ac" opacity="0.7"/>
<circle cx="125.6" cy="826.0" r="0.45" fill="#b4b0b6" opacity="0.7"/>
<circle cx="141.0" cy="833.5" r="0.45" fill="#b4b0b6" opacity="0.7"/>
<circle cx="100.2" cy="743.8" r="0.45" fill="#a8a4ac" opacity="0.7"/>
<circle cx="102.4" cy="764.5" r="0.45" fill="#b4b0b6" opacity="0.7"/>
<circle cx="72.6" cy="814.2" r="0.45" fill="#b4b0b6" opacity="0.7"/>
<circle cx="74.9" cy="826.2" r="0.45" fill="#c0bcc2" opacity="0.7"/>
<circle cx="123.2" cy="852.2" r="0.45" fill="#a8a4ac" opacity="0.7"/>
<circle cx="146.6" cy="776.1" r="0.45" fill="#a8a4ac" opacity="0.7"/>
<circle cx="112.6" cy="777.7" r="0.45" fill="#b4b0b6" opacity="0.7"/>
<circle cx="139.7" cy="821.4" r="0.45" fill="#c0bcc2" opacity="0.7"/>
<circle cx="98.3" cy="743.2" r="0.45" fill="#b4b0b6" opacity="0.7"/>
<circle cx="99.1" cy="841.2" r="0.45" fill="#a8a4ac" opacity="0.7"/>
<circle cx="80.8" cy="794.8" r="0.45" fill="#c0bcc2" opacity="0.7"/>
<circle cx="136.0" cy="765.2" r="0.45" fill="#a8a4ac" opacity="0.7"/>
<circle cx="98.4" cy="748.7" r="0.45" fill="#b4b0b6" opacity="0.7"/>
<circle cx="83.9" cy="774.5" r="0.45" fill="#b4b0b6" opacity="0.7"/>
<circle cx="120.8" cy="753.6" r="0.45" fill="#a8a4ac" opacity="0.7"/>
<circle cx="140.8" cy="840.3" r="0.45" fill="#a8a4ac" opacity="0.7"/>
<circle cx="140.4" cy="825.6" r="0.45" fill="#b4b0b6" opacity="0.7"/>
<circle cx="150.0" cy="801.2" r="0.45" fill="#a8a4ac" opacity="0.7"/>
<circle cx="141.3" cy="835.6" r="0.45" fill="#a8a4ac" opacity="0.7"/>
<circle cx="126.8" cy="839.2" r="0.45" fill="#c0bcc2" opacity="0.7"/>
<circle cx="130.2" cy="834.7" r="0.45" fill="#b4b0b6" opacity="0.7"/>
<circle cx="67.8" cy="835.0" r="0.45" fill="#c0bcc2" opacity="0.7"/>
<circle cx="65.3" cy="757.0" r="0.45" fill="#a8a4ac" opacity="0.7"/>
<circle cx="90.4" cy="851.2" r="0.45" fill="#c0bcc2" opacity="0.7"/>
<circle cx="60.0" cy="821.2" r="0.45" fill="#a8a4ac" opacity="0.7"/>
<circle cx="96.8" cy="749.5" r="0.45" fill="#a8a4ac" opacity="0.7"/>
<circle cx="94.9" cy="766.2" r="0.45" fill="#b4b0b6" opacity="0.7"/>
<circle cx="83.9" cy="846.0" r="0.45" fill="#b4b0b6" opacity="0.7"/>
<circle cx="80.3" cy="818.6" r="0.45" fill="#b4b0b6" opacity="0.7"/>
<circle cx="84.1" cy="808.3" r="0.45" fill="#c0bcc2" opacity="0.7"/>
<circle cx="153.2" cy="804.3" r="0.45" fill="#c0bcc2" opacity="0.7"/>
<circle cx="104.6" cy="833.1" r="0.45" fill="#b4b0b6" opacity="0.7"/>
<circle cx="100.8" cy="746.7" r="0.45" fill="#b4b0b6" opacity="0.7"/>
<circle cx="91.8" cy="838.3" r="0.45" fill="#b4b0b6" opacity="0.7"/>
<circle cx="74.3" cy="826.1" r="0.45" fill="#c0bcc2" opacity="0.7"/>
<circle cx="94.4" cy="789.4" r="0.45" fill="#a8a4ac" opacity="0.7"/>
<circle cx="54.0" cy="794.0" r="0.45" fill="#c0bcc2" opacity="0.7"/>
<circle cx="125.8" cy="769.3" r="0.45" fill="#c0bcc2" opacity="0.7"/>
<circle cx="128.2" cy="786.1" r="0.45" fill="#a8a4ac" opacity="0.7"/>
<circle cx="102.3" cy="745.9" r="0.45" fill="#c0bcc2" opacity="0.7"/>
<circle cx="68.7" cy="755.0" r="0.45" fill="#c0bcc2" opacity="0.7"/>
<circle cx="69.5" cy="840.9" r="0.45" fill="#a8a4ac" opacity="0.7"/>
<circle cx="129.2" cy="782.2" r="0.45" fill="#a8a4ac" opacity="0.7"/>
<circle cx="92.2" cy="825.6" r="0.45" fill="#a8a4ac" opacity="0.7"/>
<circle cx="105.6" cy="813.6" r="0.45" fill="#a8a4ac" opacity="0.7"/>
<circle cx="148.5" cy="763.2" r="0.45" fill="#a8a4ac" opacity="0.7"/>
<circle cx="127.0" cy="829.9" r="0.45" fill="#b4b0b6" opacity="0.7"/>
<circle cx="112.9" cy="852.0" r="0.45" fill="#c0bcc2" opacity="0.7"/>
<circle cx="99.4" cy="852.3" r="0.45" fill="#b4b0b6" opacity="0.7"/>
<circle cx="148.3" cy="798.0" r="0.45" fill="#b4b0b6" opacity="0.7"/>
<circle cx="100.0" cy="792.5" r="0.45" fill="#c0bcc2" opacity="0.7"/>
<circle cx="93.4" cy="791.8" r="0.45" fill="#c0bcc2" opacity="0.7"/>
<circle cx="93.6" cy="778.4" r="0.45" fill="#b4b0b6" opacity="0.7"/>
<circle cx="65.4" cy="759.8" r="0.45" fill="#a8a4ac" opacity="0.7"/>
<circle cx="122.1" cy="843.4" r="0.45" fill="#c0bcc2" opacity="0.7"/>
<circle cx="156.4" cy="798.1" r="0.45" fill="#c0bcc2" opacity="0.7"/>
<circle cx="116.5" cy="744.5" r="0.45" fill="#c0bcc2" opacity="0.7"/>
<circle cx="110.0" cy="837.3" r="0.45" fill="#b4b0b6" opacity="0.7"/>
<circle cx="101.0" cy="828.3" r="0.45" fill="#a8a4ac" opacity="0.7"/>
<circle cx="134.3" cy="811.5" r="0.45" fill="#a8a4ac" opacity="0.7"/>
<circle cx="61.9" cy="808.5" r="0.45" fill="#c0bcc2" opacity="0.7"/>
<circle cx="69.1" cy="783.4" r="0.45" fill="#a8a4ac" opacity="0.7"/>
<circle cx="109.3" cy="798.3" r="0.45" fill="#a8a4ac" opacity="0.7"/>
<circle cx="48.3" cy="793.4" r="0.45" fill="#c0bcc2" opacity="0.7"/>
<circle cx="111.3" cy="754.2" r="0.45" fill="#a8a4ac" opacity="0.7"/>
<circle cx="101.0" cy="827.9" r="0.45" fill="#b4b0b6" opacity="0.7"/>
<circle cx="89.9" cy="827.0" r="0.45" fill="#a8a4ac" opacity="0.7"/>
<circle cx="122.2" cy="816.7" r="0.45" fill="#b4b0b6" opacity="0.7"/>
<circle cx="86.7" cy="788.3" r="0.45" fill="#a8a4ac" opacity="0.7"/>
<circle cx="143.2" cy="810.6" r="0.45" fill="#a8a4ac" opacity="0.7"/>
<circle cx="126.3" cy="846.0" r="0.45" fill="#b4b0b6" opacity="0.7"/>
<circle cx="98.6" cy="836.8" r="0.45" fill="#a8a4ac" opacity="0.7"/>
<circle cx="155.8" cy="775.7" r="0.45" fill="#a8a4ac" opacity="0.7"/>
<circle cx="95.6" cy="845.5" r="0.45" fill="#b4b0b6" opacity="0.7"/>
<circle cx="138.0" cy="840.3" r="0.45" fill="#c0bcc2" opacity="0.7"/>
<circle cx="88.7" cy="826.4" r="0.45" fill="#c0bcc2" opacity="0.7"/>
<circle cx="95.0" cy="853.3" r="0.45" fill="#a8a4ac" opacity="0.7"/>
<circle cx="121.1" cy="847.1" r="0.45" fill="#c0bcc2" opacity="0.7"/>
<circle cx="103.0" cy="784.3" r="0.45" fill="#a8a4ac" opacity="0.7"/>
<circle cx="138.2" cy="750.2" r="0.45" fill="#a8a4ac" opacity="0.7"/>
<circle cx="106.5" cy="771.7" r="0.45" fill="#a8a4ac" opacity="0.7"/>
<circle cx="57.6" cy="803.6" r="0.45" fill="#c0bcc2" opacity="0.7"/>
<circle cx="63.3" cy="792.2" r="0.45" fill="#c0bcc2" opacity="0.7"/>
<circle cx="122.3" cy="814.8" r="0.45" fill="#b4b0b6" opacity="0.7"/>
<circle cx="92.3" cy="789.1" r="0.45" fill="#a8a4ac" opacity="0.7"/>
<circle cx="119.3" cy="743.8" r="0.45" fill="#a8a4ac" opacity="0.7"/>
<circle cx="72.4" cy="754.1" r="0.45" fill="#a8a4ac" opacity="0.7"/>
<circle cx="98.1" cy="773.0" r="0.45" fill="#b4b0b6" opacity="0.7"/>
<circle cx="118.3" cy="801.9" r="0.45" fill="#a8a4ac" opacity="0.7"/>
<circle cx="102.2" cy="849.2" r="0.45" fill="#c0bcc2" opacity="0.7"/>
<circle cx="130.0" cy="836.1" r="0.45" fill="#c0bcc2" opacity="0.7"/>
<circle cx="81.7" cy="770.8" r="0.45" fill="#c0bcc2" opacity="0.7"/>
<circle cx="55.4" cy="792.0" r="0.45" fill="#a8a4ac" opacity="0.7"/>
<circle cx="119.4" cy="803.3" r="0.45" fill="#c0bcc2" opacity="0.7"/>
<circle cx="105.7" cy="762.9" r="0.45" fill="#c0bcc2" opacity="0.7"/>
<circle cx="75.7" cy="813.4" r="0.45" fill="#c0bcc2" opacity="0.7"/>
<circle cx="64.7" cy="793.9" r="0.45" fill="#a8a4ac" opacity="0.7"/>
<circle cx="98.5" cy="806.8" r="0.45" fill="#b4b0b6" opacity="0.7"/>
<circle cx="123.8" cy="774.2" r="0.45" fill="#a8a4ac" opacity="0.7"/>
<circle cx="129.0" cy="746.5" r="0.45" fill="#a8a4ac" opacity="0.7"/>
<circle cx="75.0" cy="766.0" r="0.45" fill="#c0bcc2" opacity="0.7"/>
<circle cx="121.6" cy="828.5" r="0.45" fill="#b4b0b6" opacity="0.7"/>
<circle cx="103.9" cy="784.5" r="0.45" fill="#b4b0b6" opacity="0.7"/>
<circle cx="89.0" cy="800.8" r="0.45" fill="#c0bcc2" opacity="0.7"/>
<circle cx="87.4" cy="752.7" r="0.45" fill="#a8a4ac" opacity="0.7"/>
<circle cx="58.3" cy="814.8" r="0.45" fill="#b4b0b6" opacity="0.7"/>
<circle cx="91.4" cy="836.1" r="0.45" fill="#c0bcc2" opacity="0.7"/>
<circle cx="66.4" cy="816.6" r="0.45" fill="#a8a4ac" opacity="0.7"/>
<circle cx="81.8" cy="803.1" r="0.45" fill="#a8a4ac" opacity="0.7"/>
<circle cx="116.4" cy="795.7" r="0.45" fill="#b4b0b6" opacity="0.7"/>
<circle cx="77.8" cy="807.7" r="0.45" fill="#c0bcc2" opacity="0.7"/>
<circle cx="104.7" cy="841.0" r="0.45" fill="#b4b0b6" opacity="0.7"/>
<circle cx="107.2" cy="840.3" r="0.45" fill="#b4b0b6" opacity="0.7"/>
<circle cx="145.8" cy="797.0" r="0.45" fill="#c0bcc2" opacity="0.7"/>
<circle cx="136.5" cy="787.4" r="0.45" fill="#a8a4ac" opacity="0.7"/>
<circle cx="128.6" cy="824.1" r="0.45" fill="#c0bcc2" opacity="0.7"/>
<circle cx="152.3" cy="766.5" r="0.45" fill="#a8a4ac" opacity="0.7"/>
<circle cx="50.2" cy="797.6" r="0.45" fill="#c0bcc2" opacity="0.7"/>
<circle cx="96.3" cy="750.8" r="0.45" fill="#a8a4ac" opacity="0.7"/>
<circle cx="136.4" cy="816.2" r="0.45" fill="#c0bcc2" opacity="0.7"/>
<circle cx="85.1" cy="793.2" r="0.45" fill="#a8a4ac" opacity="0.7"/>
<circle cx="84.6" cy="788.8" r="0.45" fill="#a8a4ac" opacity="0.7"/>
<circle cx="59.8" cy="801.5" r="0.45" fill="#a8a4ac" opacity="0.7"/>
<circle cx="76.8" cy="773.5" r="0.45" fill="#a8a4ac" opacity="0.7"/>
<circle cx="113.0" cy="794.7" r="0.45" fill="#c0bcc2" opacity="0.7"/>
<circle cx="115.8" cy="783.8" r="0.45" fill="#b4b0b6" opacity="0.7"/>
<circle cx="58.4" cy="767.1" r="0.45" fill="#a8a4ac" opacity="0.7"/>
<circle cx="118.9" cy="779.9" r="0.45" fill="#b4b0b6" opacity="0.7"/>
<circle cx="72.9" cy="806.0" r="0.45" fill="#a8a4ac" opacity="0.7"/>
<circle cx="81.3" cy="815.8" r="0.45" fill="#a8a4ac" opacity="0.7"/>
<circle cx="153.4" cy="813.1" r="0.45" fill="#a8a4ac" opacity="0.7"/>
<circle cx="132.5" cy="818.6" r="0.45" fill="#c0bcc2" opacity="0.7"/>
<circle cx="113.0" cy="849.7" r="0.45" fill="#b4b0b6" opacity="0.7"/>
<circle cx="121.7" cy="771.1" r="0.45" fill="#c0bcc2" opacity="0.7"/>
<circle cx="67.6" cy="809.9" r="0.45" fill="#b4b0b6" opacity="0.7"/>
<circle cx="151.0" cy="803.5" r="0.45" fill="#a8a4ac" opacity="0.7"/>
<circle cx="132.2" cy="768.5" r="0.45" fill="#c0bcc2" opacity="0.7"/>
<circle cx="117.1" cy="826.5" r="0.45" fill="#c0bcc2" opacity="0.7"/>
<circle cx="146.8" cy="778.6" r="0.45" fill="#a8a4ac" opacity="0.7"/>
<circle cx="106.9" cy="750.6" r="0.45" fill="#a8a4ac" opacity="0.7"/>
<circle cx="122.1" cy="747.2" r="0.45" fill="#a8a4ac" opacity="0.7"/>
<circle cx="97.7" cy="752.9" r="0.45" fill="#c0bcc2" opacity="0.7"/>
<circle cx="103.3" cy="836.2" r="0.45" fill="#c0bcc2" opacity="0.7"/>
<circle cx="97.2" cy="841.7" r="0.45" fill="#a8a4ac" opacity="0.7"/>
<circle cx="85.8" cy="804.2" r="0.45" fill="#b4b0b6" opacity="0.7"/>
<circle cx="112.9" cy="801.7" r="0.45" fill="#c0bcc2" opacity="0.7"/>
<circle cx="103.9" cy="740.9" r="0.45" fill="#c0bcc2" opacity="0.7"/>
<circle cx="152.7" cy="828.4" r="0.45" fill="#c0bcc2" opacity="0.7"/>
<circle cx="125.0" cy="750.0" r="0.45" fill="#c0bcc2" opacity="0.7"/>
<circle cx="83.5" cy="770.7" r="0.45" fill="#a8a4ac" opacity="0.7"/>
<circle cx="136.8" cy="772.7" r="0.45" fill="#b4b0b6" opacity="0.7"/>
<circle cx="82.0" cy="847.1" r="0.45" fill="#b4b0b6" opacity="0.7"/>
<circle cx="73.5" cy="834.2" r="0.45" fill="#b4b0b6" opacity="0.7"/>
<circle cx="127.9" cy="769.8" r="0.45" fill="#a8a4ac" opacity="0.7"/>
<circle cx="138.5" cy="799.1" r="0.45" fill="#b4b0b6" opacity="0.7"/>
<circle cx="78.5" cy="802.3" r="0.45" fill="#a8a4ac" opacity="0.7"/>
<circle cx="111.4" cy="748.8" r="0.45" fill="#b4b0b6" opacity="0.7"/>
<circle cx="150.1" cy="795.3" r="0.45" fill="#a8a4ac" opacity="0.7"/>
<circle cx="94.4" cy="786.5" r="0.45" fill="#a8a4ac" opacity="0.7"/>
<circle cx="114.9" cy="801.2" r="0.45" fill="#a8a4ac" opacity="0.7"/>
<circle cx="96.5" cy="828.9" r="0.45" fill="#b4b0b6" opacity="0.7"/>
<circle cx="76.9" cy="783.2" r="0.45" fill="#b4b0b6" opacity="0.7"/>
<circle cx="158.1" cy="816.0" r="0.45" fill="#a8a4ac" opacity="0.7"/>
<circle cx="58.4" cy="776.6" r="0.45" fill="#b4b0b6" opacity="0.7"/>
<circle cx="93.8" cy="849.2" r="0.45" fill="#b4b0b6" opacity="0.7"/>
<circle cx="113.0" cy="823.9" r="0.45" fill="#a8a4ac" opacity="0.7"/>
<circle cx="97.2" cy="843.1" r="0.45" fill="#b4b0b6" opacity="0.7"/>
<circle cx="68.2" cy="839.8" r="0.45" fill="#a8a4ac" opacity="0.7"/>
<circle cx="103.7" cy="850.9" r="0.45" fill="#b4b0b6" opacity="0.7"/>
<circle cx="134.5" cy="805.8" r="0.45" fill="#b4b0b6" opacity="0.7"/>
<circle cx="123.4" cy="828.6" r="0.45" fill="#a8a4ac" opacity="0.7"/>
<circle cx="127.3" cy="834.6" r="0.45" fill="#c0bcc2" opacity="0.7"/>
<circle cx="148.0" cy="778.4" r="0.45" fill="#b4b0b6" opacity="0.7"/>
<circle cx="115.8" cy="812.3" r="0.45" fill="#a8a4ac" opacity="0.7"/>
<circle cx="140.1" cy="781.7" r="0.45" fill="#c0bcc2" opacity="0.7"/>
<circle cx="66.9" cy="803.1" r="0.45" fill="#c0bcc2" opacity="0.7"/>
<circle cx="120.2" cy="758.3" r="0.45" fill="#b4b0b6" opacity="0.7"/>
<circle cx="86.5" cy="810.7" r="0.45" fill="#b4b0b6" opacity="0.7"/>
<circle cx="75.8" cy="754.5" r="0.45" fill="#a8a4ac" opacity="0.7"/>
<circle cx="138.4" cy="775.7" r="0.45" fill="#b4b0b6" opacity="0.7"/>
<circle cx="101.7" cy="794.5" r="0.45" fill="#b4b0b6" opacity="0.7"/>
<circle cx="69.7" cy="754.5" r="0.45" fill="#a8a4ac" opacity="0.7"/>
<circle cx="91.3" cy="806.7" r="0.45" fill="#c0bcc2" opacity="0.7"/>
<circle cx="111.8" cy="828.0" r="0.45" fill="#a8a4ac" opacity="0.7"/>
<circle cx="107.5" cy="841.5" r="0.45" fill="#c0bcc2" opacity="0.7"/>
<circle cx="96.3" cy="770.1" r="0.45" fill="#b4b0b6" opacity="0.7"/>
<circle cx="117.6" cy="787.2" r="0.45" fill="#c0bcc2" opacity="0.7"/>
<circle cx="122.4" cy="834.2" r="0.45" fill="#c0bcc2" opacity="0.7"/>
<circle cx="88.4" cy="767.7" r="0.45" fill="#a8a4ac" opacity="0.7"/>
<circle cx="89.3" cy="826.8" r="0.45" fill="#a8a4ac" opacity="0.7"/>
<circle cx="61.2" cy="818.7" r="0.45" fill="#a8a4ac" opacity="0.7"/>
<circle cx="126.0" cy="750.6" r="0.45" fill="#c0bcc2" opacity="0.7"/>
<circle cx="137.6" cy="779.1" r="0.45" fill="#a8a4ac" opacity="0.7"/>
<circle cx="133.4" cy="839.5" r="0.45" fill="#b4b0b6" opacity="0.7"/>
<circle cx="96.3" cy="845.6" r="0.45" fill="#c0bcc2" opacity="0.7"/>
<circle cx="79.3" cy="844.4" r="0.45" fill="#a8a4ac" opacity="0.7"/>
<circle cx="87.4" cy="823.5" r="0.45" fill="#a8a4ac" opacity="0.7"/>
<circle cx="142.0" cy="758.3" r="0.45" fill="#c0bcc2" opacity="0.7"/>
<circle cx="131.8" cy="822.3" r="0.45" fill="#c0bcc2" opacity="0.7"/>
<circle cx="94.4" cy="843.0" r="0.45" fill="#a8a4ac" opacity="0.7"/>
<circle cx="61.2" cy="789.3" r="0.45" fill="#a8a4ac" opacity="0.7"/>
<circle cx="134.2" cy="820.6" r="0.45" fill="#a8a4ac" opacity="0.7"/>
<circle cx="94.6" cy="807.7" r="0.45" fill="#c0bcc2" opacity="0.7"/>
<circle cx="57.8" cy="825.4" r="0.45" fill="#c0bcc2" opacity="0.7"/>
<circle cx="148.8" cy="780.1" r="0.45" fill="#c0bcc2" opacity="0.7"/>
<circle cx="114.4" cy="806.9" r="0.45" fill="#a8a4ac" opacity="0.7"/>
<circle cx="80.0" cy="757.1" r="0.45" fill="#c0bcc2" opacity="0.7"/>
<circle cx="98.7" cy="759.6" r="0.45" fill="#b4b0b6" opacity="0.7"/>
<circle cx="108.1" cy="786.2" r="0.45" fill="#a8a4ac" opacity="0.7"/>
<circle cx="120.3" cy="765.3" r="0.45" fill="#b4b0b6" opacity="0.7"/>
<circle cx="60.0" cy="814.3" r="0.45" fill="#a8a4ac" opacity="0.7"/>
<circle cx="101.5" cy="807.2" r="0.45" fill="#b4b0b6" opacity="0.7"/>
<circle cx="48.4" cy="791.6" r="0.45" fill="#c0bcc2" opacity="0.7"/>
<circle cx="90.6" cy="744.1" r="0.45" fill="#c0bcc2" opacity="0.7"/>
<circle cx="94.1" cy="777.5" r="0.45" fill="#c0bcc2" opacity="0.7"/>
<circle cx="132.5" cy="766.7" r="0.45" fill="#c0bcc2" opacity="0.7"/>
<circle cx="65.6" cy="825.7" r="0.45" fill="#c0bcc2" opacity="0.7"/>
<circle cx="119.9" cy="833.5" r="0.45" fill="#a8a4ac" opacity="0.7"/>
<circle cx="76.1" cy="843.2" r="0.45" fill="#b4b0b6" opacity="0.7"/>
<circle cx="105.3" cy="827.3" r="0.45" fill="#b4b0b6" opacity="0.7"/>
<circle cx="82.6" cy="829.9" r="0.45" fill="#c0bcc2" opacity="0.7"/>
<circle cx="70.9" cy="782.7" r="0.45" fill="#c0bcc2" opacity="0.7"/>
<circle cx="134.3" cy="842.5" r="0.45" fill="#a8a4ac" opacity="0.7"/>
<circle cx="61.5" cy="775.7" r="0.45" fill="#c0bcc2" opacity="0.7"/>
<circle cx="138.8" cy="752.5" r="0.45" fill="#a8a4ac" opacity="0.7"/>
<circle cx="133.7" cy="789.3" r="0.45" fill="#c0bcc2" opacity="0.7"/>
<circle cx="89.0" cy="757.5" r="0.45" fill="#a8a4ac" opacity="0.7"/>
<circle cx="137.7" cy="823.9" r="0.45" fill="#a8a4ac" opacity="0.7"/>
<circle cx="108.4" cy="816.9" r="0.45" fill="#a8a4ac" opacity="0.7"/>
<circle cx="128.4" cy="752.5" r="0.45" fill="#a8a4ac" opacity="0.7"/>
<circle cx="159.3" cy="790.9" r="0.45" fill="#a8a4ac" opacity="0.7"/>
<circle cx="83.6" cy="799.5" r="0.45" fill="#a8a4ac" opacity="0.7"/>
<circle cx="106.3" cy="780.5" r="0.45" fill="#b4b0b6" opacity="0.7"/>
<circle cx="135.7" cy="761.2" r="0.45" fill="#a8a4ac" opacity="0.7"/>
<circle cx="94.0" cy="752.4" r="0.45" fill="#a8a4ac" opacity="0.7"/>
<circle cx="85.4" cy="773.8" r="0.45" fill="#c0bcc2" opacity="0.7"/>
<circle cx="56.0" cy="782.9" r="0.45" fill="#c0bcc2" opacity="0.7"/>
<circle cx="117.0" cy="778.2" r="0.45" fill="#b4b0b6" opacity="0.7"/>
<circle cx="111.9" cy="766.2" r="0.45" fill="#c0bcc2" opacity="0.7"/>
<circle cx="121.2" cy="778.8" r="0.45" fill="#b4b0b6" opacity="0.7"/>
<circle cx="66.8" cy="826.4" r="0.45" fill="#b4b0b6" opacity="0.7"/>
<circle cx="120.7" cy="851.6" r="0.45" fill="#b4b0b6" opacity="0.7"/>
<circle cx="109.8" cy="800.2" r="0.45" fill="#a8a4ac" opacity="0.7"/>
<circle cx="63.1" cy="820.9" r="0.45" fill="#c0bcc2" opacity="0.7"/>
<circle cx="107.6" cy="759.7" r="0.45" fill="#c0bcc2" opacity="0.7"/>
<circle cx="89.6" cy="763.9" r="0.45" fill="#c0bcc2" opacity="0.7"/>
<circle cx="106.1" cy="745.9" r="0.45" fill="#b4b0b6" opacity="0.7"/>
<circle cx="58.1" cy="774.5" r="0.45" fill="#a8a4ac" opacity="0.7"/>
<circle cx="88.6" cy="795.2" r="0.45" fill="#b4b0b6" opacity="0.7"/>
<circle cx="67.2" cy="797.7" r="0.45" fill="#b4b0b6" opacity="0.7"/>
<circle cx="133.8" cy="841.9" r="0.45" fill="#a8a4ac" opacity="0.7"/>
<circle cx="91.6" cy="798.8" r="0.45" fill="#c0bcc2" opacity="0.7"/>
<circle cx="105.6" cy="797.3" r="0.45" fill="#a8a4ac" opacity="0.7"/>
<circle cx="69.1" cy="811.8" r="0.45" fill="#c0bcc2" opacity="0.7"/>
<circle cx="142.5" cy="819.1" r="0.45" fill="#b4b0b6" opacity="0.7"/>
<circle cx="68.8" cy="762.0" r="0.45" fill="#b4b0b6" opacity="0.7"/>
<circle cx="97.7" cy="741.2" r="0.45" fill="#a8a4ac" opacity="0.7"/>
<circle cx="82.9" cy="764.7" r="0.45" fill="#a8a4ac" opacity="0.7"/>
<circle cx="144.5" cy="770.2" r="0.45" fill="#c0bcc2" opacity="0.7"/>
<circle cx="91.2" cy="804.9" r="0.45" fill="#a8a4ac" opacity="0.7"/>
<circle cx="103.2" cy="800.4" r="0.45" fill="#b4b0b6" opacity="0.7"/>
<circle cx="125.9" cy="758.3" r="0.45" fill="#b4b0b6" opacity="0.7"/>
<circle cx="129.0" cy="794.7" r="0.45" fill="#a8a4ac" opacity="0.7"/>
<circle cx="95.1" cy="752.2" r="0.45" fill="#a8a4ac" opacity="0.7"/>
<circle cx="69.4" cy="816.2" r="0.45" fill="#c0bcc2" opacity="0.7"/>
<circle cx="105.5" cy="742.6" r="0.45" fill="#c0bcc2" opacity="0.7"/>
<circle cx="96.3" cy="793.6" r="0.45" fill="#a8a4ac" opacity="0.7"/>
<circle cx="64.0" cy="759.6" r="0.45" fill="#b4b0b6" opacity="0.7"/>
<circle cx="81.2" cy="843.8" r="0.45" fill="#c0bcc2" opacity="0.7"/>
<circle cx="116.4" cy="843.8" r="0.45" fill="#c0bcc2" opacity="0.7"/>
<circle cx="111.1" cy="805.8" r="0.45" fill="#b4b0b6" opacity="0.7"/>
<circle cx="153.1" cy="826.9" r="0.45" fill="#c0bcc2" opacity="0.7"/>
<circle cx="79.1" cy="817.1" r="0.45" fill="#b4b0b6" opacity="0.7"/>
<circle cx="147.6" cy="782.4" r="0.45" fill="#c0bcc2" opacity="0.7"/>
<circle cx="148.1" cy="801.9" r="0.45" fill="#b4b0b6" opacity="0.7"/>
<circle cx="87.1" cy="751.1" r="0.45" fill="#b4b0b6" opacity="0.7"/>
<circle cx="148.6" cy="831.6" r="0.45" fill="#b4b0b6" opacity="0.7"/>
<circle cx="110.9" cy="754.2" r="0.45" fill="#b4b0b6" opacity="0.7"/>
<circle cx="145.4" cy="813.9" r="0.45" fill="#b4b0b6" opacity="0.7"/>
<circle cx="52.7" cy="784.0" r="0.45" fill="#a8a4ac" opacity="0.7"/>
<circle cx="146.9" cy="770.5" r="0.45" fill="#a8a4ac" opacity="0.7"/>
<circle cx="84.4" cy="763.4" r="0.45" fill="#b4b0b6" opacity="0.7"/>
<circle cx="142.6" cy="761.7" r="0.45" fill="#c0bcc2" opacity="0.7"/>
<circle cx="127.2" cy="780.2" r="0.45" fill="#b4b0b6" opacity="0.7"/>
<circle cx="112.6" cy="797.1" r="0.45" fill="#b4b0b6" opacity="0.7"/>
<circle cx="112.8" cy="791.8" r="0.45" fill="#b4b0b6" opacity="0.7"/>
<circle cx="135.3" cy="754.2" r="0.45" fill="#a8a4ac" opacity="0.7"/>
<circle cx="101.1" cy="826.0" r="0.45" fill="#b4b0b6" opacity="0.7"/>
<circle cx="138.2" cy="793.9" r="0.45" fill="#a8a4ac" opacity="0.7"/>
<circle cx="131.6" cy="770.7" r="0.45" fill="#c0bcc2" opacity="0.7"/>
<circle cx="93.4" cy="754.1" r="0.45" fill="#c0bcc2" opacity="0.7"/>
<circle cx="67.4" cy="800.6" r="0.45" fill="#a8a4ac" opacity="0.7"/>
<circle cx="123.4" cy="845.6" r="0.45" fill="#b4b0b6" opacity="0.7"/>
<circle cx="88.1" cy="783.7" r="0.45" fill="#c0bcc2" opacity="0.7"/>
<circle cx="126.9" cy="789.9" r="0.45" fill="#b4b0b6" opacity="0.7"/>
<circle cx="101.9" cy="800.1" r="0.45" fill="#b4b0b6" opacity="0.7"/>
<circle cx="54.8" cy="800.4" r="0.45" fill="#b4b0b6" opacity="0.7"/>
<circle cx="120.7" cy="749.2" r="0.45" fill="#a8a4ac" opacity="0.7"/>
<circle cx="70.1" cy="759.7" r="0.45" fill="#a8a4ac" opacity="0.7"/>
<circle cx="111.7" cy="820.8" r="0.45" fill="#b4b0b6" opacity="0.7"/>
<circle cx="77.8" cy="769.0" r="0.45" fill="#b4b0b6" opacity="0.7"/>
<circle cx="106.5" cy="752.0" r="0.45" fill="#c0bcc2" opacity="0.7"/>
<circle cx="97.3" cy="808.6" r="0.45" fill="#b4b0b6" opacity="0.7"/>
<circle cx="58.9" cy="763.0" r="0.45" fill="#c0bcc2" opacity="0.7"/>
<circle cx="158.5" cy="803.5" r="0.45" fill="#c0bcc2" opacity="0.7"/>
<circle cx="75.4" cy="846.7" r="0.45" fill="#a8a4ac" opacity="0.7"/>
<circle cx="112.9" cy="747.0" r="0.45" fill="#c0bcc2" opacity="0.7"/>
<circle cx="73.2" cy="825.0" r="0.45" fill="#b4b0b6" opacity="0.7"/>
<circle cx="98.0" cy="774.0" r="0.45" fill="#c0bcc2" opacity="0.7"/>
<circle cx="62.7" cy="788.0" r="0.45" fill="#c0bcc2" opacity="0.7"/>
<circle cx="83.4" cy="820.1" r="0.45" fill="#c0bcc2" opacity="0.7"/>
<circle cx="96.9" cy="829.4" r="0.45" fill="#b4b0b6" opacity="0.7"/>
<circle cx="139.8" cy="773.9" r="0.45" fill="#c0bcc2" opacity="0.7"/>
<circle cx="77.5" cy="747.7" r="0.45" fill="#a8a4ac" opacity="0.7"/>
<circle cx="111.4" cy="747.0" r="0.45" fill="#a8a4ac" opacity="0.7"/>
<circle cx="80.0" cy="837.0" r="0.45" fill="#c0bcc2" opacity="0.7"/>
<circle cx="118.6" cy="818.2" r="0.45" fill="#c0bcc2" opacity="0.7"/>
<circle cx="125.1" cy="851.6" r="0.45" fill="#b4b0b6" opacity="0.7"/>
<circle cx="143.5" cy="816.0" r="0.45" fill="#c0bcc2" opacity="0.7"/>
<circle cx="83.1" cy="782.8" r="0.45" fill="#a8a4ac" opacity="0.7"/>
<circle cx="110.6" cy="812.4" r="0.45" fill="#b4b0b6" opacity="0.7"/>
<circle cx="99.8" cy="754.0" r="0.45" fill="#a8a4ac" opacity="0.7"/>
<circle cx="131.2" cy="781.1" r="0.45" fill="#b4b0b6" opacity="0.7"/>
<circle cx="101.3" cy="751.7" r="0.45" fill="#a8a4ac" opacity="0.7"/>
<circle cx="50.8" cy="808.8" r="0.45" fill="#b4b0b6" opacity="0.7"/>
<circle cx="98.9" cy="763.4" r="0.45" fill="#b4b0b6" opacity="0.7"/>
<circle cx="76.3" cy="748.0" r="0.45" fill="#b4b0b6" opacity="0.7"/>
<circle cx="133.7" cy="755.8" r="0.45" fill="#b4b0b6" opacity="0.7"/>
<circle cx="100.9" cy="797.6" r="0.45" fill="#c0bcc2" opacity="0.7"/>
<circle cx="50.8" cy="776.5" r="0.45" fill="#c0bcc2" opacity="0.7"/>
<circle cx="141.6" cy="828.9" r="0.45" fill="#a8a4ac" opacity="0.7"/>
<circle cx="100.2" cy="843.6" r="0.45" fill="#b4b0b6" opacity="0.7"/>
<circle cx="74.2" cy="817.2" r="0.45" fill="#c0bcc2" opacity="0.7"/>
<circle cx="128.5" cy="780.9" r="0.45" fill="#a8a4ac" opacity="0.7"/>
<circle cx="69.9" cy="796.6" r="0.45" fill="#c0bcc2" opacity="0.7"/>
<circle cx="78.2" cy="790.4" r="0.45" fill="#a8a4ac" opacity="0.7"/>
<circle cx="146.6" cy="760.1" r="0.45" fill="#c0bcc2" opacity="0.7"/>
<circle cx="66.8" cy="820.7" r="0.45" fill="#b4b0b6" opacity="0.7"/>
<circle cx="146.7" cy="794.6" r="0.45" fill="#c0bcc2" opacity="0.7"/>
<circle cx="71.8" cy="821.9" r="0.45" fill="#a8a4ac" opacity="0.7"/>
<circle cx="115.2" cy="825.5" r="0.45" fill="#c0bcc2" opacity="0.7"/>
<circle cx="73.6" cy="810.2" r="0.45" fill="#b4b0b6" opacity="0.7"/>
<circle cx="154.8" cy="781.4" r="0.45" fill="#c0bcc2" opacity="0.7"/>
<circle cx="73.5" cy="832.7" r="0.45" fill="#c0bcc2" opacity="0.7"/>
<circle cx="112.3" cy="815.9" r="0.45" fill="#a8a4ac" opacity="0.7"/>
<circle cx="147.1" cy="803.2" r="0.45" fill="#a8a4ac" opacity="0.7"/>
<circle cx="66.8" cy="812.4" r="0.45" fill="#c0bcc2" opacity="0.7"/>
<circle cx="101.4" cy="766.2" r="0.45" fill="#b4b0b6" opacity="0.7"/>
<circle cx="136.4" cy="757.7" r="0.45" fill="#c0bcc2" opacity="0.7"/>
<circle cx="95.0" cy="760.0" r="0.45" fill="#b4b0b6" opacity="0.7"/>
<circle cx="77.0" cy="754.4" r="0.96" fill="#8070b8" opacity="0.9"/>
<circle cx="74.2" cy="760.7" r="0.58" fill="#5a4c98" opacity="0.9"/>
<circle cx="146.7" cy="800.8" r="0.76" fill="#6a5aa8" opacity="0.9"/>
<circle cx="98.0" cy="792.0" r="1.08" fill="#6a5aa8" opacity="0.9"/>
<circle cx="92.1" cy="775.1" r="0.49" fill="#5a4c98" opacity="0.9"/>
<circle cx="129.5" cy="746.7" r="0.44" fill="#6a6078" opacity="0.9"/>
<circle cx="126.4" cy="805.1" r="0.40" fill="#7a6ab0" opacity="0.9"/>
<circle cx="82.5" cy="799.4" r="0.49" fill="#6a5aa8" opacity="0.9"/>
<circle cx="58.8" cy="782.2" r="0.63" fill="#4a4088" opacity="0.9"/>
<circle cx="59.8" cy="783.4" r="0.84" fill="#8070b8" opacity="0.9"/>
<circle cx="137.1" cy="809.3" r="0.89" fill="#7a6ab0" opacity="0.9"/>
<circle cx="93.5" cy="782.0" r="0.68" fill="#8070b8" opacity="0.9"/>
<circle cx="74.5" cy="775.8" r="0.44" fill="#5a4c98" opacity="0.9"/>
<circle cx="53.2" cy="797.9" r="0.40" fill="#6a5aa8" opacity="0.9"/>
<circle cx="127.9" cy="781.1" r="0.56" fill="#4a4088" opacity="0.9"/>
<circle cx="107.7" cy="780.1" r="0.63" fill="#5a5070" opacity="0.9"/>
<circle cx="111.6" cy="767.7" r="0.83" fill="#6a6078" opacity="0.9"/>
<circle cx="140.9" cy="830.7" r="0.72" fill="#7a6ab0" opacity="0.9"/>
<circle cx="59.9" cy="768.9" r="0.41" fill="#7a6ab0" opacity="0.9"/>
<circle cx="88.0" cy="777.5" r="0.41" fill="#6a6078" opacity="0.9"/>
<circle cx="135.0" cy="808.3" r="0.53" fill="#7a6ab0" opacity="0.9"/>
<circle cx="102.7" cy="761.2" r="0.41" fill="#6a6078" opacity="0.9"/>
<circle cx="91.1" cy="741.6" r="0.50" fill="#7a6ab0" opacity="0.9"/>
<circle cx="112.4" cy="743.8" r="0.51" fill="#6a6078" opacity="0.9"/>
<circle cx="145.9" cy="770.6" r="0.69" fill="#6a6078" opacity="0.9"/>
<circle cx="141.2" cy="757.1" r="0.65" fill="#6a5aa8" opacity="0.9"/>
<circle cx="85.7" cy="824.0" r="0.40" fill="#7a6ab0" opacity="0.9"/>
<circle cx="143.1" cy="822.2" r="0.40" fill="#6a5aa8" opacity="0.9"/>
<circle cx="147.8" cy="758.8" r="0.96" fill="#6a6078" opacity="0.9"/>
<circle cx="88.6" cy="795.8" r="0.41" fill="#5a5070" opacity="0.9"/>
<circle cx="130.2" cy="848.2" r="1.03" fill="#6a5aa8" opacity="0.9"/>
<circle cx="93.4" cy="748.9" r="0.46" fill="#7a6ab0" opacity="0.9"/>
<circle cx="121.7" cy="745.2" r="0.41" fill="#5a5070" opacity="0.9"/>
<circle cx="66.0" cy="775.7" r="0.84" fill="#6a6078" opacity="0.9"/>
<circle cx="107.9" cy="790.6" r="1.08" fill="#6a5aa8" opacity="0.9"/>
<circle cx="50.3" cy="813.3" r="1.00" fill="#4a4088" opacity="0.9"/>
<circle cx="54.5" cy="772.8" r="0.72" fill="#7a6ab0" opacity="0.9"/>
<circle cx="109.9" cy="853.2" r="0.52" fill="#7a6ab0" opacity="0.9"/>
<circle cx="81.0" cy="841.0" r="0.55" fill="#6a6078" opacity="0.9"/>
<circle cx="122.3" cy="756.3" r="0.42" fill="#6a5aa8" opacity="0.9"/>
<circle cx="149.0" cy="762.9" r="1.05" fill="#5a5070" opacity="0.9"/>
<circle cx="145.4" cy="801.0" r="0.76" fill="#5a5070" opacity="0.9"/>
<circle cx="128.5" cy="837.3" r="0.68" fill="#5a4c98" opacity="0.9"/>
<circle cx="82.5" cy="751.3" r="0.77" fill="#8070b8" opacity="0.9"/>
<circle cx="81.3" cy="807.4" r="0.72" fill="#4a4088" opacity="0.9"/>
<circle cx="143.3" cy="837.9" r="0.92" fill="#4a4088" opacity="0.9"/>
<circle cx="94.9" cy="788.9" r="0.41" fill="#7a6ab0" opacity="0.9"/>
<circle cx="118.7" cy="849.3" r="0.92" fill="#8070b8" opacity="0.9"/>
<circle cx="54.4" cy="806.8" r="0.61" fill="#5a5070" opacity="0.9"/>
<circle cx="139.3" cy="771.5" r="0.69" fill="#8070b8" opacity="0.9"/>
<circle cx="113.0" cy="812.3" r="0.83" fill="#5a4c98" opacity="0.9"/>
<circle cx="120.4" cy="747.3" r="0.40" fill="#6a6078" opacity="0.9"/>
<circle cx="136.0" cy="755.3" r="0.98" fill="#7a6ab0" opacity="0.9"/>
<circle cx="117.5" cy="784.1" r="0.66" fill="#8070b8" opacity="0.9"/>
<circle cx="103.9" cy="751.7" r="0.77" fill="#6a5aa8" opacity="0.9"/>
<circle cx="91.7" cy="835.0" r="0.48" fill="#8070b8" opacity="0.9"/>
<circle cx="93.0" cy="756.7" r="1.01" fill="#8070b8" opacity="0.9"/>
<circle cx="102.0" cy="853.0" r="0.69" fill="#5a5070" opacity="0.9"/>
<circle cx="93.5" cy="802.3" r="0.40" fill="#8070b8" opacity="0.9"/>
<circle cx="55.2" cy="782.6" r="0.45" fill="#4a4088" opacity="0.9"/>
<circle cx="51.1" cy="793.7" r="0.40" fill="#7a6ab0" opacity="0.9"/>
<circle cx="63.3" cy="768.0" r="0.96" fill="#4a4088" opacity="0.9"/>
<circle cx="81.9" cy="752.2" r="0.50" fill="#6a5aa8" opacity="0.9"/>
<circle cx="144.2" cy="767.4" r="0.75" fill="#6a6078" opacity="0.9"/>
<circle cx="142.7" cy="761.1" r="0.48" fill="#5a4c98" opacity="0.9"/>
<circle cx="64.7" cy="795.6" r="0.60" fill="#5a4c98" opacity="0.9"/>
<circle cx="95.6" cy="750.5" r="0.79" fill="#6a6078" opacity="0.9"/>
<circle cx="122.1" cy="833.3" r="0.61" fill="#8070b8" opacity="0.9"/>
<circle cx="143.1" cy="761.5" r="1.03" fill="#6a6078" opacity="0.9"/>
<circle cx="131.7" cy="809.7" r="0.58" fill="#5a4c98" opacity="0.9"/>
<circle cx="135.7" cy="765.6" r="0.62" fill="#7a6ab0" opacity="0.9"/>
<circle cx="111.2" cy="855.0" r="0.45" fill="#5a4c98" opacity="0.9"/>
<circle cx="83.8" cy="839.1" r="1.08" fill="#5a4c98" opacity="0.9"/>
<circle cx="96.9" cy="819.5" r="0.62" fill="#7a6ab0" opacity="0.9"/>
<circle cx="67.9" cy="805.6" r="0.77" fill="#4a4088" opacity="0.9"/>
<circle cx="48.8" cy="806.3" r="0.79" fill="#8070b8" opacity="0.9"/>
<circle cx="129.1" cy="745.8" r="0.93" fill="#7a6ab0" opacity="0.9"/>
<circle cx="72.3" cy="783.3" r="0.74" fill="#6a6078" opacity="0.9"/>
<circle cx="84.8" cy="754.3" r="0.45" fill="#6a6078" opacity="0.9"/>
<circle cx="121.3" cy="813.3" r="0.41" fill="#6a6078" opacity="0.9"/>
<circle cx="134.2" cy="764.8" r="0.56" fill="#4a4088" opacity="0.9"/>
<circle cx="121.4" cy="772.9" r="0.44" fill="#6a6078" opacity="0.9"/>
<circle cx="101.1" cy="743.6" r="0.40" fill="#4a4088" opacity="0.9"/>
<circle cx="50.6" cy="780.4" r="0.47" fill="#5a4c98" opacity="0.9"/>
<circle cx="133.6" cy="825.4" r="0.58" fill="#4a4088" opacity="0.9"/>
<circle cx="108.4" cy="792.9" r="0.48" fill="#7a6ab0" opacity="0.9"/>
<circle cx="122.9" cy="796.9" r="0.66" fill="#6a5aa8" opacity="0.9"/>
<circle cx="108.9" cy="768.1" r="0.81" fill="#8070b8" opacity="0.9"/>
<circle cx="72.4" cy="790.2" r="0.43" fill="#8070b8" opacity="0.9"/>
<circle cx="145.3" cy="812.5" r="0.79" fill="#6a6078" opacity="0.9"/>
<circle cx="148.7" cy="813.0" r="0.91" fill="#5a4c98" opacity="0.9"/>
<circle cx="97.0" cy="760.0" r="0.62" fill="#7a6ab0" opacity="0.9"/>
<circle cx="110.5" cy="786.5" r="0.44" fill="#6a5aa8" opacity="0.9"/>
<circle cx="152.4" cy="790.6" r="0.40" fill="#6a5aa8" opacity="0.9"/>
<circle cx="124.4" cy="803.7" r="0.54" fill="#6a5aa8" opacity="0.9"/>
<circle cx="53.4" cy="779.7" r="0.70" fill="#7a6ab0" opacity="0.9"/>
<circle cx="133.7" cy="758.5" r="0.57" fill="#5a5070" opacity="0.9"/>
<circle cx="62.2" cy="803.9" r="0.47" fill="#6a5aa8" opacity="0.9"/>
<circle cx="67.4" cy="762.9" r="0.55" fill="#4a4088" opacity="0.9"/>
<circle cx="94.8" cy="770.5" r="0.63" fill="#6a5aa8" opacity="0.9"/>
<circle cx="105.5" cy="829.6" r="0.61" fill="#6a5aa8" opacity="0.9"/>
<circle cx="78.6" cy="755.7" r="0.71" fill="#5a5070" opacity="0.9"/>
<circle cx="95.8" cy="854.3" r="0.88" fill="#7a6ab0" opacity="0.9"/>
<circle cx="138.0" cy="802.4" r="1.08" fill="#4a4088" opacity="0.9"/>
<circle cx="115.2" cy="740.8" r="0.88" fill="#6a5aa8" opacity="0.9"/>
<circle cx="61.3" cy="820.8" r="0.41" fill="#6a5aa8" opacity="0.9"/>
<circle cx="105.7" cy="823.8" r="0.92" fill="#7a6ab0" opacity="0.9"/>
<circle cx="111.2" cy="757.4" r="0.42" fill="#5a4c98" opacity="0.9"/>
<circle cx="144.5" cy="789.3" r="0.79" fill="#5a5070" opacity="0.9"/>
<circle cx="105.5" cy="817.7" r="0.49" fill="#8070b8" opacity="0.9"/>
<circle cx="114.3" cy="805.6" r="0.44" fill="#4a4088" opacity="0.9"/>
<circle cx="133.2" cy="830.0" r="0.46" fill="#5a5070" opacity="0.9"/>
<circle cx="119.2" cy="781.3" r="0.49" fill="#4a4088" opacity="0.9"/>
<circle cx="60.7" cy="799.8" r="1.00" fill="#7a6ab0" opacity="0.9"/>
<circle cx="137.0" cy="778.4" r="0.90" fill="#6a6078" opacity="0.9"/>
<circle cx="81.0" cy="751.0" r="0.77" fill="#5a4c98" opacity="0.9"/>
<circle cx="92.2" cy="827.8" r="1.06" fill="#5a5070" opacity="0.9"/>
<circle cx="98.3" cy="763.4" r="0.99" fill="#5a4c98" opacity="0.9"/>
<circle cx="122.2" cy="755.9" r="0.40" fill="#6a5aa8" opacity="0.9"/>
<circle cx="111.2" cy="810.6" r="0.74" fill="#6a6078" opacity="0.9"/>
<circle cx="99.9" cy="822.0" r="0.41" fill="#5a4c98" opacity="0.9"/>
<circle cx="131.5" cy="828.1" r="0.67" fill="#4a4088" opacity="0.9"/>
<circle cx="61.4" cy="763.1" r="0.41" fill="#6a6078" opacity="0.9"/>
<circle cx="144.8" cy="761.0" r="0.42" fill="#5a4c98" opacity="0.9"/>
<circle cx="119.3" cy="802.1" r="0.86" fill="#4a4088" opacity="0.9"/>
<circle cx="130.6" cy="820.9" r="0.47" fill="#8070b8" opacity="0.9"/>
<circle cx="148.6" cy="811.0" r="0.42" fill="#4a4088" opacity="0.9"/>
<circle cx="57.8" cy="787.3" r="0.41" fill="#7a6ab0" opacity="0.9"/>
<circle cx="135.7" cy="797.2" r="0.84" fill="#6a6078" opacity="0.9"/>
<circle cx="146.4" cy="809.2" r="0.50" fill="#7a6ab0" opacity="0.9"/>
<circle cx="106.7" cy="790.0" r="0.95" fill="#5a5070" opacity="0.9"/>
<circle cx="61.5" cy="771.4" r="0.40" fill="#8070b8" opacity="0.9"/>
<circle cx="135.9" cy="783.0" r="0.94" fill="#6a6078" opacity="0.9"/>
<circle cx="90.3" cy="820.6" r="1.01" fill="#6a6078" opacity="0.9"/>
<circle cx="142.0" cy="756.7" r="0.71" fill="#5a5070" opacity="0.9"/>
<circle cx="115.1" cy="811.4" r="0.44" fill="#8070b8" opacity="0.9"/>
<circle cx="64.4" cy="798.6" r="0.93" fill="#5a4c98" opacity="0.9"/>
<circle cx="89.5" cy="794.3" r="0.40" fill="#6a5aa8" opacity="0.9"/>
<circle cx="92.0" cy="793.0" r="0.42" fill="#5a5070" opacity="0.9"/>
<circle cx="64.8" cy="834.2" r="0.40" fill="#5a5070" opacity="0.9"/>
<circle cx="117.0" cy="753.7" r="0.56" fill="#8070b8" opacity="0.9"/>
<circle cx="117.2" cy="849.2" r="0.56" fill="#7a6ab0" opacity="0.9"/>
<circle cx="76.9" cy="808.1" r="0.74" fill="#4a4088" opacity="0.9"/>
<circle cx="124.3" cy="847.7" r="0.41" fill="#6a5aa8" opacity="0.9"/>
<circle cx="65.0" cy="797.6" r="0.41" fill="#6a6078" opacity="0.9"/>
<circle cx="120.6" cy="771.8" r="0.43" fill="#5a5070" opacity="0.9"/>
<circle cx="137.1" cy="812.2" r="0.56" fill="#4a4088" opacity="0.9"/>
<circle cx="76.0" cy="845.4" r="0.50" fill="#5a4c98" opacity="0.9"/>
<circle cx="114.0" cy="784.7" r="0.48" fill="#8070b8" opacity="0.9"/>
<circle cx="99.4" cy="774.9" r="0.79" fill="#6a5aa8" opacity="0.9"/>
<circle cx="141.9" cy="761.2" r="0.41" fill="#4a4088" opacity="0.9"/>
<circle cx="114.5" cy="852.8" r="0.75" fill="#8070b8" opacity="0.9"/>
<circle cx="112.8" cy="763.1" r="0.40" fill="#8070b8" opacity="0.9"/>
<circle cx="91.2" cy="748.7" r="0.42" fill="#8070b8" opacity="0.9"/>
<circle cx="79.5" cy="827.8" r="0.44" fill="#6a6078" opacity="0.9"/>
<circle cx="134.2" cy="774.0" r="0.40" fill="#5a5070" opacity="0.9"/>
<circle cx="51.8" cy="817.5" r="0.41" fill="#5a4c98" opacity="0.9"/>
<circle cx="118.7" cy="800.8" r="0.57" fill="#5a4c98" opacity="0.9"/>
<circle cx="68.7" cy="791.2" r="0.41" fill="#5a4c98" opacity="0.9"/>
<circle cx="118.6" cy="745.4" r="0.49" fill="#6a5aa8" opacity="0.9"/>
<circle cx="123.3" cy="822.2" r="0.97" fill="#7a6ab0" opacity="0.9"/>
<circle cx="155.3" cy="818.7" r="0.77" fill="#4a4088" opacity="0.9"/>
<circle cx="112.1" cy="745.5" r="0.49" fill="#7a6ab0" opacity="0.9"/>
<circle cx="115.8" cy="779.7" r="0.40" fill="#6a6078" opacity="0.9"/>
<circle cx="161.2" cy="786.7" r="0.49" fill="#6a6078" opacity="0.9"/>
<circle cx="117.7" cy="761.4" r="0.52" fill="#8070b8" opacity="0.9"/>
<circle cx="111.9" cy="818.4" r="1.07" fill="#6a6078" opacity="0.9"/>
<circle cx="144.7" cy="774.5" r="1.01" fill="#6a5aa8" opacity="0.9"/>
<circle cx="96.2" cy="842.1" r="0.47" fill="#8070b8" opacity="0.9"/>
<circle cx="70.3" cy="798.6" r="0.97" fill="#4a4088" opacity="0.9"/>
<circle cx="123.5" cy="810.4" r="0.76" fill="#8070b8" opacity="0.9"/>
<circle cx="58.7" cy="789.0" r="0.47" fill="#6a6078" opacity="0.9"/>
<circle cx="121.2" cy="749.6" r="0.87" fill="#6a6078" opacity="0.9"/>
<circle cx="88.1" cy="795.3" r="0.53" fill="#5a4c98" opacity="0.9"/>
<circle cx="77.5" cy="760.3" r="0.70" fill="#4a4088" opacity="0.9"/>
<circle cx="85.8" cy="828.0" r="0.79" fill="#4a4088" opacity="0.9"/>
<circle cx="88.4" cy="780.0" r="0.96" fill="#7a6ab0" opacity="0.9"/>
<circle cx="55.9" cy="773.4" r="0.83" fill="#4a4088" opacity="0.9"/>
<circle cx="118.3" cy="756.1" r="0.98" fill="#5a5070" opacity="0.9"/>
<circle cx="64.6" cy="789.4" r="0.41" fill="#5a4c98" opacity="0.9"/>
<circle cx="60.3" cy="767.6" r="0.45" fill="#6a6078" opacity="0.9"/>
<circle cx="157.1" cy="806.9" r="0.41" fill="#6a5aa8" opacity="0.9"/>
<circle cx="139.8" cy="806.5" r="0.48" fill="#6a5aa8" opacity="0.9"/>
<circle cx="147.7" cy="831.8" r="0.41" fill="#8070b8" opacity="0.9"/>
<circle cx="69.6" cy="823.0" r="0.41" fill="#6a6078" opacity="0.9"/>
<circle cx="73.8" cy="769.2" r="0.74" fill="#5a5070" opacity="0.9"/>
<circle cx="143.2" cy="761.8" r="0.60" fill="#6a6078" opacity="0.9"/>
<circle cx="110.2" cy="744.0" r="0.66" fill="#5a5070" opacity="0.9"/>
<circle cx="111.3" cy="785.8" r="0.59" fill="#5a5070" opacity="0.9"/>
<circle cx="80.3" cy="838.5" r="0.72" fill="#6a6078" opacity="0.9"/>
<circle cx="108.5" cy="761.0" r="0.41" fill="#5a5070" opacity="0.9"/>
<circle cx="61.4" cy="804.1" r="1.02" fill="#5a4c98" opacity="0.9"/>
<circle cx="97.5" cy="805.4" r="0.72" fill="#6a6078" opacity="0.9"/>
<circle cx="94.3" cy="792.3" r="0.41" fill="#6a5aa8" opacity="0.9"/>
<circle cx="90.7" cy="747.2" r="0.42" fill="#6a6078" opacity="0.9"/>
<circle cx="124.6" cy="837.4" r="0.45" fill="#7a6ab0" opacity="0.9"/>
<circle cx="75.8" cy="842.1" r="0.74" fill="#7a6ab0" opacity="0.9"/>
<circle cx="93.8" cy="849.0" r="0.43" fill="#5a5070" opacity="0.9"/>
<circle cx="115.0" cy="851.8" r="0.84" fill="#4a4088" opacity="0.9"/>
<circle cx="95.7" cy="801.0" r="0.75" fill="#5a5070" opacity="0.9"/>
<circle cx="129.3" cy="774.3" r="0.99" fill="#4a4088" opacity="0.9"/>
<circle cx="86.4" cy="780.7" r="0.44" fill="#5a4c98" opacity="0.9"/>
<circle cx="120.6" cy="829.3" r="0.87" fill="#6a5aa8" opacity="0.9"/>
<circle cx="136.2" cy="767.6" r="0.40" fill="#4a4088" opacity="0.9"/>
<circle cx="98.3" cy="834.6" r="0.41" fill="#5a5070" opacity="0.9"/>
<circle cx="136.1" cy="750.7" r="0.55" fill="#6a6078" opacity="0.9"/>
<circle cx="134.2" cy="774.3" r="0.86" fill="#4a4088" opacity="0.9"/>
<circle cx="141.6" cy="768.2" r="0.59" fill="#4a4088" opacity="0.9"/>
<circle cx="76.8" cy="792.0" r="1.05" fill="#7a6ab0" opacity="0.9"/>
<circle cx="70.9" cy="753.6" r="0.57" fill="#6a6078" opacity="0.9"/>
<circle cx="132.0" cy="843.0" r="0.42" fill="#7a6ab0" opacity="0.9"/>
<circle cx="76.4" cy="793.5" r="0.69" fill="#6a6078" opacity="0.9"/>
<circle cx="95.2" cy="844.8" r="0.44" fill="#5a4c98" opacity="0.9"/>
<circle cx="116.7" cy="829.9" r="1.08" fill="#6a6078" opacity="0.9"/>
<circle cx="140.7" cy="806.3" r="1.04" fill="#5a4c98" opacity="0.9"/>
<circle cx="78.0" cy="805.4" r="1.05" fill="#8070b8" opacity="0.9"/>
<circle cx="98.9" cy="770.6" r="0.96" fill="#4a4088" opacity="0.9"/>
<circle cx="79.0" cy="752.9" r="0.58" fill="#6a5aa8" opacity="0.9"/>
<circle cx="143.2" cy="754.7" r="0.45" fill="#8070b8" opacity="0.9"/>
<circle cx="71.3" cy="791.9" r="0.83" fill="#5a4c98" opacity="0.9"/>
<circle cx="77.8" cy="785.5" r="0.75" fill="#6a5aa8" opacity="0.9"/>
<circle cx="94.9" cy="836.1" r="0.65" fill="#8070b8" opacity="0.9"/>
<circle cx="142.9" cy="766.4" r="0.48" fill="#6a5aa8" opacity="0.9"/>
<circle cx="119.7" cy="806.9" r="0.74" fill="#7a6ab0" opacity="0.9"/>
<circle cx="119.1" cy="838.5" r="0.41" fill="#6a6078" opacity="0.9"/>
<circle cx="127.2" cy="783.9" r="0.73" fill="#5a5070" opacity="0.9"/>
<circle cx="73.6" cy="837.6" r="0.89" fill="#4a4088" opacity="0.9"/>
<circle cx="103.8" cy="740.4" r="0.55" fill="#6a6078" opacity="0.9"/>
<circle cx="65.0" cy="758.5" r="0.60" fill="#6a5aa8" opacity="0.9"/>
<circle cx="107.1" cy="809.3" r="0.49" fill="#4a4088" opacity="0.9"/>
<circle cx="47.5" cy="795.9" r="0.46" fill="#4a4088" opacity="0.9"/>
<circle cx="104.3" cy="799.6" r="0.58" fill="#8070b8" opacity="0.9"/>
<circle cx="66.8" cy="778.6" r="0.40" fill="#7a6ab0" opacity="0.9"/>
<circle cx="132.9" cy="847.0" r="1.07" fill="#5a4c98" opacity="0.9"/>
<circle cx="148.0" cy="781.3" r="0.86" fill="#4a4088" opacity="0.9"/>
<circle cx="99.6" cy="796.2" r="0.40" fill="#5a5070" opacity="0.9"/>
<circle cx="125.3" cy="847.9" r="0.42" fill="#6a5aa8" opacity="0.9"/>
<circle cx="71.7" cy="836.0" r="0.41" fill="#7a6ab0" opacity="0.9"/>
<circle cx="60.3" cy="812.5" r="0.51" fill="#6a5aa8" opacity="0.9"/>
<circle cx="81.9" cy="837.7" r="0.47" fill="#4a4088" opacity="0.9"/>
<circle cx="158.8" cy="787.3" r="0.71" fill="#5a4c98" opacity="0.9"/>
<circle cx="109.9" cy="764.4" r="0.41" fill="#6a6078" opacity="0.9"/>
<circle cx="87.3" cy="785.9" r="0.55" fill="#7a6ab0" opacity="0.9"/>
<circle cx="82.8" cy="747.4" r="0.45" fill="#6a5aa8" opacity="0.9"/>
<circle cx="89.0" cy="772.3" r="0.81" fill="#5a4c98" opacity="0.9"/>
<circle cx="101.3" cy="821.7" r="0.61" fill="#8070b8" opacity="0.9"/>
<circle cx="145.8" cy="798.0" r="0.58" fill="#5a4c98" opacity="0.9"/>
<circle cx="59.0" cy="767.3" r="0.40" fill="#4a4088" opacity="0.9"/>
<circle cx="141.1" cy="830.4" r="0.86" fill="#6a5aa8" opacity="0.9"/>
<circle cx="56.8" cy="790.8" r="0.52" fill="#5a4c98" opacity="0.9"/>
<circle cx="128.9" cy="750.1" r="0.52" fill="#5a5070" opacity="0.9"/>
<circle cx="116.4" cy="757.1" r="0.50" fill="#7a6ab0" opacity="0.9"/>
<circle cx="118.1" cy="743.3" r="0.40" fill="#6a5aa8" opacity="0.9"/>
<circle cx="131.5" cy="768.3" r="0.45" fill="#5a4c98" opacity="0.9"/>
<circle cx="70.7" cy="770.3" r="0.49" fill="#4a4088" opacity="0.9"/>
<circle cx="52.1" cy="786.8" r="0.63" fill="#8070b8" opacity="0.9"/>
<circle cx="59.7" cy="818.1" r="0.92" fill="#7a6ab0" opacity="0.9"/>
<circle cx="104.1" cy="825.6" r="0.49" fill="#6a5aa8" opacity="0.9"/>
<circle cx="88.2" cy="801.8" r="0.92" fill="#6a6078" opacity="0.9"/>
<circle cx="138.4" cy="809.2" r="0.44" fill="#6a5aa8" opacity="0.9"/>
<circle cx="138.0" cy="787.8" r="1.02" fill="#8070b8" opacity="0.9"/>
<circle cx="53.7" cy="813.3" r="0.79" fill="#5a4c98" opacity="0.9"/>
<circle cx="67.9" cy="818.9" r="0.68" fill="#4a4088" opacity="0.9"/>
<circle cx="130.8" cy="767.6" r="0.52" fill="#4a4088" opacity="0.9"/>
<circle cx="94.4" cy="760.6" r="0.49" fill="#7a6ab0" opacity="0.9"/>
<circle cx="74.9" cy="811.3" r="0.79" fill="#8070b8" opacity="0.9"/>
<circle cx="99.4" cy="842.0" r="0.43" fill="#6a6078" opacity="0.9"/>
<circle cx="146.5" cy="763.8" r="0.99" fill="#6a5aa8" opacity="0.9"/>
<circle cx="133.2" cy="826.5" r="0.76" fill="#6a5aa8" opacity="0.9"/>
<circle cx="99.8" cy="850.4" r="0.71" fill="#7a6ab0" opacity="0.9"/>
<circle cx="51.6" cy="797.7" r="0.87" fill="#6a6078" opacity="0.9"/>
<circle cx="49.3" cy="800.1" r="0.64" fill="#4a4088" opacity="0.9"/>
<circle cx="71.1" cy="813.3" r="0.82" fill="#6a6078" opacity="0.9"/>
<circle cx="71.2" cy="792.6" r="0.42" fill="#7a6ab0" opacity="0.9"/>
<circle cx="90.2" cy="789.8" r="1.04" fill="#5a5070" opacity="0.9"/>
<circle cx="119.7" cy="745.4" r="0.73" fill="#7a6ab0" opacity="0.9"/>
<circle cx="85.1" cy="835.7" r="0.69" fill="#6a5aa8" opacity="0.9"/>
<circle cx="143.1" cy="766.5" r="1.00" fill="#6a6078" opacity="0.9"/>
<circle cx="117.5" cy="765.7" r="0.51" fill="#5a5070" opacity="0.9"/>
<circle cx="88.0" cy="755.2" r="1.07" fill="#6a5aa8" opacity="0.9"/>
<circle cx="147.9" cy="778.9" r="0.82" fill="#5a5070" opacity="0.9"/>
<circle cx="121.1" cy="852.1" r="0.52" fill="#7a6ab0" opacity="0.9"/>
<circle cx="122.6" cy="834.9" r="0.47" fill="#5a5070" opacity="0.9"/>
<circle cx="101.0" cy="855.0" r="0.68" fill="#4a4088" opacity="0.9"/>
<circle cx="143.0" cy="776.1" r="1.08" fill="#4a4088" opacity="0.9"/>
<circle cx="118.9" cy="747.3" r="0.74" fill="#5a4c98" opacity="0.9"/>
<circle cx="68.8" cy="801.2" r="0.40" fill="#5a5070" opacity="0.9"/>
<circle cx="141.8" cy="758.3" r="0.77" fill="#6a6078" opacity="0.9"/>
<circle cx="98.2" cy="749.6" r="0.90" fill="#7a6ab0" opacity="0.9"/>
<circle cx="100.6" cy="823.9" r="0.97" fill="#7a6ab0" opacity="0.9"/>
<circle cx="146.0" cy="756.9" r="0.62" fill="#6a5aa8" opacity="0.9"/>
<circle cx="52.8" cy="772.7" r="0.42" fill="#5a4c98" opacity="0.9"/>
<circle cx="148.9" cy="806.2" r="1.10" fill="#4a4088" opacity="0.9"/>
<circle cx="152.9" cy="829.8" r="0.43" fill="#6a6078" opacity="0.9"/>
<circle cx="83.1" cy="775.9" r="0.48" fill="#6a5aa8" opacity="0.9"/>
<circle cx="52.4" cy="779.3" r="0.40" fill="#6a5aa8" opacity="0.9"/>
<circle cx="146.7" cy="761.7" r="0.46" fill="#6a6078" opacity="0.9"/>
<circle cx="66.2" cy="765.1" r="0.87" fill="#6a6078" opacity="0.9"/>
<circle cx="58.1" cy="822.7" r="0.47" fill="#4a4088" opacity="0.9"/>
<circle cx="103.9" cy="799.5" r="0.59" fill="#5a4c98" opacity="0.9"/>
<circle cx="68.0" cy="761.7" r="1.06" fill="#6a5aa8" opacity="0.9"/>
<circle cx="101.3" cy="838.6" r="0.42" fill="#5a4c98" opacity="0.9"/>
<circle cx="90.6" cy="806.4" r="0.53" fill="#4a4088" opacity="0.9"/>
<circle cx="86.9" cy="772.3" r="0.70" fill="#4a4088" opacity="0.9"/>
<circle cx="112.0" cy="792.6" r="0.79" fill="#6a5aa8" opacity="0.9"/>
<circle cx="58.4" cy="769.3" r="0.76" fill="#6a6078" opacity="0.9"/>
<circle cx="53.7" cy="773.9" r="0.46" fill="#4a4088" opacity="0.9"/>
<circle cx="105.6" cy="828.3" r="1.04" fill="#8070b8" opacity="0.9"/>
<circle cx="107.6" cy="829.3" r="0.99" fill="#5a4c98" opacity="0.9"/>
<circle cx="139.1" cy="819.9" r="0.56" fill="#6a6078" opacity="0.9"/>
<circle cx="71.2" cy="806.0" r="0.52" fill="#5a5070" opacity="0.9"/>
<circle cx="126.7" cy="818.8" r="0.94" fill="#5a5070" opacity="0.9"/>
<circle cx="123.5" cy="760.3" r="0.40" fill="#5a4c98" opacity="0.9"/>
<circle cx="80.4" cy="754.9" r="0.40" fill="#6a5aa8" opacity="0.9"/>
<circle cx="59.3" cy="762.6" r="0.89" fill="#8070b8" opacity="0.9"/>
<circle cx="79.2" cy="789.2" r="0.40" fill="#4a4088" opacity="0.9"/>
<circle cx="119.3" cy="745.4" r="0.43" fill="#7a6ab0" opacity="0.9"/>
<circle cx="98.8" cy="847.4" r="0.94" fill="#6a6078" opacity="0.9"/>
<circle cx="98.6" cy="799.2" r="1.05" fill="#5a4c98" opacity="0.9"/>
<circle cx="57.2" cy="812.3" r="0.95" fill="#7a6ab0" opacity="0.9"/>
<circle cx="155.9" cy="794.6" r="0.58" fill="#5a4c98" opacity="0.9"/>
<circle cx="70.2" cy="806.0" r="0.62" fill="#4a4088" opacity="0.9"/>
<circle cx="82.2" cy="747.4" r="0.52" fill="#5a5070" opacity="0.9"/>
<circle cx="84.2" cy="775.0" r="0.43" fill="#8070b8" opacity="0.9"/>
<circle cx="62.1" cy="767.6" r="0.77" fill="#5a5070" opacity="0.9"/>
<circle cx="112.5" cy="828.8" r="0.42" fill="#5a4c98" opacity="0.9"/>
<circle cx="87.9" cy="764.2" r="1.06" fill="#6a6078" opacity="0.9"/>
<circle cx="72.5" cy="754.0" r="0.47" fill="#4a4088" opacity="0.9"/>
<circle cx="139.3" cy="775.0" r="0.55" fill="#8070b8" opacity="0.9"/>
<circle cx="108.4" cy="817.4" r="0.91" fill="#4a4088" opacity="0.9"/>
<circle cx="91.7" cy="759.7" r="0.45" fill="#6a5aa8" opacity="0.9"/>
<circle cx="103.7" cy="784.3" r="0.62" fill="#5a5070" opacity="0.9"/>
<circle cx="105.4" cy="751.6" r="0.41" fill="#8070b8" opacity="0.9"/>
<circle cx="83.3" cy="751.5" r="0.95" fill="#5a4c98" opacity="0.9"/>
<circle cx="119.8" cy="850.1" r="0.43" fill="#6a5aa8" opacity="0.9"/>
<circle cx="102.6" cy="816.5" r="0.43" fill="#4a4088" opacity="0.9"/>
<circle cx="83.2" cy="845.9" r="0.52" fill="#7a6ab0" opacity="0.9"/>
<circle cx="122.2" cy="800.0" r="0.49" fill="#7a6ab0" opacity="0.9"/>
<circle cx="100.5" cy="790.6" r="0.73" fill="#6a5aa8" opacity="0.9"/>
<circle cx="60.8" cy="821.7" r="0.41" fill="#6a6078" opacity="0.9"/>
<circle cx="69.3" cy="774.9" r="0.40" fill="#6a5aa8" opacity="0.9"/>
<circle cx="143.4" cy="791.3" r="0.46" fill="#4a4088" opacity="0.9"/>
<circle cx="56.7" cy="794.4" r="0.52" fill="#8070b8" opacity="0.9"/>
<circle cx="67.0" cy="807.2" r="0.76" fill="#7a6ab0" opacity="0.9"/>
<circle cx="113.9" cy="848.1" r="0.47" fill="#5a5070" opacity="0.9"/>
<circle cx="96.1" cy="837.9" r="0.59" fill="#4a4088" opacity="0.9"/>
<circle cx="74.7" cy="842.2" r="0.58" fill="#6a6078" opacity="0.9"/>
<circle cx="59.0" cy="822.5" r="0.86" fill="#7a6ab0" opacity="0.9"/>
<circle cx="101.8" cy="793.3" r="0.63" fill="#5a4c98" opacity="0.9"/>
<circle cx="82.5" cy="792.0" r="0.58" fill="#5a5070" opacity="0.9"/>
<circle cx="60.8" cy="766.8" r="0.74" fill="#6a6078" opacity="0.9"/>
<circle cx="121.6" cy="761.5" r="0.61" fill="#6a6078" opacity="0.9"/>
<circle cx="96.7" cy="759.5" r="0.44" fill="#5a5070" opacity="0.9"/>
<circle cx="107.2" cy="830.2" r="1.02" fill="#6a5aa8" opacity="0.9"/>
<circle cx="64.3" cy="774.8" r="0.44" fill="#4a4088" opacity="0.9"/>
<circle cx="73.8" cy="808.9" r="0.98" fill="#6a5aa8" opacity="0.9"/>
<circle cx="125.1" cy="844.9" r="0.40" fill="#7a6ab0" opacity="0.9"/>
<circle cx="49.3" cy="785.3" r="1.05" fill="#8070b8" opacity="0.9"/>
<circle cx="135.2" cy="763.8" r="0.59" fill="#8070b8" opacity="0.9"/>
<circle cx="163.7" cy="795.7" r="0.91" fill="#5a4c98" opacity="0.9"/>
<circle cx="141.0" cy="837.6" r="0.41" fill="#5a5070" opacity="0.9"/>
<circle cx="88.2" cy="779.9" r="0.42" fill="#6a6078" opacity="0.9"/>
<circle cx="90.7" cy="844.3" r="0.40" fill="#8070b8" opacity="0.9"/>
<circle cx="101.9" cy="838.1" r="0.61" fill="#4a4088" opacity="0.9"/>
<circle cx="67.8" cy="833.7" r="0.40" fill="#8070b8" opacity="0.9"/>
<circle cx="120.5" cy="755.5" r="0.41" fill="#6a5aa8" opacity="0.9"/>
<circle cx="140.1" cy="785.9" r="0.44" fill="#8070b8" opacity="0.9"/>
<circle cx="53.8" cy="775.4" r="0.65" fill="#7a6ab0" opacity="0.9"/>
<circle cx="97.7" cy="750.5" r="0.47" fill="#5a4c98" opacity="0.9"/>
<circle cx="106.1" cy="824.4" r="0.75" fill="#4a4088" opacity="0.9"/>
<circle cx="70.4" cy="840.2" r="0.41" fill="#6a6078" opacity="0.9"/>
<circle cx="140.2" cy="751.8" r="0.46" fill="#4a4088" opacity="0.9"/>
<circle cx="82.4" cy="789.9" r="0.73" fill="#6a5aa8" opacity="0.9"/>
<circle cx="64.4" cy="829.4" r="1.09" fill="#7a6ab0" opacity="0.9"/>
<circle cx="89.1" cy="846.0" r="0.63" fill="#7a6ab0" opacity="0.9"/>
<circle cx="95.8" cy="770.0" r="0.52" fill="#7a6ab0" opacity="0.9"/>
<circle cx="50.6" cy="794.5" r="0.81" fill="#6a5aa8" opacity="0.9"/>
<circle cx="96.1" cy="743.9" r="0.73" fill="#5a5070" opacity="0.9"/>
<circle cx="118.8" cy="742.0" r="0.71" fill="#7a6ab0" opacity="0.9"/>
<circle cx="94.8" cy="851.0" r="0.60" fill="#8070b8" opacity="0.9"/>
<circle cx="115.2" cy="799.8" r="0.53" fill="#6a6078" opacity="0.9"/>
<circle cx="149.1" cy="803.5" r="0.49" fill="#8070b8" opacity="0.9"/>
<circle cx="92.8" cy="786.5" r="0.40" fill="#6a5aa8" opacity="0.9"/>
<circle cx="126.2" cy="789.5" r="0.42" fill="#4a4088" opacity="0.9"/>
<circle cx="105.1" cy="834.8" r="0.41" fill="#7a6ab0" opacity="0.9"/>
<circle cx="146.0" cy="766.8" r="0.43" fill="#6a6078" opacity="0.9"/>
<circle cx="58.7" cy="763.8" r="0.99" fill="#6a5aa8" opacity="0.9"/>
<circle cx="56.3" cy="776.1" r="0.43" fill="#6a6078" opacity="0.9"/>
<circle cx="147.8" cy="767.3" r="0.43" fill="#5a5070" opacity="0.9"/>
<circle cx="64.6" cy="763.8" r="0.85" fill="#6a6078" opacity="0.9"/>
<circle cx="67.4" cy="765.3" r="0.42" fill="#5a5070" opacity="0.9"/>
<circle cx="141.6" cy="834.8" r="0.95" fill="#6a6078" opacity="0.9"/>
<circle cx="71.2" cy="781.0" r="0.74" fill="#6a6078" opacity="0.9"/>
<circle cx="77.6" cy="767.1" r="0.40" fill="#5a5070" opacity="0.9"/>
<circle cx="70.6" cy="829.4" r="0.67" fill="#6a6078" opacity="0.9"/>
<circle cx="140.8" cy="809.6" r="0.52" fill="#5a4c98" opacity="0.9"/>
<circle cx="126.2" cy="802.8" r="0.88" fill="#6a5aa8" opacity="0.9"/>
<circle cx="137.6" cy="827.4" r="0.67" fill="#5a4c98" opacity="0.9"/>
<circle cx="107.0" cy="838.9" r="0.96" fill="#7a6ab0" opacity="0.9"/>
<circle cx="49.3" cy="810.8" r="0.58" fill="#5a4c98" opacity="0.9"/>
<circle cx="161.9" cy="810.0" r="0.64" fill="#6a6078" opacity="0.9"/>
<circle cx="54.4" cy="779.3" r="0.45" fill="#6a5aa8" opacity="0.9"/>
<circle cx="122.8" cy="802.0" r="0.53" fill="#7a6ab0" opacity="0.9"/>
<circle cx="116.2" cy="853.2" r="0.52" fill="#5a4c98" opacity="0.9"/>
<circle cx="89.0" cy="757.0" r="0.40" fill="#4a4088" opacity="0.9"/>
<circle cx="47.7" cy="804.6" r="0.73" fill="#6a6078" opacity="0.9"/>
<circle cx="54.0" cy="810.3" r="0.74" fill="#6a6078" opacity="0.9"/>
<circle cx="143.2" cy="794.5" r="0.46" fill="#6a5aa8" opacity="0.9"/>
<circle cx="118.8" cy="745.3" r="0.43" fill="#6a5aa8" opacity="0.9"/>
<circle cx="88.8" cy="821.4" r="0.45" fill="#6a5aa8" opacity="0.9"/>
<circle cx="124.8" cy="749.7" r="0.50" fill="#4a4088" opacity="0.9"/>
<circle cx="126.9" cy="751.4" r="0.66" fill="#6a6078" opacity="0.9"/>
<circle cx="116.2" cy="789.9" r="0.45" fill="#8070b8" opacity="0.9"/>
<circle cx="59.3" cy="808.5" r="0.99" fill="#8070b8" opacity="0.9"/>
<circle cx="116.1" cy="799.9" r="0.40" fill="#6a5aa8" opacity="0.9"/>
<circle cx="107.3" cy="784.1" r="0.41" fill="#6a6078" opacity="0.9"/>
<circle cx="91.1" cy="769.9" r="0.41" fill="#6a5aa8" opacity="0.9"/>
<circle cx="90.5" cy="747.0" r="0.88" fill="#6a6078" opacity="0.9"/>
<circle cx="115.9" cy="834.8" r="0.40" fill="#7a6ab0" opacity="0.9"/>
<circle cx="88.4" cy="801.8" r="0.40" fill="#8070b8" opacity="0.9"/>
<circle cx="153.6" cy="792.8" r="0.63" fill="#7a6ab0" opacity="0.9"/>
<circle cx="52.7" cy="817.8" r="0.40" fill="#5a4c98" opacity="0.9"/>
<circle cx="132.9" cy="762.9" r="0.51" fill="#6a5aa8" opacity="0.9"/>
<circle cx="73.7" cy="800.4" r="0.74" fill="#6a6078" opacity="0.9"/>
<circle cx="114.9" cy="801.1" r="0.48" fill="#5a5070" opacity="0.9"/>
<circle cx="115.1" cy="835.5" r="0.43" fill="#7a6ab0" opacity="0.9"/>
<circle cx="105.2" cy="836.3" r="0.41" fill="#7a6ab0" opacity="0.9"/>
<circle cx="117.1" cy="814.2" r="0.60" fill="#5a5070" opacity="0.9"/>
<circle cx="67.1" cy="778.9" r="0.86" fill="#5a4c98" opacity="0.9"/>
<circle cx="113.6" cy="770.5" r="0.75" fill="#6a5aa8" opacity="0.9"/>
<circle cx="108.5" cy="847.6" r="0.89" fill="#7a6ab0" opacity="0.9"/>
<circle cx="92.4" cy="843.4" r="0.67" fill="#8070b8" opacity="0.9"/>
<circle cx="59.0" cy="788.4" r="0.73" fill="#8070b8" opacity="0.9"/>
<circle cx="116.1" cy="853.4" r="0.58" fill="#6a5aa8" opacity="0.9"/>
<circle cx="115.8" cy="741.9" r="0.86" fill="#6a6078" opacity="0.9"/>
<circle cx="115.9" cy="773.2" r="0.50" fill="#6a6078" opacity="0.9"/>
<circle cx="66.3" cy="755.3" r="0.60" fill="#5a4c98" opacity="0.9"/>
<circle cx="47.8" cy="788.7" r="0.40" fill="#5a5070" opacity="0.9"/>
<circle cx="55.9" cy="779.0" r="0.54" fill="#5a5070" opacity="0.9"/>
<circle cx="62.8" cy="770.9" r="0.43" fill="#8070b8" opacity="0.9"/>
<circle cx="70.5" cy="839.8" r="0.54" fill="#6a6078" opacity="0.9"/>
<circle cx="125.6" cy="771.2" r="0.61" fill="#4a4088" opacity="0.9"/>
<circle cx="92.8" cy="841.4" r="0.58" fill="#5a5070" opacity="0.9"/>
<circle cx="105.0" cy="802.8" r="0.89" fill="#6a6078" opacity="0.9"/>
<circle cx="107.7" cy="766.6" r="0.69" fill="#7a6ab0" opacity="0.9"/>
<circle cx="134.8" cy="774.7" r="0.56" fill="#8070b8" opacity="0.9"/>
<circle cx="139.9" cy="838.0" r="0.40" fill="#7a6ab0" opacity="0.9"/>
<circle cx="60.3" cy="791.7" r="0.42" fill="#6a6078" opacity="0.9"/>
<circle cx="95.9" cy="796.4" r="0.40" fill="#6a6078" opacity="0.9"/>
<circle cx="77.0" cy="750.6" r="0.63" fill="#6a6078" opacity="0.9"/>
<circle cx="103.5" cy="771.8" r="0.55" fill="#8070b8" opacity="0.9"/>
<circle cx="74.4" cy="785.1" r="0.77" fill="#6a6078" opacity="0.9"/>
<circle cx="76.0" cy="841.4" r="0.60" fill="#5a4c98" opacity="0.9"/>
<circle cx="49.6" cy="788.3" r="0.71" fill="#6a6078" opacity="0.9"/>
<circle cx="97.3" cy="746.2" r="0.62" fill="#6a6078" opacity="0.9"/>
<circle cx="85.0" cy="832.5" r="0.46" fill="#4a4088" opacity="0.9"/>
<circle cx="127.7" cy="759.1" r="0.84" fill="#4a4088" opacity="0.9"/>
<circle cx="119.8" cy="759.1" r="0.40" fill="#8070b8" opacity="0.9"/>
<circle cx="108.1" cy="767.1" r="1.03" fill="#6a5aa8" opacity="0.9"/>
<circle cx="48.7" cy="791.1" r="0.70" fill="#7a6ab0" opacity="0.9"/>
<circle cx="124.4" cy="764.5" r="0.49" fill="#4a4088" opacity="0.9"/>
<circle cx="95.8" cy="807.6" r="0.87" fill="#5a5070" opacity="0.9"/>
<circle cx="62.4" cy="831.6" r="0.40" fill="#6a6078" opacity="0.9"/>
<circle cx="74.8" cy="834.1" r="1.00" fill="#8070b8" opacity="0.9"/>
<circle cx="154.2" cy="806.0" r="0.55" fill="#5a5070" opacity="0.9"/>
<circle cx="82.4" cy="835.4" r="0.41" fill="#7a6ab0" opacity="0.9"/>
<circle cx="147.0" cy="799.7" r="0.41" fill="#6a6078" opacity="0.9"/>
<circle cx="105.1" cy="849.9" r="0.44" fill="#4a4088" opacity="0.9"/>
<circle cx="50.9" cy="782.3" r="0.83" fill="#7a6ab0" opacity="0.9"/>
<circle cx="65.1" cy="833.1" r="0.64" fill="#7a6ab0" opacity="0.9"/>
<circle cx="109.6" cy="776.3" r="0.44" fill="#6a5aa8" opacity="0.9"/>
<circle cx="124.0" cy="801.4" r="0.40" fill="#5a5070" opacity="0.9"/>
<circle cx="138.2" cy="779.9" r="1.00" fill="#7a6ab0" opacity="0.9"/>
<circle cx="115.4" cy="798.3" r="0.58" fill="#8070b8" opacity="0.9"/>
<circle cx="56.7" cy="803.2" r="1.03" fill="#4a4088" opacity="0.9"/>
<circle cx="65.6" cy="759.2" r="0.44" fill="#6a5aa8" opacity="0.9"/>
<circle cx="138.5" cy="752.9" r="0.41" fill="#4a4088" opacity="0.9"/>
<circle cx="110.6" cy="743.9" r="0.48" fill="#6a5aa8" opacity="0.9"/>
<circle cx="140.6" cy="830.3" r="0.96" fill="#6a6078" opacity="0.9"/>
<circle cx="138.6" cy="750.4" r="0.40" fill="#6a5aa8" opacity="0.9"/>
<circle cx="136.5" cy="786.7" r="0.47" fill="#5a4c98" opacity="0.9"/>
<circle cx="128.3" cy="796.5" r="0.41" fill="#6a5aa8" opacity="0.9"/>
<circle cx="88.3" cy="820.5" r="0.51" fill="#4a4088" opacity="0.9"/>
<circle cx="108.9" cy="804.1" r="1.09" fill="#5a4c98" opacity="0.9"/>
<circle cx="143.0" cy="802.4" r="0.85" fill="#6a6078" opacity="0.9"/>
<circle cx="149.4" cy="829.2" r="0.44" fill="#4a4088" opacity="0.9"/>
<circle cx="130.7" cy="771.3" r="0.49" fill="#6a6078" opacity="0.9"/>
<circle cx="59.9" cy="789.0" r="0.67" fill="#4a4088" opacity="0.9"/>
<circle cx="106.5" cy="806.9" r="0.59" fill="#6a5aa8" opacity="0.9"/>
<circle cx="141.9" cy="811.5" r="0.91" fill="#5a5070" opacity="0.9"/>
<circle cx="115.7" cy="839.3" r="0.91" fill="#5a5070" opacity="0.9"/>
<circle cx="76.9" cy="784.5" r="0.96" fill="#5a4c98" opacity="0.9"/>
<circle cx="53.9" cy="807.7" r="0.58" fill="#5a5070" opacity="0.9"/>
<circle cx="96.9" cy="827.4" r="0.55" fill="#6a5aa8" opacity="0.9"/>
<circle cx="75.1" cy="839.9" r="0.68" fill="#6a6078" opacity="0.9"/>
<circle cx="97.5" cy="749.1" r="0.65" fill="#6a6078" opacity="0.9"/>
<circle cx="63.6" cy="831.8" r="0.54" fill="#7a6ab0" opacity="0.9"/>
<circle cx="123.2" cy="850.5" r="0.40" fill="#6a6078" opacity="0.9"/>
<circle cx="76.5" cy="810.6" r="0.75" fill="#7a6ab0" opacity="0.9"/>
<circle cx="87.6" cy="802.2" r="0.58" fill="#6a5aa8" opacity="0.9"/>
<circle cx="85.8" cy="836.1" r="0.78" fill="#6a6078" opacity="0.9"/>
<circle cx="119.6" cy="755.8" r="0.40" fill="#7a6ab0" opacity="0.9"/>
<circle cx="121.8" cy="774.7" r="0.44" fill="#6a6078" opacity="0.9"/>
<circle cx="125.6" cy="751.5" r="0.42" fill="#6a5aa8" opacity="0.9"/>
<circle cx="116.7" cy="796.8" r="0.43" fill="#6a5aa8" opacity="0.9"/>
<circle cx="143.2" cy="761.0" r="0.43" fill="#7a6ab0" opacity="0.9"/>
<circle cx="80.0" cy="754.1" r="0.42" fill="#6a6078" opacity="0.9"/>
<circle cx="78.8" cy="840.6" r="0.42" fill="#5a4c98" opacity="0.9"/>
<circle cx="91.3" cy="777.3" r="1.04" fill="#7a6ab0" opacity="0.9"/>
<circle cx="92.4" cy="841.9" r="0.51" fill="#8070b8" opacity="0.9"/>
<circle cx="118.9" cy="804.6" r="1.08" fill="#6a5aa8" opacity="0.9"/>
<circle cx="105.7" cy="742.6" r="0.93" fill="#6a5aa8" opacity="0.9"/>
<circle cx="112.6" cy="844.9" r="0.44" fill="#6a6078" opacity="0.9"/>
<circle cx="57.8" cy="821.4" r="0.46" fill="#6a5aa8" opacity="0.9"/>
<circle cx="68.1" cy="778.3" r="0.82" fill="#5a5070" opacity="0.9"/>
<circle cx="128.7" cy="773.6" r="0.40" fill="#6a6078" opacity="0.9"/>
<circle cx="116.3" cy="743.9" r="0.41" fill="#6a5aa8" opacity="0.9"/>
<circle cx="76.4" cy="817.1" r="0.48" fill="#8070b8" opacity="0.9"/>
<circle cx="99.9" cy="853.7" r="0.40" fill="#5a5070" opacity="0.9"/>
<circle cx="83.8" cy="807.6" r="0.46" fill="#7a6ab0" opacity="0.9"/>
<circle cx="112.5" cy="766.0" r="0.77" fill="#6a5aa8" opacity="0.9"/>
<circle cx="92.6" cy="826.2" r="1.05" fill="#6a6078" opacity="0.9"/>
<circle cx="82.0" cy="849.8" r="0.50" fill="#4a4088" opacity="0.9"/>
<circle cx="58.9" cy="764.1" r="0.49" fill="#4a4088" opacity="0.9"/>
<circle cx="84.5" cy="747.1" r="0.45" fill="#6a5aa8" opacity="0.9"/>
<circle cx="69.1" cy="794.8" r="0.88" fill="#6a5aa8" opacity="0.9"/>
<circle cx="133.3" cy="817.6" r="0.60" fill="#6a5aa8" opacity="0.9"/>
<circle cx="139.3" cy="784.3" r="0.45" fill="#5a5070" opacity="0.9"/>
<circle cx="102.1" cy="853.9" r="0.54" fill="#4a4088" opacity="0.9"/>
<circle cx="82.5" cy="791.8" r="0.48" fill="#5a5070" opacity="0.9"/>
<circle cx="121.8" cy="804.5" r="0.46" fill="#4a4088" opacity="0.9"/>
<circle cx="83.9" cy="781.5" r="0.57" fill="#6a5aa8" opacity="0.9"/>
<circle cx="49.9" cy="784.3" r="0.69" fill="#5a4c98" opacity="0.9"/>
<circle cx="54.3" cy="781.2" r="1.02" fill="#7a6ab0" opacity="0.9"/>
<circle cx="143.4" cy="781.1" r="0.65" fill="#4a4088" opacity="0.9"/>
<circle cx="136.0" cy="824.8" r="1.00" fill="#5a5070" opacity="0.9"/>
<circle cx="109.2" cy="768.9" r="0.88" fill="#7a6ab0" opacity="0.9"/>
<circle cx="136.1" cy="846.3" r="0.94" fill="#4a4088" opacity="0.9"/>
<circle cx="136.1" cy="775.1" r="0.49" fill="#5a5070" opacity="0.9"/>
<circle cx="102.1" cy="851.7" r="0.79" fill="#4a4088" opacity="0.9"/>
<circle cx="114.8" cy="774.0" r="0.49" fill="#6a6078" opacity="0.9"/>
<circle cx="70.2" cy="837.2" r="0.43" fill="#4a4088" opacity="0.9"/>
<circle cx="108.2" cy="808.9" r="0.81" fill="#5a4c98" opacity="0.9"/>
<circle cx="70.7" cy="773.6" r="0.40" fill="#8070b8" opacity="0.9"/>
<circle cx="142.5" cy="815.0" r="0.88" fill="#7a6ab0" opacity="0.9"/>
<circle cx="64.1" cy="823.7" r="0.87" fill="#6a6078" opacity="0.9"/>
<circle cx="116.5" cy="798.2" r="0.75" fill="#6a6078" opacity="0.9"/>
<circle cx="77.8" cy="752.2" r="0.43" fill="#6a5aa8" opacity="0.9"/>
<circle cx="123.2" cy="849.6" r="1.08" fill="#5a4c98" opacity="0.9"/>
<circle cx="72.1" cy="808.4" r="0.50" fill="#5a4c98" opacity="0.9"/>
<circle cx="111.5" cy="802.5" r="0.85" fill="#4a4088" opacity="0.9"/>
<circle cx="131.7" cy="751.5" r="0.53" fill="#5a4c98" opacity="0.9"/>
<circle cx="103.8" cy="831.4" r="0.46" fill="#5a5070" opacity="0.9"/>
<circle cx="95.7" cy="745.4" r="0.67" fill="#6a6078" opacity="0.9"/>
<circle cx="118.4" cy="809.5" r="0.70" fill="#8070b8" opacity="0.9"/>
<circle cx="128.4" cy="750.6" r="0.50" fill="#7a6ab0" opacity="0.9"/>
<circle cx="126.1" cy="826.0" r="0.41" fill="#6a6078" opacity="0.9"/>
<circle cx="98.0" cy="804.6" r="0.87" fill="#6a6078" opacity="0.9"/>
<circle cx="74.0" cy="831.2" r="0.41" fill="#4a4088" opacity="0.9"/>
<circle cx="136.5" cy="815.0" r="0.40" fill="#5a5070" opacity="0.9"/>
<circle cx="71.3" cy="777.3" r="0.75" fill="#5a5070" opacity="0.9"/>
<circle cx="46.9" cy="802.9" r="0.40" fill="#4a4088" opacity="0.9"/>
<circle cx="131.1" cy="841.6" r="0.40" fill="#6a6078" opacity="0.9"/>
<circle cx="94.9" cy="742.6" r="0.40" fill="#5a5070" opacity="0.9"/>
<circle cx="70.9" cy="839.6" r="0.41" fill="#8070b8" opacity="0.9"/>
<circle cx="58.3" cy="795.9" r="0.44" fill="#8070b8" opacity="0.9"/>
<circle cx="155.3" cy="816.7" r="0.40" fill="#7a6ab0" opacity="0.9"/>
<circle cx="125.6" cy="836.9" r="0.99" fill="#5a5070" opacity="0.9"/>
<circle cx="108.9" cy="811.9" r="0.42" fill="#5a4c98" opacity="0.9"/>
<circle cx="134.9" cy="765.1" r="0.44" fill="#4a4088" opacity="0.9"/>
<circle cx="105.5" cy="740.0" r="0.57" fill="#8070b8" opacity="0.9"/>
<circle cx="135.0" cy="760.5" r="0.91" fill="#6a6078" opacity="0.9"/>
<circle cx="112.0" cy="842.4" r="0.69" fill="#5a5070" opacity="0.9"/>
<circle cx="141.4" cy="795.8" r="0.98" fill="#4a4088" opacity="0.9"/>
<circle cx="50.9" cy="780.3" r="0.78" fill="#7a6ab0" opacity="0.9"/>
<circle cx="119.7" cy="852.1" r="0.41" fill="#5a5070" opacity="0.9"/>
<circle cx="133.6" cy="808.8" r="0.49" fill="#6a6078" opacity="0.9"/>
<circle cx="158.3" cy="788.3" r="0.64" fill="#5a4c98" opacity="0.9"/>
<circle cx="98.9" cy="773.5" r="1.05" fill="#7a6ab0" opacity="0.9"/>
<circle cx="121.5" cy="818.2" r="0.60" fill="#6a5aa8" opacity="0.9"/>
<circle cx="107.2" cy="854.0" r="0.78" fill="#5a5070" opacity="0.9"/>
<circle cx="65.5" cy="838.8" r="0.48" fill="#5a4c98" opacity="0.9"/>
<circle cx="121.5" cy="827.3" r="0.48" fill="#6a6078" opacity="0.9"/>
<circle cx="124.7" cy="834.4" r="0.97" fill="#6a6078" opacity="0.9"/>
<circle cx="77.2" cy="798.8" r="0.56" fill="#7a6ab0" opacity="0.9"/>
<circle cx="145.3" cy="793.8" r="0.62" fill="#6a5aa8" opacity="0.9"/>
<circle cx="110.5" cy="776.0" r="0.76" fill="#6a5aa8" opacity="0.9"/>
<circle cx="55.2" cy="794.3" r="0.74" fill="#8070b8" opacity="0.9"/>
<circle cx="137.7" cy="752.0" r="0.41" fill="#5a4c98" opacity="0.9"/>
<circle cx="64.8" cy="789.5" r="0.69" fill="#6a5aa8" opacity="0.9"/>
<circle cx="75.5" cy="756.9" r="0.42" fill="#6a5aa8" opacity="0.9"/>
<circle cx="51.5" cy="814.8" r="0.47" fill="#8070b8" opacity="0.9"/>
<circle cx="71.4" cy="753.7" r="0.41" fill="#8070b8" opacity="0.9"/>
<circle cx="63.1" cy="830.5" r="0.58" fill="#8070b8" opacity="0.9"/>
<circle cx="93.3" cy="850.0" r="0.65" fill="#6a5aa8" opacity="0.9"/>
<circle cx="100.2" cy="750.1" r="0.49" fill="#6a5aa8" opacity="0.9"/>
<circle cx="106.7" cy="786.2" r="0.85" fill="#7a6ab0" opacity="0.9"/>
<circle cx="97.9" cy="771.5" r="0.47" fill="#5a5070" opacity="0.9"/>
<circle cx="116.9" cy="842.8" r="0.45" fill="#6a6078" opacity="0.9"/>
<circle cx="51.5" cy="776.3" r="0.43" fill="#5a5070" opacity="0.9"/>
<circle cx="58.4" cy="828.0" r="0.84" fill="#6a6078" opacity="0.9"/>
<circle cx="130.2" cy="807.6" r="0.76" fill="#5a4c98" opacity="0.9"/>
<circle cx="60.3" cy="801.7" r="0.48" fill="#6a6078" opacity="0.9"/>
<circle cx="83.3" cy="749.3" r="0.46" fill="#8070b8" opacity="0.9"/>
<circle cx="75.6" cy="787.3" r="0.49" fill="#5a4c98" opacity="0.9"/>
<circle cx="155.0" cy="776.3" r="0.88" fill="#5a4c98" opacity="0.9"/>
<circle cx="50.4" cy="807.1" r="0.51" fill="#8070b8" opacity="0.9"/>
<circle cx="146.3" cy="838.5" r="0.42" fill="#4a4088" opacity="0.9"/>
<circle cx="63.9" cy="783.3" r="0.89" fill="#8070b8" opacity="0.9"/>
<circle cx="101.2" cy="789.0" r="0.58" fill="#7a6ab0" opacity="0.9"/>
<circle cx="68.6" cy="842.1" r="0.96" fill="#8070b8" opacity="0.9"/>
<circle cx="86.4" cy="835.6" r="0.40" fill="#5a5070" opacity="0.9"/>
<circle cx="51.7" cy="779.3" r="0.52" fill="#4a4088" opacity="0.9"/>
<circle cx="80.8" cy="754.5" r="0.52" fill="#5a4c98" opacity="0.9"/>
<circle cx="88.8" cy="812.4" r="0.41" fill="#6a6078" opacity="0.9"/>
<circle cx="142.9" cy="801.4" r="0.43" fill="#4a4088" opacity="0.9"/>
<circle cx="113.8" cy="780.0" r="0.40" fill="#5a5070" opacity="0.9"/>
<circle cx="140.4" cy="827.1" r="0.42" fill="#8070b8" opacity="0.9"/>
<circle cx="89.4" cy="810.1" r="0.60" fill="#5a4c98" opacity="0.9"/>
<circle cx="69.2" cy="778.7" r="0.48" fill="#5a5070" opacity="0.9"/>
<circle cx="74.8" cy="781.9" r="0.46" fill="#7a6ab0" opacity="0.9"/>
<circle cx="83.7" cy="776.6" r="0.51" fill="#4a4088" opacity="0.9"/>
<circle cx="90.5" cy="805.7" r="0.95" fill="#4a4088" opacity="0.9"/>
<circle cx="92.5" cy="758.7" r="0.91" fill="#5a4c98" opacity="0.9"/>
<circle cx="59.0" cy="806.7" r="0.40" fill="#6a5aa8" opacity="0.9"/>
<circle cx="82.6" cy="779.3" r="0.49" fill="#7a6ab0" opacity="0.9"/>
<circle cx="127.1" cy="850.1" r="0.41" fill="#8070b8" opacity="0.9"/>
<circle cx="90.4" cy="766.6" r="0.45" fill="#7a6ab0" opacity="0.9"/>
<circle cx="69.0" cy="842.6" r="0.40" fill="#6a6078" opacity="0.9"/>
<circle cx="89.8" cy="844.0" r="0.41" fill="#5a4c98" opacity="0.9"/>
<circle cx="103.1" cy="799.8" r="0.47" fill="#5a4c98" opacity="0.9"/>
<circle cx="78.4" cy="840.1" r="0.80" fill="#4a4088" opacity="0.9"/>
<circle cx="111.2" cy="819.9" r="0.42" fill="#6a5aa8" opacity="0.9"/>
<circle cx="105.4" cy="830.6" r="0.70" fill="#5a5070" opacity="0.9"/>
<circle cx="50.5" cy="813.9" r="0.75" fill="#7a6ab0" opacity="0.9"/>
<circle cx="90.7" cy="803.0" r="0.45" fill="#5a5070" opacity="0.9"/>
<circle cx="132.7" cy="749.3" r="0.84" fill="#5a4c98" opacity="0.9"/>
<circle cx="96.7" cy="771.0" r="0.40" fill="#8070b8" opacity="0.9"/>
<circle cx="145.6" cy="758.2" r="0.42" fill="#5a5070" opacity="0.9"/>
<circle cx="88.5" cy="846.9" r="0.41" fill="#6a5aa8" opacity="0.9"/>
<circle cx="90.0" cy="811.7" r="0.89" fill="#6a5aa8" opacity="0.9"/>
<circle cx="94.3" cy="747.5" r="0.74" fill="#7a6ab0" opacity="0.9"/>
<circle cx="138.0" cy="810.6" r="0.42" fill="#8070b8" opacity="0.9"/>
<circle cx="54.7" cy="806.7" r="0.51" fill="#8070b8" opacity="0.9"/>
<circle cx="83.1" cy="764.6" r="0.60" fill="#6a6078" opacity="0.9"/>
<circle cx="137.8" cy="762.3" r="0.40" fill="#5a5070" opacity="0.9"/>
<circle cx="68.7" cy="812.5" r="0.41" fill="#8070b8" opacity="0.9"/>
<circle cx="48.2" cy="800.8" r="0.41" fill="#8070b8" opacity="0.9"/>
<circle cx="66.5" cy="760.9" r="0.41" fill="#6a6078" opacity="0.9"/>
<circle cx="115.5" cy="789.6" r="0.41" fill="#6a6078" opacity="0.9"/>
<circle cx="114.6" cy="812.3" r="0.64" fill="#5a5070" opacity="0.9"/>
<circle cx="94.0" cy="793.6" r="0.59" fill="#8070b8" opacity="0.9"/>
<circle cx="102.4" cy="765.1" r="0.73" fill="#6a5aa8" opacity="0.9"/>
<circle cx="76.6" cy="751.0" r="0.86" fill="#5a5070" opacity="0.9"/>
<circle cx="132.2" cy="793.5" r="0.70" fill="#6a6078" opacity="0.9"/>
<circle cx="98.2" cy="805.1" r="0.72" fill="#6a6078" opacity="0.9"/>
<circle cx="139.6" cy="762.5" r="0.42" fill="#7a6ab0" opacity="0.9"/>
<circle cx="138.4" cy="796.5" r="0.41" fill="#6a6078" opacity="0.9"/>
<circle cx="53.0" cy="810.6" r="1.06" fill="#6a5aa8" opacity="0.9"/>
<circle cx="99.5" cy="746.4" r="0.51" fill="#7a6ab0" opacity="0.9"/>
<circle cx="89.2" cy="763.4" r="0.46" fill="#6a6078" opacity="0.9"/>
<circle cx="92.6" cy="778.3" r="0.48" fill="#6a5aa8" opacity="0.9"/>
<circle cx="112.4" cy="852.6" r="0.40" fill="#8070b8" opacity="0.9"/>
<circle cx="141.6" cy="841.3" r="0.49" fill="#6a6078" opacity="0.9"/>
<circle cx="85.0" cy="839.9" r="1.01" fill="#4a4088" opacity="0.9"/>
<circle cx="122.5" cy="764.0" r="0.44" fill="#8070b8" opacity="0.9"/>
<circle cx="110.3" cy="798.9" r="0.45" fill="#5a5070" opacity="0.9"/>
<circle cx="130.9" cy="774.6" r="0.63" fill="#7a6ab0" opacity="0.9"/>
<circle cx="115.5" cy="849.8" r="0.59" fill="#8070b8" opacity="0.9"/>
<circle cx="123.5" cy="746.7" r="0.45" fill="#8070b8" opacity="0.9"/>
<circle cx="76.1" cy="793.1" r="0.68" fill="#6a5aa8" opacity="0.9"/>
<circle cx="73.0" cy="840.8" r="0.98" fill="#5a4c98" opacity="0.9"/>
<circle cx="128.6" cy="744.7" r="1.06" fill="#6a6078" opacity="0.9"/>
<circle cx="91.0" cy="785.9" r="0.69" fill="#6a6078" opacity="0.9"/>
<circle cx="74.9" cy="750.0" r="0.80" fill="#4a4088" opacity="0.9"/>
<circle cx="85.4" cy="844.6" r="0.56" fill="#5a5070" opacity="0.9"/>
<circle cx="69.6" cy="837.5" r="0.60" fill="#7a6ab0" opacity="0.9"/>
<circle cx="128.7" cy="822.4" r="1.05" fill="#7a6ab0" opacity="0.9"/>
<circle cx="118.0" cy="848.9" r="0.85" fill="#5a5070" opacity="0.9"/>
<circle cx="60.1" cy="813.1" r="0.96" fill="#6a6078" opacity="0.9"/>
<circle cx="130.6" cy="749.8" r="0.40" fill="#8070b8" opacity="0.9"/>
<circle cx="119.9" cy="848.1" r="1.06" fill="#7a6ab0" opacity="0.9"/>
<circle cx="94.6" cy="749.7" r="0.82" fill="#4a4088" opacity="0.9"/>
<circle cx="82.1" cy="760.3" r="0.75" fill="#5a4c98" opacity="0.9"/>
<circle cx="57.9" cy="787.5" r="0.40" fill="#7a6ab0" opacity="0.9"/>
<circle cx="65.3" cy="763.8" r="0.62" fill="#8070b8" opacity="0.9"/>
<circle cx="90.1" cy="784.6" r="0.91" fill="#6a5aa8" opacity="0.9"/>
<circle cx="70.3" cy="810.6" r="0.43" fill="#6a5aa8" opacity="0.9"/>
<circle cx="147.6" cy="803.7" r="0.43" fill="#5a5070" opacity="0.9"/>
<circle cx="57.8" cy="823.5" r="0.43" fill="#8070b8" opacity="0.9"/>
<circle cx="72.3" cy="805.1" r="0.42" fill="#8070b8" opacity="0.9"/>
<circle cx="79.8" cy="745.7" r="0.57" fill="#6a6078" opacity="0.9"/>
<circle cx="132.5" cy="825.5" r="0.53" fill="#5a4c98" opacity="0.9"/>
<circle cx="64.6" cy="831.9" r="0.40" fill="#8070b8" opacity="0.9"/>
<circle cx="94.2" cy="748.6" r="0.41" fill="#5a5070" opacity="0.9"/>
<circle cx="108.8" cy="773.5" r="0.43" fill="#7a6ab0" opacity="0.9"/>
<circle cx="85.2" cy="766.4" r="0.42" fill="#8070b8" opacity="0.9"/>
<circle cx="47.5" cy="800.1" r="0.42" fill="#5a4c98" opacity="0.9"/>
<circle cx="77.1" cy="839.2" r="0.45" fill="#5a5070" opacity="0.9"/>
<circle cx="92.6" cy="829.3" r="0.91" fill="#6a5aa8" opacity="0.9"/>
<circle cx="102.9" cy="765.5" r="0.43" fill="#4a4088" opacity="0.9"/>
<circle cx="97.4" cy="826.0" r="0.62" fill="#5a5070" opacity="0.9"/>
<circle cx="99.9" cy="792.2" r="0.44" fill="#6a5aa8" opacity="0.9"/>
<circle cx="83.9" cy="757.5" r="0.96" fill="#5a5070" opacity="0.9"/>
<circle cx="73.8" cy="815.7" r="0.46" fill="#6a6078" opacity="0.9"/>
<circle cx="88.4" cy="836.0" r="0.41" fill="#6a5aa8" opacity="0.9"/>
<circle cx="83.8" cy="748.6" r="0.84" fill="#6a5aa8" opacity="0.9"/>
<circle cx="106.1" cy="744.9" r="0.45" fill="#7a6ab0" opacity="0.9"/>
<circle cx="122.9" cy="824.1" r="0.97" fill="#5a5070" opacity="0.9"/>
<circle cx="60.9" cy="831.3" r="0.43" fill="#4a4088" opacity="0.9"/>
<circle cx="134.0" cy="809.3" r="0.93" fill="#5a5070" opacity="0.9"/>
<circle cx="138.7" cy="810.4" r="0.52" fill="#6a6078" opacity="0.9"/>
<circle cx="72.5" cy="773.0" r="0.73" fill="#5a5070" opacity="0.9"/>
<circle cx="82.1" cy="748.4" r="1.06" fill="#6a6078" opacity="0.9"/>
<circle cx="97.9" cy="760.7" r="0.45" fill="#8070b8" opacity="0.9"/>
<circle cx="139.0" cy="773.2" r="0.64" fill="#5a5070" opacity="0.9"/>
<circle cx="148.5" cy="832.2" r="0.69" fill="#8070b8" opacity="0.9"/>
<circle cx="120.9" cy="845.6" r="0.95" fill="#7a6ab0" opacity="0.9"/>
<circle cx="124.0" cy="818.1" r="0.61" fill="#5a4c98" opacity="0.9"/>
<circle cx="103.0" cy="824.5" r="0.45" fill="#5a4c98" opacity="0.9"/>
<circle cx="115.8" cy="780.7" r="0.43" fill="#8070b8" opacity="0.9"/>
<circle cx="149.0" cy="799.1" r="0.41" fill="#4a4088" opacity="0.9"/>
<circle cx="105.3" cy="800.7" r="0.76" fill="#6a5aa8" opacity="0.9"/>
<circle cx="133.2" cy="833.7" r="0.47" fill="#5a4c98" opacity="0.9"/>
<circle cx="93.6" cy="762.3" r="0.46" fill="#6a5aa8" opacity="0.9"/>
<circle cx="122.5" cy="830.4" r="0.58" fill="#7a6ab0" opacity="0.9"/>
<circle cx="138.2" cy="773.7" r="1.01" fill="#5a4c98" opacity="0.9"/>
<circle cx="60.4" cy="825.3" r="0.82" fill="#7a6ab0" opacity="0.9"/>
<circle cx="60.1" cy="769.1" r="0.40" fill="#8070b8" opacity="0.9"/>
<circle cx="119.4" cy="758.7" r="0.41" fill="#5a5070" opacity="0.9"/>
<circle cx="133.6" cy="821.6" r="0.40" fill="#4a4088" opacity="0.9"/>
<circle cx="145.0" cy="758.6" r="1.10" fill="#7a6ab0" opacity="0.9"/>
<circle cx="69.5" cy="761.9" r="0.49" fill="#7a6ab0" opacity="0.9"/>
<circle cx="124.3" cy="850.6" r="0.42" fill="#6a6078" opacity="0.9"/>
<circle cx="127.7" cy="750.2" r="0.41" fill="#5a4c98" opacity="0.9"/>
<circle cx="60.8" cy="769.1" r="0.40" fill="#5a5070" opacity="0.9"/>
<circle cx="66.8" cy="838.9" r="0.40" fill="#8070b8" opacity="0.9"/>
<circle cx="134.0" cy="808.2" r="0.62" fill="#8070b8" opacity="0.9"/>
<circle cx="108.2" cy="801.5" r="0.61" fill="#4a4088" opacity="0.9"/>
<circle cx="69.0" cy="778.1" r="0.49" fill="#8070b8" opacity="0.9"/>
<circle cx="102.3" cy="801.6" r="0.46" fill="#6a5aa8" opacity="0.9"/>
<circle cx="74.1" cy="789.0" r="0.46" fill="#5a5070" opacity="0.9"/>
<circle cx="47.9" cy="803.1" r="0.53" fill="#8070b8" opacity="0.9"/>
<circle cx="116.9" cy="841.3" r="0.45" fill="#6a5aa8" opacity="0.9"/>
<circle cx="48.2" cy="807.6" r="0.71" fill="#7a6ab0" opacity="0.9"/>
<circle cx="150.8" cy="830.4" r="0.79" fill="#5a5070" opacity="0.9"/>
<circle cx="68.0" cy="769.6" r="0.40" fill="#6a6078" opacity="0.9"/>
<circle cx="108.2" cy="850.9" r="0.44" fill="#6a6078" opacity="0.9"/>
<circle cx="61.3" cy="810.6" r="0.40" fill="#7a6ab0" opacity="0.9"/>
<circle cx="67.5" cy="828.8" r="0.81" fill="#4a4088" opacity="0.9"/>
<circle cx="113.6" cy="818.5" r="0.45" fill="#5a5070" opacity="0.9"/>
<circle cx="91.4" cy="766.9" r="0.89" fill="#6a5aa8" opacity="0.9"/>
<circle cx="55.5" cy="803.7" r="0.77" fill="#6a6078" opacity="0.9"/>
<circle cx="97.3" cy="758.6" r="0.40" fill="#5a4c98" opacity="0.9"/>
<circle cx="55.9" cy="799.7" r="0.40" fill="#8070b8" opacity="0.9"/>
<circle cx="94.8" cy="755.1" r="0.40" fill="#7a6ab0" opacity="0.9"/>
<circle cx="129.2" cy="796.1" r="0.41" fill="#4a4088" opacity="0.9"/>
<circle cx="108.5" cy="743.6" r="0.41" fill="#8070b8" opacity="0.9"/>
<circle cx="121.3" cy="840.1" r="0.40" fill="#7a6ab0" opacity="0.9"/>
<circle cx="112.3" cy="741.1" r="0.93" fill="#6a5aa8" opacity="0.9"/>
<circle cx="47.2" cy="797.5" r="0.95" fill="#5a5070" opacity="0.9"/>
<circle cx="92.7" cy="814.4" r="0.55" fill="#8070b8" opacity="0.9"/>
<circle cx="143.0" cy="839.0" r="0.41" fill="#8070b8" opacity="0.9"/>
<circle cx="92.5" cy="852.6" r="0.41" fill="#7a6ab0" opacity="0.9"/>
<circle cx="50.3" cy="814.7" r="0.95" fill="#4a4088" opacity="0.9"/>
<circle cx="53.8" cy="783.9" r="0.72" fill="#4a4088" opacity="0.9"/>
<circle cx="108.5" cy="748.0" r="0.48" fill="#5a5070" opacity="0.9"/>
<circle cx="90.8" cy="849.2" r="0.65" fill="#4a4088" opacity="0.9"/>
<circle cx="91.2" cy="789.2" r="0.40" fill="#8070b8" opacity="0.9"/>
<circle cx="122.9" cy="828.6" r="0.50" fill="#7a6ab0" opacity="0.9"/>
<circle cx="48.8" cy="791.8" r="0.86" fill="#4a4088" opacity="0.9"/>
<circle cx="101.9" cy="810.7" r="0.57" fill="#4a4088" opacity="0.9"/>
<circle cx="64.7" cy="836.9" r="0.77" fill="#4a4088" opacity="0.9"/>
<circle cx="66.7" cy="786.2" r="0.77" fill="#4a4088" opacity="0.9"/>
<circle cx="97.4" cy="753.0" r="0.79" fill="#7a6ab0" opacity="0.9"/>
<circle cx="72.2" cy="752.0" r="0.81" fill="#8070b8" opacity="0.9"/>
<circle cx="101.3" cy="841.1" r="0.68" fill="#5a5070" opacity="0.9"/>
<circle cx="110.4" cy="776.2" r="0.48" fill="#5a5070" opacity="0.9"/>
<circle cx="97.8" cy="741.5" r="0.40" fill="#5a4c98" opacity="0.9"/>
<circle cx="139.0" cy="836.7" r="0.55" fill="#6a6078" opacity="0.9"/>
<circle cx="100.0" cy="853.1" r="1.02" fill="#5a5070" opacity="0.9"/>
<circle cx="127.6" cy="808.4" r="0.46" fill="#8070b8" opacity="0.9"/>
<circle cx="57.5" cy="765.7" r="0.43" fill="#4a4088" opacity="0.9"/>
<circle cx="92.1" cy="744.6" r="0.48" fill="#5a5070" opacity="0.9"/>
<circle cx="89.7" cy="753.5" r="0.57" fill="#8070b8" opacity="0.9"/>
<circle cx="70.0" cy="798.6" r="0.53" fill="#5a4c98" opacity="0.9"/>
<circle cx="147.8" cy="828.4" r="0.40" fill="#8070b8" opacity="0.9"/>
<circle cx="93.5" cy="781.2" r="0.41" fill="#8070b8" opacity="0.9"/>
<circle cx="106.0" cy="807.7" r="1.06" fill="#4a4088" opacity="0.9"/>
<circle cx="113.6" cy="754.4" r="0.80" fill="#7a6ab0" opacity="0.9"/>
<circle cx="129.3" cy="817.6" r="0.43" fill="#5a5070" opacity="0.9"/>
<circle cx="108.6" cy="758.8" r="0.50" fill="#8070b8" opacity="0.9"/>
<circle cx="108.8" cy="840.9" r="0.82" fill="#8070b8" opacity="0.9"/>
<circle cx="95.0" cy="759.2" r="0.40" fill="#6a5aa8" opacity="0.9"/>
<circle cx="67.3" cy="841.1" r="0.86" fill="#5a4c98" opacity="0.9"/>
<circle cx="60.4" cy="801.7" r="0.98" fill="#8070b8" opacity="0.9"/>
<circle cx="120.8" cy="747.4" r="0.42" fill="#8070b8" opacity="0.9"/>
<circle cx="125.1" cy="838.3" r="0.41" fill="#7a6ab0" opacity="0.9"/>
<circle cx="54.6" cy="821.4" r="0.50" fill="#7a6ab0" opacity="0.9"/>
<circle cx="54.8" cy="807.0" r="0.65" fill="#7a6ab0" opacity="0.9"/>
<circle cx="102.4" cy="775.5" r="0.85" fill="#7a6ab0" opacity="0.9"/>
<circle cx="78.3" cy="780.3" r="0.96" fill="#5a5070" opacity="0.9"/>
<circle cx="54.6" cy="781.4" r="0.51" fill="#6a5aa8" opacity="0.9"/>
<circle cx="89.2" cy="840.5" r="0.71" fill="#5a5070" opacity="0.9"/>
<circle cx="108.6" cy="838.2" r="1.09" fill="#6a5aa8" opacity="0.9"/>
<circle cx="52.5" cy="810.5" r="0.40" fill="#6a5aa8" opacity="0.9"/>
<circle cx="105.5" cy="850.0" r="0.70" fill="#6a5aa8" opacity="0.9"/>
<circle cx="57.7" cy="764.6" r="0.42" fill="#6a5aa8" opacity="0.9"/>
<circle cx="110.2" cy="771.5" r="0.43" fill="#5a4c98" opacity="0.9"/>
<circle cx="102.4" cy="768.5" r="0.41" fill="#4a4088" opacity="0.9"/>
<circle cx="87.7" cy="743.5" r="0.68" fill="#6a5aa8" opacity="0.9"/>
<circle cx="109.9" cy="776.8" r="0.40" fill="#6a6078" opacity="0.9"/>
<circle cx="96.7" cy="806.0" r="0.80" fill="#8070b8" opacity="0.9"/>
<circle cx="121.2" cy="766.5" r="0.75" fill="#6a6078" opacity="0.9"/>
<circle cx="51.5" cy="774.5" r="0.68" fill="#5a5070" opacity="0.9"/>
<circle cx="81.0" cy="843.3" r="0.71" fill="#5a4c98" opacity="0.9"/>
<circle cx="138.7" cy="792.8" r="0.50" fill="#5a5070" opacity="0.9"/>
<circle cx="87.3" cy="744.0" r="0.42" fill="#6a6078" opacity="0.9"/>
<circle cx="108.7" cy="762.9" r="0.40" fill="#5a4c98" opacity="0.9"/>
<circle cx="130.3" cy="796.8" r="0.42" fill="#6a6078" opacity="0.9"/>
<circle cx="122.5" cy="845.2" r="0.53" fill="#4a4088" opacity="0.9"/>
<circle cx="74.8" cy="756.6" r="0.75" fill="#6a6078" opacity="0.9"/>
<circle cx="89.5" cy="819.6" r="0.52" fill="#5a4c98" opacity="0.9"/>
<circle cx="119.3" cy="849.6" r="1.09" fill="#4a4088" opacity="0.9"/>
<circle cx="75.9" cy="845.4" r="0.40" fill="#6a6078" opacity="0.9"/>
<circle cx="47.1" cy="790.4" r="0.48" fill="#6a5aa8" opacity="0.9"/>
<circle cx="122.6" cy="770.9" r="0.87" fill="#8070b8" opacity="0.9"/>
<circle cx="137.6" cy="760.5" r="0.84" fill="#5a5070" opacity="0.9"/>
<circle cx="97.8" cy="749.1" r="0.57" fill="#5a5070" opacity="0.9"/>
<circle cx="132.1" cy="846.1" r="1.00" fill="#5a5070" opacity="0.9"/>
<circle cx="73.9" cy="840.5" r="0.43" fill="#8070b8" opacity="0.9"/>
<circle cx="73.0" cy="795.7" r="0.42" fill="#4a4088" opacity="0.9"/>
<circle cx="133.7" cy="775.9" r="0.41" fill="#6a6078" opacity="0.9"/>
<circle cx="87.7" cy="846.8" r="0.97" fill="#5a4c98" opacity="0.9"/>
<circle cx="122.7" cy="806.8" r="0.41" fill="#5a5070" opacity="0.9"/>
<circle cx="90.5" cy="779.3" r="0.55" fill="#6a6078" opacity="0.9"/>
<circle cx="98.8" cy="836.1" r="1.06" fill="#7a6ab0" opacity="0.9"/>
<circle cx="134.5" cy="755.3" r="0.45" fill="#8070b8" opacity="0.9"/>
<circle cx="110.4" cy="854.9" r="0.65" fill="#7a6ab0" opacity="0.9"/>
<circle cx="69.6" cy="770.9" r="0.59" fill="#6a5aa8" opacity="0.9"/>
<circle cx="121.9" cy="801.6" r="0.60" fill="#7a6ab0" opacity="0.9"/>
<circle cx="148.5" cy="796.1" r="0.40" fill="#5a5070" opacity="0.9"/>
<circle cx="103.8" cy="743.0" r="0.42" fill="#5a5070" opacity="0.9"/>
<circle cx="120.6" cy="833.8" r="0.48" fill="#8070b8" opacity="0.9"/>
<circle cx="75.3" cy="839.1" r="0.69" fill="#6a5aa8" opacity="0.9"/>
<circle cx="76.9" cy="839.3" r="0.47" fill="#7a6ab0" opacity="0.9"/>
<circle cx="92.6" cy="773.7" r="0.69" fill="#8070b8" opacity="0.9"/>
<circle cx="110.0" cy="852.5" r="0.47" fill="#4a4088" opacity="0.9"/>
<circle cx="132.0" cy="765.6" r="0.41" fill="#6a6078" opacity="0.9"/>
<circle cx="134.8" cy="766.5" r="0.47" fill="#6a5aa8" opacity="0.9"/>
<circle cx="59.5" cy="788.3" r="0.59" fill="#5a5070" opacity="0.9"/>
<circle cx="108.4" cy="849.6" r="1.03" fill="#7a6ab0" opacity="0.9"/>
<circle cx="133.5" cy="768.6" r="0.56" fill="#4a4088" opacity="0.9"/>
<circle cx="105.7" cy="839.9" r="0.60" fill="#8070b8" opacity="0.9"/>
<circle cx="55.8" cy="770.7" r="0.43" fill="#7a6ab0" opacity="0.9"/>
<circle cx="133.3" cy="777.6" r="0.43" fill="#8070b8" opacity="0.9"/>
<circle cx="93.5" cy="748.5" r="1.05" fill="#7a6ab0" opacity="0.9"/>
<circle cx="112.4" cy="805.5" r="0.95" fill="#7a6ab0" opacity="0.9"/>
<circle cx="78.4" cy="830.4" r="0.95" fill="#7a6ab0" opacity="0.9"/>
<circle cx="153.7" cy="815.1" r="0.53" fill="#6a5aa8" opacity="0.9"/>
<circle cx="59.1" cy="794.9" r="0.55" fill="#4a4088" opacity="0.9"/>
<circle cx="140.8" cy="826.9" r="1.07" fill="#5a4c98" opacity="0.9"/>
<circle cx="113.3" cy="788.4" r="0.40" fill="#6a5aa8" opacity="0.9"/>
<circle cx="97.8" cy="775.9" r="0.43" fill="#6a5aa8" opacity="0.9"/>
<circle cx="84.2" cy="783.2" r="0.40" fill="#5a4c98" opacity="0.9"/>
<circle cx="77.6" cy="780.7" r="0.51" fill="#7a6ab0" opacity="0.9"/>
<circle cx="126.7" cy="791.7" r="0.40" fill="#4a4088" opacity="0.9"/>
<circle cx="119.4" cy="780.3" r="0.61" fill="#5a4c98" opacity="0.9"/>
<circle cx="67.0" cy="790.5" r="0.46" fill="#8070b8" opacity="0.9"/>
<circle cx="52.0" cy="818.3" r="0.89" fill="#4a4088" opacity="0.9"/>
<circle cx="111.7" cy="825.0" r="0.52" fill="#5a4c98" opacity="0.9"/>
<circle cx="147.5" cy="779.2" r="0.41" fill="#7a6ab0" opacity="0.9"/>
<circle cx="121.1" cy="828.1" r="0.41" fill="#6a5aa8" opacity="0.9"/>
<circle cx="103.0" cy="796.6" r="0.76" fill="#5a4c98" opacity="0.9"/>
<circle cx="115.5" cy="832.0" r="1.02" fill="#7a6ab0" opacity="0.9"/>
<circle cx="158.3" cy="807.7" r="1.10" fill="#6a6078" opacity="0.9"/>
<circle cx="55.8" cy="827.2" r="1.01" fill="#5a4c98" opacity="0.9"/>
<circle cx="110.0" cy="787.4" r="0.51" fill="#6a5aa8" opacity="0.9"/>
<circle cx="111.7" cy="792.0" r="0.40" fill="#5a4c98" opacity="0.9"/>
<circle cx="94.2" cy="743.8" r="1.05" fill="#6a5aa8" opacity="0.9"/>
<circle cx="111.9" cy="743.4" r="0.58" fill="#8070b8" opacity="0.9"/>
<circle cx="129.0" cy="829.7" r="0.46" fill="#4a4088" opacity="0.9"/>
<circle cx="99.3" cy="826.2" r="0.75" fill="#4a4088" opacity="0.9"/>
<circle cx="119.4" cy="760.9" r="0.59" fill="#5a4c98" opacity="0.9"/>
<circle cx="68.2" cy="832.5" r="0.53" fill="#4a4088" opacity="0.9"/>
<circle cx="141.6" cy="753.3" r="1.02" fill="#8070b8" opacity="0.9"/>
<circle cx="129.9" cy="836.9" r="0.80" fill="#6a6078" opacity="0.9"/>
<circle cx="58.6" cy="825.4" r="0.45" fill="#6a6078" opacity="0.9"/>
<circle cx="90.1" cy="808.2" r="0.41" fill="#5a5070" opacity="0.9"/>
<circle cx="50.8" cy="808.4" r="0.43" fill="#8070b8" opacity="0.9"/>
<circle cx="95.4" cy="744.3" r="0.49" fill="#7a6ab0" opacity="0.9"/>
<circle cx="121.9" cy="742.2" r="0.44" fill="#6a6078" opacity="0.9"/>
<circle cx="125.0" cy="775.9" r="0.58" fill="#6a6078" opacity="0.9"/>
<circle cx="141.8" cy="770.0" r="0.67" fill="#6a5aa8" opacity="0.9"/>
<circle cx="123.8" cy="822.5" r="0.44" fill="#8070b8" opacity="0.9"/>
<circle cx="90.4" cy="748.0" r="0.55" fill="#5a5070" opacity="0.9"/>
<circle cx="84.6" cy="826.6" r="0.63" fill="#8070b8" opacity="0.9"/>
<circle cx="146.6" cy="794.4" r="0.41" fill="#4a4088" opacity="0.9"/>
<circle cx="121.0" cy="796.4" r="0.75" fill="#7a6ab0" opacity="0.9"/>
<circle cx="88.8" cy="844.0" r="1.08" fill="#5a4c98" opacity="0.9"/>
<circle cx="71.0" cy="837.8" r="0.42" fill="#5a4c98" opacity="0.9"/>
<circle cx="79.0" cy="808.0" r="0.99" fill="#5a5070" opacity="0.9"/>
<circle cx="70.2" cy="786.1" r="0.41" fill="#5a5070" opacity="0.9"/>
<circle cx="134.7" cy="756.3" r="0.57" fill="#4a4088" opacity="0.9"/>
<circle cx="152.1" cy="790.2" r="0.43" fill="#4a4088" opacity="0.9"/>
<circle cx="61.1" cy="785.0" r="0.61" fill="#6a6078" opacity="0.9"/>
<circle cx="73.3" cy="752.5" r="0.42" fill="#7a6ab0" opacity="0.9"/>
<circle cx="59.4" cy="774.3" r="0.72" fill="#4a4088" opacity="0.9"/>
<circle cx="76.0" cy="764.4" r="0.75" fill="#7a6ab0" opacity="0.9"/>
<circle cx="113.3" cy="789.6" r="0.46" fill="#5a5070" opacity="0.9"/>
<circle cx="95.5" cy="826.1" r="0.41" fill="#5a5070" opacity="0.9"/>
<circle cx="52.3" cy="817.2" r="0.40" fill="#6a5aa8" opacity="0.9"/>
<circle cx="148.6" cy="765.5" r="0.51" fill="#6a6078" opacity="0.9"/>
<circle cx="77.8" cy="772.9" r="0.82" fill="#4a4088" opacity="0.9"/>
<circle cx="139.0" cy="816.3" r="0.45" fill="#8070b8" opacity="0.9"/>
<circle cx="64.7" cy="822.5" r="0.49" fill="#6a6078" opacity="0.9"/>
<circle cx="109.9" cy="787.9" r="0.41" fill="#5a4c98" opacity="0.9"/>
<circle cx="112.4" cy="765.6" r="1.08" fill="#4a4088" opacity="0.9"/>
<circle cx="132.0" cy="757.5" r="0.53" fill="#7a6ab0" opacity="0.9"/>
<circle cx="75.9" cy="766.5" r="1.00" fill="#4a4088" opacity="0.9"/>
<circle cx="82.0" cy="757.4" r="0.43" fill="#5a5070" opacity="0.9"/>
<circle cx="129.2" cy="750.1" r="1.09" fill="#8070b8" opacity="0.9"/>
<circle cx="69.5" cy="828.0" r="0.55" fill="#4a4088" opacity="0.9"/>
<circle cx="58.5" cy="820.3" r="0.44" fill="#6a6078" opacity="0.9"/>
<circle cx="76.2" cy="806.0" r="1.05" fill="#5a5070" opacity="0.9"/>
<circle cx="70.0" cy="843.3" r="0.88" fill="#7a6ab0" opacity="0.9"/>
<circle cx="104.4" cy="790.4" r="0.41" fill="#7a6ab0" opacity="0.9"/>
<circle cx="56.3" cy="778.9" r="0.82" fill="#4a4088" opacity="0.9"/>
<circle cx="122.1" cy="849.0" r="1.02" fill="#4a4088" opacity="0.9"/>
<circle cx="48.1" cy="809.1" r="0.43" fill="#5a4c98" opacity="0.9"/>
<circle cx="93.7" cy="793.4" r="0.52" fill="#5a5070" opacity="0.9"/>
<circle cx="117.8" cy="741.4" r="0.63" fill="#5a4c98" opacity="0.9"/>
<circle cx="111.4" cy="780.7" r="0.45" fill="#5a4c98" opacity="0.9"/>
<circle cx="143.9" cy="755.9" r="0.70" fill="#4a4088" opacity="0.9"/>
<circle cx="82.5" cy="837.1" r="0.83" fill="#5a5070" opacity="0.9"/>
<circle cx="89.3" cy="807.9" r="0.42" fill="#8070b8" opacity="0.9"/>
<circle cx="92.7" cy="775.8" r="0.40" fill="#5a4c98" opacity="0.9"/>
<circle cx="129.8" cy="800.7" r="1.08" fill="#5a4c98" opacity="0.9"/>
<circle cx="122.0" cy="762.6" r="0.58" fill="#7a6ab0" opacity="0.9"/>
<circle cx="111.5" cy="751.6" r="0.53" fill="#5a4c98" opacity="0.9"/>
<circle cx="49.5" cy="780.6" r="0.45" fill="#7a6ab0" opacity="0.9"/>
<circle cx="123.6" cy="803.7" r="0.67" fill="#6a5aa8" opacity="0.9"/>
<circle cx="99.2" cy="782.5" r="0.71" fill="#6a6078" opacity="0.9"/>
<circle cx="84.7" cy="750.3" r="0.75" fill="#8070b8" opacity="0.9"/>
<circle cx="111.2" cy="759.2" r="0.62" fill="#7a6ab0" opacity="0.9"/>
<circle cx="75.0" cy="753.5" r="0.43" fill="#8070b8" opacity="0.9"/>
<circle cx="59.8" cy="773.4" r="0.53" fill="#5a4c98" opacity="0.9"/>
<circle cx="101.7" cy="747.6" r="0.71" fill="#7a6ab0" opacity="0.9"/>
<circle cx="82.0" cy="764.4" r="0.55" fill="#8070b8" opacity="0.9"/>
<circle cx="147.7" cy="810.5" r="1.03" fill="#5a5070" opacity="0.9"/>
<circle cx="67.2" cy="781.6" r="1.6" fill="#1c1a52"/>
<circle cx="71" cy="781.6" r="1.6" fill="#1c1a52"/>
<circle cx="82.3" cy="786" r="1.5" fill="#1c1a52"/>
<circle cx="75.2" cy="809.2" r="1.8" fill="#1c1a52"/>
<circle cx="106.4" cy="823.5" r="1.9" fill="#1c1a52"/>
<circle cx="133.1" cy="775.3" r="1.6" fill="#1c1a52"/>
<circle cx="133.1" cy="788.7" r="1.5" fill="#1c1a52"/>
<circle cx="83.6" cy="815.9" r="1.4" fill="#1c1a52"/>
<circle cx="121" cy="809.5" r="1.4" fill="#1c1a52"/>
<circle cx="73.4" cy="798.5" r="1.3" fill="#1c1a52"/>
<ellipse cx="105.4" cy="797.6" rx="59.8" ry="58.8" fill="url(#rimG)"/>
</g>
<g clip-path="url(#d5)">
<ellipse cx="230.0" cy="797.8" rx="60.0" ry="59.0" fill="#d7c3cc"/>
<ellipse cx="170.0" cy="801.8" rx="9" ry="40" fill="#c6aab8" opacity="0.9" filter="url(#blur4)"/>
<circle cx="301.5" cy="797.8" r="108.3" fill="#dbdada" filter="url(#blur4)"/>
<ellipse cx="230.0" cy="797.8" rx="58.5" ry="57.5" fill="none" stroke="#d8c4cc" stroke-width="3" opacity="0.6" filter="url(#blur2)"/>
<circle cx="203.2" cy="790.4" r="0.49" fill="#968a94"/>
<circle cx="191.4" cy="765.0" r="0.35" fill="#a0949e"/>
<circle cx="217.6" cy="788.5" r="0.35" fill="#74687c"/>
<circle cx="194.1" cy="810.9" r="0.35" fill="#6a5c80"/>
<circle cx="228.5" cy="777.4" r="0.60" fill="#6a5c80"/>
<circle cx="200.8" cy="779.9" r="0.35" fill="#857884"/>
<circle cx="225.6" cy="774.1" r="0.41" fill="#968a94"/>
<circle cx="227.9" cy="790.4" r="0.44" fill="#a0949e"/>
<circle cx="210.7" cy="813.8" r="0.60" fill="#968a94"/>
<circle cx="196.6" cy="783.9" r="0.55" fill="#968a94"/>
<circle cx="208.8" cy="841.2" r="0.65" fill="#a0949e"/>
<circle cx="204.5" cy="832.1" r="0.39" fill="#74687c"/>
<circle cx="223.4" cy="790.6" r="0.44" fill="#968a94"/>
<circle cx="226.9" cy="813.7" r="0.59" fill="#74687c"/>
<circle cx="203.9" cy="828.3" r="0.35" fill="#968a94"/>
<circle cx="228.9" cy="775.7" r="0.38" fill="#6a5c80"/>
<circle cx="217.6" cy="779.5" r="0.63" fill="#74687c"/>
<circle cx="207.1" cy="847.3" r="0.39" fill="#857884"/>
<circle cx="229.1" cy="788.0" r="0.36" fill="#857884"/>
<circle cx="219.8" cy="784.4" r="0.64" fill="#857884"/>
<circle cx="204.5" cy="824.9" r="0.42" fill="#857884"/>
<circle cx="202.2" cy="772.4" r="0.38" fill="#a0949e"/>
<circle cx="222.6" cy="754.8" r="0.37" fill="#74687c"/>
<circle cx="221.0" cy="776.8" r="0.61" fill="#74687c"/>
<circle cx="198.4" cy="826.9" r="0.35" fill="#6a5c80"/>
<circle cx="210.5" cy="754.4" r="0.35" fill="#74687c"/>
<circle cx="209.1" cy="766.9" r="0.62" fill="#74687c"/>
<circle cx="200.1" cy="820.1" r="0.38" fill="#74687c"/>
<ellipse cx="230.0" cy="797.8" rx="60.0" ry="59.0" fill="url(#rimG)"/>
</g>
<g clip-path="url(#d6)">
<ellipse cx="354.7" cy="797.9" rx="60.0" ry="59.0" fill="#d5c0ca"/>
<ellipse cx="294.7" cy="801.9" rx="9" ry="40" fill="#c0a6b7" opacity="0.9" filter="url(#blur4)"/>
<circle cx="446.6" cy="797.9" r="122.0" fill="#dbdada" filter="url(#blur4)"/>
<ellipse cx="354.7" cy="797.9" rx="58.5" ry="57.5" fill="none" stroke="#d8c4cc" stroke-width="3" opacity="0.6" filter="url(#blur2)"/>
<circle cx="340.8" cy="773.3" r="0.60" fill="#857884"/>
<circle cx="359.4" cy="766.3" r="0.42" fill="#857884"/>
<circle cx="362.3" cy="822.0" r="0.57" fill="#74687c"/>
<circle cx="341.9" cy="795.2" r="0.35" fill="#857884"/>
<circle cx="352.8" cy="752.0" r="0.38" fill="#968a94"/>
<circle cx="334.9" cy="776.6" r="0.38" fill="#968a94"/>
<circle cx="372.6" cy="803.3" r="0.75" fill="#6a5c80"/>
<circle cx="357.4" cy="796.2" r="0.38" fill="#74687c"/>
<circle cx="316.0" cy="796.9" r="0.36" fill="#74687c"/>
<circle cx="359.6" cy="815.0" r="0.40" fill="#a0949e"/>
<circle cx="321.9" cy="813.7" r="0.47" fill="#6a5c80"/>
<circle cx="348.2" cy="784.8" r="0.54" fill="#6a5c80"/>
<circle cx="331.8" cy="791.4" r="0.36" fill="#968a94"/>
<circle cx="347.9" cy="786.4" r="0.46" fill="#857884"/>
<circle cx="331.1" cy="788.0" r="0.42" fill="#968a94"/>
<circle cx="363.8" cy="770.3" r="0.53" fill="#968a94"/>
<circle cx="326.3" cy="789.9" r="0.70" fill="#6a5c80"/>
<circle cx="360.0" cy="771.1" r="0.64" fill="#968a94"/>
<circle cx="365.2" cy="790.4" r="0.40" fill="#6a5c80"/>
<circle cx="365.9" cy="836.2" r="0.52" fill="#74687c"/>
<circle cx="356.1" cy="807.2" r="0.69" fill="#6a5c80"/>
<circle cx="362.3" cy="835.8" r="0.52" fill="#74687c"/>
<circle cx="314.7" cy="783.2" r="0.35" fill="#968a94"/>
<circle cx="342.4" cy="779.6" r="0.44" fill="#857884"/>
<circle cx="350.2" cy="755.6" r="0.37" fill="#6a5c80"/>
<circle cx="392.6" cy="758.3" r="0.65" fill="#a0949e"/>
<circle cx="372.3" cy="806.6" r="0.36" fill="#968a94"/>
<circle cx="345.2" cy="819.2" r="0.64" fill="#857884"/>
<circle cx="329.3" cy="777.8" r="0.35" fill="#6a5c80"/>
<circle cx="356.0" cy="785.5" r="0.55" fill="#74687c"/>
<circle cx="346.5" cy="831.7" r="0.44" fill="#857884"/>
<circle cx="359.6" cy="794.5" r="0.48" fill="#74687c"/>
<circle cx="352.2" cy="804.8" r="0.49" fill="#6a5c80"/>
<circle cx="362.4" cy="782.8" r="0.45" fill="#74687c"/>
<circle cx="354.5" cy="777.7" r="0.42" fill="#74687c"/>
<circle cx="356.7" cy="816.8" r="0.45" fill="#6a5c80"/>
<circle cx="364.0" cy="786.8" r="0.52" fill="#968a94"/>
<circle cx="352.7" cy="843.4" r="0.64" fill="#857884"/>
<circle cx="355.9" cy="816.8" r="0.59" fill="#968a94"/>
<circle cx="365.5" cy="824.8" r="0.35" fill="#74687c"/>
<circle cx="364.8" cy="810.2" r="0.49" fill="#968a94"/>
<circle cx="340.3" cy="779.1" r="0.53" fill="#857884"/>
<circle cx="333.5" cy="787.2" r="0.52" fill="#74687c"/>
<circle cx="344.8" cy="759.0" r="0.52" fill="#6a5c80"/>
<circle cx="351.2" cy="808.8" r="0.71" fill="#6a5c80"/>
<circle cx="360.3" cy="809.6" r="0.40" fill="#a0949e"/>
<circle cx="339.5" cy="789.5" r="0.38" fill="#857884"/>
<circle cx="383.6" cy="773.1" r="0.36" fill="#857884"/>
<circle cx="340.9" cy="770.0" r="0.42" fill="#968a94"/>
<circle cx="324.1" cy="805.8" r="0.36" fill="#a0949e"/>
<circle cx="336.9" cy="788.6" r="0.36" fill="#74687c"/>
<circle cx="352.5" cy="843.8" r="0.71" fill="#74687c"/>
<circle cx="367.9" cy="786.4" r="0.43" fill="#a0949e"/>
<circle cx="339.7" cy="833.1" r="0.39" fill="#968a94"/>
<circle cx="349.3" cy="824.4" r="0.48" fill="#74687c"/>
<circle cx="359.4" cy="795.3" r="0.35" fill="#857884"/>
<circle cx="346.2" cy="786.9" r="0.36" fill="#6a5c80"/>
<circle cx="348.8" cy="798.7" r="0.58" fill="#a0949e"/>
<circle cx="341.9" cy="826.8" r="0.55" fill="#74687c"/>
<circle cx="367.3" cy="808.4" r="0.42" fill="#857884"/>
<circle cx="349.4" cy="800.9" r="0.51" fill="#968a94"/>
<circle cx="359.9" cy="804.7" r="0.48" fill="#857884"/>
<circle cx="356.2" cy="787.6" r="0.38" fill="#a0949e"/>
<circle cx="361.0" cy="801.3" r="0.45" fill="#968a94"/>
<circle cx="357.3" cy="785.0" r="0.56" fill="#74687c"/>
<circle cx="333.4" cy="830.2" r="0.41" fill="#74687c"/>
<circle cx="336.9" cy="811.4" r="0.41" fill="#968a94"/>
<circle cx="381.9" cy="806.8" r="0.65" fill="#968a94"/>
<circle cx="352.8" cy="788.6" r="0.47" fill="#a0949e"/>
<ellipse cx="354.7" cy="797.9" rx="60.0" ry="59.0" fill="url(#rimG)"/>
</g>
<circle cx="244.6" cy="796.2" r="1.3" fill="#2a2870"/><circle cx="280" cy="796.5" r="0.9" fill="#4a4880"/>
<rect x="44.2" y="616.4" width="371.4" height="242.0" fill="none" stroke="#5e5757" stroke-width="1.6"/>
<line x1="44.20" y1="737.40" x2="415.60" y2="737.40" stroke="#5e5757" stroke-width="1.6" />
<text id="LA" x="2.33" y="25.90" font-size="19.50" fill="#000" stroke="#000" stroke-width="0.25" textLength="13.55" lengthAdjust="spacingAndGlyphs">A</text>
<text id="LB" x="406.26" y="25.50" font-size="19.50" fill="#000" stroke="#000" stroke-width="0.25" textLength="12.72" lengthAdjust="spacingAndGlyphs">B</text>
<text id="LC" x="5.40" y="292.23" font-size="19.50" fill="#000" stroke="#000" stroke-width="0.25" textLength="12.27" lengthAdjust="spacingAndGlyphs">C</text>
<text id="LD" x="412.18" y="298.74" font-size="19.50" fill="#000" stroke="#000" stroke-width="0.25" textLength="12.72" lengthAdjust="spacingAndGlyphs">D</text>
<text id="LE" x="9.91" y="570.70" font-size="19.50" fill="#000" stroke="#000" stroke-width="0.25" textLength="11.26" lengthAdjust="spacingAndGlyphs">E</text>
<text id="LF" x="459.16" y="535.79" font-size="19.50" fill="#000" stroke="#000" stroke-width="0.25" textLength="10.54" lengthAdjust="spacingAndGlyphs">F</text>
<text id="LG" x="461.64" y="741.98" font-size="19.50" fill="#000" stroke="#000" stroke-width="0.25" textLength="13.83" lengthAdjust="spacingAndGlyphs">G</text>
<text id="A_t" x="145.28" y="27.66" font-size="15.50" fill="#2a1f20" stroke="#2a1f20" stroke-width="0.25" textLength="49.59" lengthAdjust="spacingAndGlyphs">HepG2</text>
<text id="A_y0" x="71.19" y="180.40" font-size="14.20" fill="#231f20" stroke="#231f20" stroke-width="0.25" textLength="7.49" lengthAdjust="spacingAndGlyphs">0</text>
<text id="A_y1" x="73.15" y="154.27" font-size="14.20" fill="#231f20" stroke="#231f20" stroke-width="0.25" textLength="5.40" lengthAdjust="spacingAndGlyphs">1</text>
<text id="A_y2" x="71.21" y="127.80" font-size="14.20" fill="#231f20" stroke="#231f20" stroke-width="0.25" textLength="7.39" lengthAdjust="spacingAndGlyphs">2</text>
<text id="A_y3" x="71.39" y="100.00" font-size="14.20" fill="#231f20" stroke="#231f20" stroke-width="0.25" textLength="7.41" lengthAdjust="spacingAndGlyphs">3</text>
<text id="A_y4" x="71.57" y="71.10" font-size="14.20" fill="#231f20" stroke="#231f20" stroke-width="0.25" textLength="6.71" lengthAdjust="spacingAndGlyphs">4</text>
<text id="A_y5" x="71.04" y="47.90" font-size="14.20" fill="#231f20" stroke="#231f20" stroke-width="0.25" textLength="7.57" lengthAdjust="spacingAndGlyphs">5</text>
<text id="A_x24" x="77.55" y="196.20" font-size="14.20" fill="#231f20" stroke="#231f20" stroke-width="0.25" textLength="14.67" lengthAdjust="spacingAndGlyphs">24</text>
<text id="A_x48" x="113.43" y="196.20" font-size="14.20" fill="#231f20" stroke="#231f20" stroke-width="0.25" textLength="15.21" lengthAdjust="spacingAndGlyphs">48</text>
<text id="A_x72" x="152.08" y="196.20" font-size="14.20" fill="#231f20" stroke="#231f20" stroke-width="0.25" textLength="15.19" lengthAdjust="spacingAndGlyphs">72</text>
<text id="A_x96" x="188.65" y="196.20" font-size="14.20" fill="#231f20" stroke="#231f20" stroke-width="0.25" textLength="15.83" lengthAdjust="spacingAndGlyphs">96</text>
<text id="A_x120" x="224.66" y="196.20" font-size="14.20" fill="#231f20" stroke="#231f20" stroke-width="0.25" textLength="24.74" lengthAdjust="spacingAndGlyphs">120</text>
<text id="A_xl" x="118.05" y="216.83" font-size="14.40" fill="#231f20" stroke="#231f20" stroke-width="0.25" textLength="87.42" lengthAdjust="spacingAndGlyphs">Time (hours)</text>
<text id="A_yl" transform="translate(57.43 167.57) rotate(-90)" x="0" y="0" font-size="13.20" fill="#231f20" stroke="#231f20" stroke-width="0.25" textLength="123.43" lengthAdjust="spacingAndGlyphs">OD Value (450nm)</text>
<text id="A_lNC" x="305.87" y="48.30" font-size="14.00" fill="#22318f" stroke="#22318f" stroke-width="0.25" textLength="20.54" lengthAdjust="spacingAndGlyphs">NC</text>
<text id="A_lTS" x="307.04" y="70.40" font-size="14.00" fill="#e8262a" stroke="#e8262a" stroke-width="0.25" textLength="17.85" lengthAdjust="spacingAndGlyphs">TS</text>
<text id="A_lBio" x="306.28" y="92.95" font-size="14.00" fill="#199a48" stroke="#199a48" stroke-width="0.25" textLength="71.06" lengthAdjust="spacingAndGlyphs">Bio-SS-TS</text>
<text id="C_t" x="147.88" y="298.94" font-size="15.50" fill="#2a1f20" stroke="#2a1f20" stroke-width="0.25" textLength="38.15" lengthAdjust="spacingAndGlyphs">Huh7</text>
<text id="C_y0.0" x="63.06" y="446.30" font-size="14.20" fill="#231f20" stroke="#231f20" stroke-width="0.25" textLength="19.33" lengthAdjust="spacingAndGlyphs">0.0</text>
<text id="C_y0.5" x="63.07" y="414.90" font-size="14.20" fill="#231f20" stroke="#231f20" stroke-width="0.25" textLength="19.05" lengthAdjust="spacingAndGlyphs">0.5</text>
<text id="C_y1.0" x="63.14" y="384.00" font-size="14.20" fill="#231f20" stroke="#231f20" stroke-width="0.25" textLength="19.22" lengthAdjust="spacingAndGlyphs">1.0</text>
<text id="C_y1.5" x="63.19" y="352.80" font-size="14.20" fill="#231f20" stroke="#231f20" stroke-width="0.25" textLength="19.01" lengthAdjust="spacingAndGlyphs">1.5</text>
<text id="C_y2.0" x="62.71" y="320.90" font-size="14.20" fill="#231f20" stroke="#231f20" stroke-width="0.25" textLength="19.68" lengthAdjust="spacingAndGlyphs">2.0</text>
<text id="C_x24" x="79.60" y="463.10" font-size="14.20" fill="#231f20" stroke="#231f20" stroke-width="0.25" textLength="15.19" lengthAdjust="spacingAndGlyphs">24</text>
<text id="C_x48" x="114.67" y="463.10" font-size="14.20" fill="#231f20" stroke="#231f20" stroke-width="0.25" textLength="14.49" lengthAdjust="spacingAndGlyphs">48</text>
<text id="C_x72" x="150.22" y="463.10" font-size="14.20" fill="#231f20" stroke="#231f20" stroke-width="0.25" textLength="14.99" lengthAdjust="spacingAndGlyphs">72</text>
<text id="C_x96" x="186.01" y="463.10" font-size="14.20" fill="#231f20" stroke="#231f20" stroke-width="0.25" textLength="15.36" lengthAdjust="spacingAndGlyphs">96</text>
<text id="C_x120" x="218.19" y="463.10" font-size="14.20" fill="#231f20" stroke="#231f20" stroke-width="0.25" textLength="22.89" lengthAdjust="spacingAndGlyphs">120</text>
<text id="C_xl" x="121.06" y="481.83" font-size="14.40" fill="#231f20" stroke="#231f20" stroke-width="0.25" textLength="86.24" lengthAdjust="spacingAndGlyphs">Time (hours)</text>
<text id="C_yl" transform="translate(51.92 435.81) rotate(-90)" x="0" y="0" font-size="13.76" fill="#231f20" stroke="#231f20" stroke-width="0.25" textLength="124.04" lengthAdjust="spacingAndGlyphs">OD Value (450nm)</text>
<text id="C_lNC" x="304.32" y="315.10" font-size="14.00" fill="#1f3a9c" stroke="#1f3a9c" stroke-width="0.25" textLength="20.53" lengthAdjust="spacingAndGlyphs">NC</text>
<text id="C_lTS" x="305.65" y="338.30" font-size="14.00" fill="#e8262a" stroke="#e8262a" stroke-width="0.25" textLength="16.67" lengthAdjust="spacingAndGlyphs">TS</text>
<text id="C_lBio" x="304.71" y="360.40" font-size="14.00" fill="#199a48" stroke="#199a48" stroke-width="0.25" textLength="71.20" lengthAdjust="spacingAndGlyphs">Bio-SS-TS</text>
<text id="B_t" x="551.86" y="29.67" font-size="16.80" fill="#2a1f20" stroke="#2a1f20" stroke-width="0.25" textLength="55.23" lengthAdjust="spacingAndGlyphs">HepG2</text>
<text id="B_y150" x="471.72" y="48.76" font-size="14.40" fill="#231f20" stroke="#231f20" stroke-width="0.25" textLength="23.29" lengthAdjust="spacingAndGlyphs">150</text>
<text id="B_y100" x="471.72" y="87.76" font-size="14.40" fill="#231f20" stroke="#231f20" stroke-width="0.25" textLength="23.29" lengthAdjust="spacingAndGlyphs">100</text>
<text id="B_y50" x="479.40" y="134.90" font-size="14.40" fill="#231f20" stroke="#231f20" stroke-width="0.25" textLength="15.66" lengthAdjust="spacingAndGlyphs">50</text>
<text id="B_y0" x="487.72" y="172.40" font-size="14.40" fill="#231f20" stroke="#231f20" stroke-width="0.25" textLength="7.33" lengthAdjust="spacingAndGlyphs">0</text>
<text id="B_yl" transform="translate(466.97 159.98) rotate(-90)" x="0" y="0" font-size="13.63" fill="#231f20" stroke="#231f20" stroke-width="0.25" textLength="113.66" lengthAdjust="spacingAndGlyphs">Cell Viability (%)</text>
<text id="B_xNC" transform="translate(533.16 189.89) rotate(-45)" x="0" y="0" text-anchor="end" font-size="14.20" fill="#231f20" stroke="#231f20" stroke-width="0.25">NC</text>
<text id="B_xTS" transform="translate(578.68 190.21) rotate(-45)" x="0" y="0" text-anchor="end" font-size="13.93" fill="#231f20" stroke="#231f20" stroke-width="0.25">TS</text>
<text id="B_xBio" transform="translate(630.76 188.93) rotate(-45)" x="0" y="0" text-anchor="end" font-size="14.33" fill="#231f20" stroke="#231f20" stroke-width="0.25">Bio-SS-TS</text>
<text id="D_t" x="558.91" y="287.60" font-size="15.80" fill="#2a1f20" stroke="#2a1f20" stroke-width="0.25" textLength="38.65" lengthAdjust="spacingAndGlyphs">Huh7</text>
<text id="D_y150" x="475.53" y="306.30" font-size="14.40" fill="#231f20" stroke="#231f20" stroke-width="0.25" textLength="22.93" lengthAdjust="spacingAndGlyphs">150</text>
<text id="D_y100" x="475.53" y="345.90" font-size="14.40" fill="#231f20" stroke="#231f20" stroke-width="0.25" textLength="22.93" lengthAdjust="spacingAndGlyphs">100</text>
<text id="D_y50" x="483.30" y="386.00" font-size="14.40" fill="#231f20" stroke="#231f20" stroke-width="0.25" textLength="15.24" lengthAdjust="spacingAndGlyphs">50</text>
<text id="D_y0" x="491.79" y="424.70" font-size="14.40" fill="#231f20" stroke="#231f20" stroke-width="0.25" textLength="6.49" lengthAdjust="spacingAndGlyphs">0</text>
<text id="D_yl" transform="translate(470.01 409.30) rotate(-90)" x="0" y="0" font-size="13.50" fill="#231f20" stroke="#231f20" stroke-width="0.25" textLength="113.89" lengthAdjust="spacingAndGlyphs">Cell Viability (%)</text>
<text id="D_xNC" transform="translate(537.87 440.89) rotate(-45)" x="0" y="0" text-anchor="end" font-size="13.98" fill="#231f20" stroke="#231f20" stroke-width="0.25">NC</text>
<text id="D_xTS" transform="translate(584.87 441.11) rotate(-45)" x="0" y="0" text-anchor="end" font-size="13.81" fill="#231f20" stroke="#231f20" stroke-width="0.25">TS</text>
<text id="D_xBio" transform="translate(639.09 439.55) rotate(-45)" x="0" y="0" text-anchor="end" font-size="14.35" fill="#231f20" stroke="#231f20" stroke-width="0.25">Bio-SS-TS</text>
<text id="F_t" x="600.14" y="533.80" font-size="15.80" fill="#2a1f20" stroke="#2a1f20" stroke-width="0.25" textLength="50.27" lengthAdjust="spacingAndGlyphs">HepG2</text>
<text id="F_y500" x="526.34" y="547.80" font-size="14.50" fill="#231f20" stroke="#231f20" stroke-width="0.25" textLength="23.86" lengthAdjust="spacingAndGlyphs">500</text>
<text id="F_y400" x="527.05" y="571.90" font-size="14.50" fill="#231f20" stroke="#231f20" stroke-width="0.25" textLength="23.17" lengthAdjust="spacingAndGlyphs">400</text>
<text id="F_y300" x="526.58" y="595.90" font-size="14.50" fill="#231f20" stroke="#231f20" stroke-width="0.25" textLength="23.59" lengthAdjust="spacingAndGlyphs">300</text>
<text id="F_y200" x="526.53" y="620.00" font-size="14.50" fill="#231f20" stroke="#231f20" stroke-width="0.25" textLength="23.60" lengthAdjust="spacingAndGlyphs">200</text>
<text id="F_y100" x="526.29" y="642.20" font-size="14.50" fill="#231f20" stroke="#231f20" stroke-width="0.25" textLength="23.80" lengthAdjust="spacingAndGlyphs">100</text>
<text id="F_y0" x="543.00" y="664.10" font-size="14.50" fill="#231f20" stroke="#231f20" stroke-width="0.25" textLength="7.15" lengthAdjust="spacingAndGlyphs">0</text>
<text id="F_yl" transform="translate(519.69 663.04) rotate(-90)" x="0" y="0" font-size="13.25" fill="#231f20" stroke="#231f20" stroke-width="0.25" textLength="136.73" lengthAdjust="spacingAndGlyphs">Number of colonies</text>
<text id="F_xNC" transform="translate(583.83 672.46) rotate(-45)" x="0" y="0" text-anchor="end" font-size="14.18" fill="#231f20" stroke="#231f20" stroke-width="0.25">NC</text>
<text id="F_xTS" transform="translate(629.05 672.82) rotate(-45)" x="0" y="0" text-anchor="end" font-size="13.86" fill="#231f20" stroke="#231f20" stroke-width="0.25">TS</text>
<text id="F_xBio" transform="translate(676.48 671.35) rotate(-45)" x="0" y="0" text-anchor="end" font-size="14.41" fill="#231f20" stroke="#231f20" stroke-width="0.25">Bio-SS-TS</text>
<text id="G_t" x="609.87" y="744.00" font-size="15.80" fill="#2a1f20" stroke="#2a1f20" stroke-width="0.25" textLength="38.86" lengthAdjust="spacingAndGlyphs">Huh7</text>
<text id="G_y1500" x="521.63" y="770.90" font-size="14.40" fill="#231f20" stroke="#231f20" stroke-width="0.25" textLength="31.67" lengthAdjust="spacingAndGlyphs">1500</text>
<text id="G_y1000" x="521.63" y="809.10" font-size="14.40" fill="#231f20" stroke="#231f20" stroke-width="0.25" textLength="31.67" lengthAdjust="spacingAndGlyphs">1000</text>
<text id="G_y500" x="529.45" y="846.90" font-size="14.40" fill="#231f20" stroke="#231f20" stroke-width="0.25" textLength="23.80" lengthAdjust="spacingAndGlyphs">500</text>
<text id="G_y0" x="546.63" y="887.80" font-size="14.40" fill="#231f20" stroke="#231f20" stroke-width="0.25" textLength="6.60" lengthAdjust="spacingAndGlyphs">0</text>
<text id="G_yl" transform="translate(517.94 885.04) rotate(-90)" x="0" y="0" font-size="12.58" fill="#231f20" stroke="#231f20" stroke-width="0.25" textLength="136.84" lengthAdjust="spacingAndGlyphs">Number of colonies</text>
<text id="G_xNC" transform="translate(587.92 894.49) rotate(-45)" x="0" y="0" text-anchor="end" font-size="14.19" fill="#231f20" stroke="#231f20" stroke-width="0.25">NC</text>
<text id="G_xTS" transform="translate(631.20 894.65) rotate(-45)" x="0" y="0" text-anchor="end" font-size="13.95" fill="#231f20" stroke="#231f20" stroke-width="0.25">TS</text>
<text id="G_xBio" transform="translate(680.47 892.82) rotate(-45)" x="0" y="0" text-anchor="end" font-size="14.43" fill="#231f20" stroke="#231f20" stroke-width="0.25">Bio-SS-TS</text>
<text id="E_NC" x="90.12" y="607.30" font-size="14.00" fill="#2a1f20" stroke="#2a1f20" stroke-width="0.25" textLength="19.90" lengthAdjust="spacingAndGlyphs">NC</text>
<text id="E_TS" x="219.86" y="604.65" font-size="14.00" fill="#2a1f20" stroke="#2a1f20" stroke-width="0.25" textLength="17.23" lengthAdjust="spacingAndGlyphs">TS</text>
<text id="E_Bio" x="322.34" y="604.90" font-size="14.00" fill="#2a1f20" stroke="#2a1f20" stroke-width="0.25" textLength="71.19" lengthAdjust="spacingAndGlyphs">Bio-SS-TS</text>
<text id="E_Hep" transform="translate(36.16 693.78) rotate(-90)" x="0" y="0" font-size="16.92" fill="#2a1f20" stroke="#2a1f20" stroke-width="0.25" textLength="45.28" lengthAdjust="spacingAndGlyphs">HepG2</text>
<text id="E_Huh" transform="translate(36.11 811.87) rotate(-90)" x="0" y="0" font-size="15.22" fill="#2a1f20" stroke="#2a1f20" stroke-width="0.25" textLength="38.52" lengthAdjust="spacingAndGlyphs">Huh7</text>
</svg>
</body></html>
